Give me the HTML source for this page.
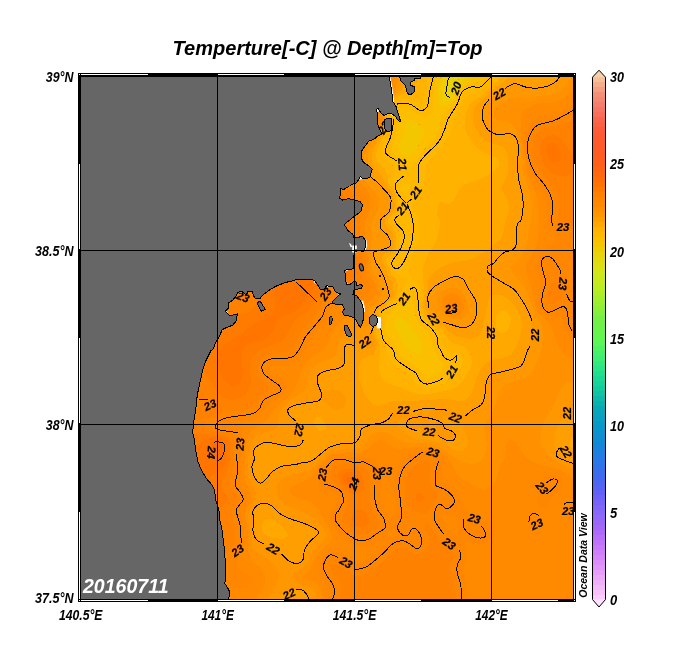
<!DOCTYPE html>
<html><head><meta charset="utf-8"><title>Temperture[-C] @ Depth[m]=Top</title>
<style>html,body{margin:0;padding:0;background:#fff}svg{display:block}</style></head>
<body>
<svg width="684" height="660" viewBox="0 0 684 660">
<rect width="684" height="660" fill="#fff"/>
<defs><clipPath id="mc"><rect x="81" y="77" width="492" height="522"/></clipPath></defs>
<g clip-path="url(#mc)">
<rect x="81" y="77" width="492" height="522" fill="#ff8c00"/>
<g shape-rendering="crispEdges" fill-rule="evenodd">
<path fill="#e9d30b" d="M450 76L452 76L454 76L456 76L458 76L460 76L459.5 78L458 80L457.5 82L457 84L456 86L455 88L454 89.5L452.5 92L450.5 94L448 95.5L447 94L446 92L446 90.5L446 88L446.5 86L447.5 84L448 82L448.5 80L449 78L449 76Z"/>
<path fill="#eecd05" d="M444 76L446 76L448 76L449 78L448.5 80L448 81.5L447.5 84L446.5 86L446 88L446 89.5L446 92L447 94L448 95.5L450 95L452 92.5L453.5 90L455 88L456 86.5L457 84L457.5 82L458 80.5L459.5 78L460 76.5L462 76L464 76L466 76L468 76L466.5 78L464 79.5L462 82L461 84L460.5 86L460 87.5L458 90L456 92L454.5 94L454 95.5L452.5 98L450 100L448 101L446 101.5L444 101L442.5 100L441.5 98L441.5 96L441.5 94L441.5 92L441 90L441 88L441 86L441.5 84L442.5 82L443 80L443.5 78L443.5 76Z"/>
<path fill="#f4c600" d="M442 76L443.5 76L443.5 78L443 80L442.5 82L441.5 84L441 86L441 88L441 90L441.5 92L441.5 94L441.5 96L441.5 98L442.5 100L444 101L446 101.5L448 101L450 100L452 98.5L453.5 96L454.5 94L456 92L458 90L459.5 88L460.5 86L461 84L462 82L463.5 80L466 78.5L468 76.5L470 76L472 76L474 76L473.5 78L472 79L470 80L468 80.5L466 81.5L464 84L463 86L462.5 88L461 90L460 91L458 93.5L457 96L456.5 98L455.5 100L454 101L453 102L450 103.5L448 104.5L446 105.5L444 106L442 106L440 105L438 102L437.5 100L437.5 98L437.5 96L438 94L438 92L438 90L438 88L438 86L438.5 84L439 82L440 80L440.5 78L440.5 76L442 76ZM408 120.5L410 120L412 120.5L414 121L416 122L418 123.5L420 125L421 126L422 127.5L423.5 130L423.5 132L423.5 134L423 136L422.5 138L421.5 140L420.5 142L419.5 144L418 146L417 148L416 149.5L414 152L412 154L410 155.5L408 156L406 156L404 155.5L402 154L400 152L399 150L399 148L399 146L399.5 144L400 142L401 140L401.5 138L402 136.5L403 134L403.5 132L403.5 130L404 128L404.5 126L405 124L406 122.5L408 120.5ZM400 318L402 318.5L404 319.5L406 321L408 323.5L410 325.5L412 328L413.5 330L415 332L417 334L418 335.5L419.5 338L420.5 340L421 342L421.5 344L421.5 346L422 348L421.5 350L421.5 352L420 353.5L418 353.5L416 353.5L414 352.5L412 351.5L410 350.5L408 349L406 346.5L404 344L403 342L402 340.5L400.5 338L400 336.5L398.5 334L397.5 332L396 330L395 328L394 326L394 324L394 322L395 320L398 318L400 318Z"/>
<path fill="#fbbf00" d="M438 76L440 76L440.5 78L440 79.5L439 82L438.5 84L438 85.5L438 88L438 90L438 92L438 94L437.5 96L437.5 98L437.5 100L438 101.5L439 104L442 106L444 106L446 105.5L448 104.5L450 103.5L452 102.5L454 101L455.5 100L456.5 98L457 96L458 94L459 92L461 90L462 88.5L463 86L464 84L465.5 82L468 80.5L469.5 80L472 79L473.5 78L475 76L478 76L480 76L482 76L484 76L483.5 78L482 79.5L480 81L478.5 82L476 83L474 83.5L472 84L470 84L468 84.5L466.5 86L465.5 88L464 90L462.5 92L461 94L460 96L459.5 98L459 100L458 102L456 104L454 105.5L453 106L450 108L448 109.5L446 112L444.5 114L443 116L442 117.5L441 120L440 122L440 124L439.5 126L439 128L438 130L437.5 132L436.5 134L435.5 136L434.5 138L433 140L432 141L430 143.5L428 145.5L426 147.5L424 150L422.5 152L421 154L420 155L418 157.5L416 160L414.5 162L413 164L412 165.5L410 167.5L408 167L406 165.5L404.5 164L402.5 162L400.5 160L398 158L396.5 156L394.5 154L392.5 152L392 150.5L391.5 148L392 146L393 144L393.5 142L394.5 140L395 138L395.5 136L396 134L396.5 132L397 130L397 128L397.5 126L397.5 124L398 122L398 120L398 118.5L398 116L397.5 114L398 112.5L400 110L402 109.5L404 109L406 109.5L408 109.5L410 110L412 111L413.5 112L416 113.5L418 114.5L420 115.5L421.5 116L424 116.5L426 116.5L428 116L430 115L431 114L432 112.5L432.5 110L432.5 108L432.5 106L432.5 104L432.5 102L432.5 100L432.5 98L433 96L433.5 94L434 92L434 90L434 88L434 86.5L434.5 84L435 82L436 80L436.5 78L437 76ZM406.5 122L405 124L404.5 126L404 128L403.5 130L403.5 132L403 134L402 136L401.5 138L401 140L400 142L399.5 144L399 146L399 148L399 150L400 151.5L402 154L404 155.5L406 156L408 156L410 155.5L412 154L414 152L415.5 150L417 148L418 146.5L419.5 144L420 142.5L421.5 140L422.5 138L423 136L423.5 134L423.5 132L423.5 130L422.5 128L421 126L420 125L419 124L416 122L414 121L412 120.5L410 120L408 120.5L406.5 122ZM406 183.5L408 182.5L410 183L410 184.5L409.5 186L409 188L408.5 190L407 192L404 193L402 192L400.5 190L400 188L401.5 186L404 184.5L406 183.5ZM404 219.5L404.5 222L403.5 220ZM408 301L410 300L412 300.5L413 302L413.5 304L413.5 306L413.5 308L413.5 310L414 312L415 314L415.5 316L416.5 318L417.5 320L418.5 322L420 324L421.5 326L423 328L425.5 330L427.5 332L429 334L430 336L430.5 338L431.5 340L432 342L432 344L432.5 346L433.5 348L434 349.5L435 352L436 353.5L437 356L438 357.5L439.5 360L441.5 362L443.5 364L444 366L443 368L442 369.5L440 372L438 373.5L436 375L434.5 376L432 377L430 377.5L428 377.5L426 377L424.5 376L423 374L421.5 372L420 370L418 368L416 367L414 365.5L412 364.5L410 363L408.5 362L406 360.5L404 359L403 358L401 356L400 354.5L398.5 352L398 350.5L396.5 348L395.5 346L394 344L392.5 342L391 340L390 339L388.5 336L387 334L386 332L385 330L385 328L385.5 326L386 324L386 322.5L386 320L386 318L386 316L388 314.5L390 313L391 312L392 310.5L393.5 308L396 306.5L398 306L400 305.5L402 305L403.5 304L406 302.5L408 301ZM399.5 318L396 319.5L394 322L394 324L394 326L395 328L396 329.5L397.5 332L398.5 334L399.5 336L400.5 338L402 340L403 342L404 344L405.5 346L407 348L409.5 350L412 351.5L414 352.5L416 353.5L418 353.5L420 353.5L421.5 352L421.5 350L422 348L421.5 346L421.5 344L421 342L420.5 340L419.5 338L418.5 336L417 334L415 332L414 330.5L412 328L410 326L408.5 324L407 322L404.5 320L402 318.5L400.5 318Z"/>
<path fill="#ffb800" d="M428 78L428 76L430 76L432 76L434 76L436 76L436.5 78L436 80L435 82L434.5 84L434 86L434 88L434 90L434 92L433.5 94L433 96L432.5 98L432.5 100L432.5 102L432.5 104L432.5 106L432.5 108L432.5 110L432.5 112L431 114L430 115L428 116L426 116.5L424 116.5L422 116L420 115.5L418 114.5L416 113.5L414 112.5L412 111L410 110L408 109.5L406 109.5L404 109L402 109.5L400 110L398 112L397.5 114L398 116L398 118L398 120L398 122L397.5 124L397.5 126L397 128L397 130L396.5 132L396 134L395.5 136L395 138L394.5 140L393.5 142L393 144L392 146L391.5 148L391.5 150L392.5 152L394 153.5L396 155.5L398 158L400 160L402 162L404 163.5L406 165.5L408 167L410 167.5L411 166L413 164L414 162.5L416 160L417.5 158L419.5 156L421 154L422 152.5L424 150L426 148L427.5 146L429.5 144L431.5 142L433 140L434 138.5L435.5 136L436.5 134L437.5 132L438 130L439 128L439.5 126L440 124L440 122L441 120L441.5 118L443 116L444 114.5L446 112L447.5 110L450 108L452 106.5L454 105.5L456 104L458 102L459 100L459.5 98L460 96L461 94L462 92.5L464 90L465.5 88L466 86.5L468 84.5L470 84L472 84L474 83.5L476 83L478 82.5L480 81L481.5 80L483.5 78L484.5 76L486 76L488 76L490 76L492 76L494 76L495.5 76L494.5 78L493 80L490 82L488 83.5L486 85L484 87.5L482 89.5L480 91.5L478 92.5L476 93L474 93.5L472 93.5L470 94L468 94L466 95L465 96L464 98L463.5 100L463 102L462 104L460.5 106L459.5 108L459 110L458.5 112L457.5 114L456.5 116L455.5 118L454 120L453 122L452.5 124L452 126L451 128L450.5 130L450 132L449.5 134L448.5 136L447.5 138L446.5 140L445.5 142L444 144L443 146L442 147L440 149.5L438 151.5L436 153.5L434 155L432 157L431 158L430 159L428 161.5L426.5 164L425.5 166L425 168L424.5 170L424.5 172L424.5 174L424.5 176L424.5 178L424.5 180L424 182L424 184L423.5 186L422.5 188L422 189.5L421 192L420 194L419 196L418 197.5L416 200L414 201.5L412 204L412 206L413 208L414 209.5L416 212L416.5 214L417.5 216L418 218L418 220L418.5 222L419 224L419 226L419 228L419 230L419 232L419 234L418.5 236L418.5 238L418 239.5L417.5 242L416.5 244L416 246L415.5 248L415 250L414.5 252L413.5 254L412.5 256L412 257.5L411 260L410 262L409.5 264L409 266L408.5 268L408.5 270L408.5 272L408.5 274L409 276L411 278L414 279.5L416 281.5L418 284L418.5 286L419.5 288L420 289.5L420.5 292L421 294L421 296L420.5 298L420 299.5L419.5 302L419 304L419 306L419.5 308L420.5 310L421 312L421 314L422 316L423.5 318L426 320L428 321.5L429.5 324L431.5 326L433.5 328L436 330L438 331.5L439.5 334L440.5 336L441 338L441.5 340L442 342L443 344L444 346L444.5 348L446 350L448 352L450 352.5L452 352.5L454 352.5L456 352.5L458 353L459.5 354L461 356L461.5 358L462.5 360L462.5 362L462.5 364L462 366L460.5 368L458 369.5L456 371L454.5 372L453 374L451.5 376L450 377.5L448 380L446 381.5L444 383L442.5 384L440 385L438 386L436 386.5L434 387L432 387L430 387.5L428 387.5L426 387.5L424 387.5L422 387L420 386L418 385L416.5 384L414.5 382L413 380L412 378L410 376L408 374.5L406 373.5L404 372L402 371L400.5 370L398 368L396 366.5L394 365L392 362.5L390.5 360L389.5 358L388.5 356L387.5 354L387 352L386 350.5L385 348L384.5 346L383.5 344L382.5 342L381.5 340L380.5 338L379.5 336L379 334L379 332L379.5 330L380.5 328L381.5 326L382.5 324L383 322L383 320L383 318L382.5 316L381.5 314L381.5 312L384 311L386 311L388 310L389 308L389.5 306L390 304.5L392 303L394 302.5L395.5 302L398 300.5L399 298L399.5 296L399.5 294L400.5 292L402 290L403.5 288L405 286L406 284L406.5 282L407 280L406 278.5L404 277L402 276.5L400 275.5L398 275L396.5 274L394.5 272L393.5 270L392.5 268L391.5 266L390.5 264L390 262.5L390 260L391.5 258L394 256.5L396 254.5L397.5 252L398.5 250L399 248L399 246L399 244L399 242L399.5 240L399.5 238L399.5 236L399.5 234L399 232L398.5 230L397.5 228L396 226L394 224L392.5 222L392 220L393.5 218L395.5 216L397.5 214L399 212L400 210L400 208L399.5 206L399 204L398.5 202L398 200L398 198L398 196L397.5 194L397 192L396 190L395 188L394 186L392.5 184L392 182.5L392 180L393 178L394 176.5L395.5 174L395.5 172L395 170L394 168L393 166L391 164L388.5 162L386 160L384 158.5L382 156L381.5 154L381.5 152L381.5 150L382.5 148L383 146L383.5 144L384.5 142L385 140L386 138L387 136L387.5 134L388 132.5L389 130L389.5 128L390 126L390.5 124L390.5 122L390 120L389.5 118L389.5 116L390 114L390.5 112L391.5 110L392 108L393 106L394 104L395.5 102L398 100L400 99.5L402 99L404 99L406 99L408 98.5L410 99L412 99L414 99.5L415.5 100L418 101L420 101.5L421 100L422 98L422.5 96L423 94L423.5 92L424.5 90L425 88L426 86L426.5 84L427 82L427.5 80L428 78ZM405 184L402 185.5L400 188L400.5 190L402 192L404 193L406 192.5L408 190.5L409 188L409.5 186L410 184.5L410 183L408 182.5L406 183.5ZM403.5 220L404 222L404.5 220ZM407 302L404 304L402 305L400 305.5L398 306L396 306.5L394 307L392.5 310L391 312L390 313L388.5 314L386 316L386 318L386 320L386 322L386 324L385.5 326L385 328L385 330L386 332L387 334L388 335.5L389.5 338L391 340L392 341.5L394 344L395.5 346L396.5 348L397.5 350L398.5 352L399.5 354L401 356L402 357L404 359L405.5 360L408 361.5L410 363L411.5 364L414 365.5L416 367L418 368L420 370L421.5 372L423 374L424 375.5L426 377L428 377.5L430 377.5L432 377L434 376L436 375L437.5 374L440 372L441.5 370L443 368L444 366L443.5 364L442 362.5L440 360.5L438 358L437 356L436 354L435 352L434 350L433.5 348L432.5 346L432 344L432 342L431.5 340L430.5 338L430 336.5L429 334L427.5 332L426 330.5L424 329L422 327L420 324L418.5 322L417.5 320L416.5 318L416 316.5L415 314L414 312L413.5 310L413.5 308L413.5 306L413.5 304L413 302L412 300.5L410 300L408 301L407 302Z"/>
<path fill="#ffb200" d="M420 76L422 76L424 76L426 76L428 76L428 78L427.5 80L427 82L426.5 84L426 85.5L425 88L424.5 90L423.5 92L423 94L422.5 96L422 98L421 100L420 101.5L418 101L416 100L414 99.5L412 99L410 99L408 98.5L406 99L404 99L402 99L400 99.5L398.5 100L396 101.5L394 104L393 106L392 108L391.5 110L390.5 112L390 114L389.5 116L389.5 118L390 120L390.5 122L390.5 124L390 125.5L389.5 128L389 130L388 132L387.5 134L387 136L386 138L385 140L384.5 142L383.5 144L383 146L382.5 148L381.5 150L381.5 152L381.5 154L382 155.5L383.5 158L386 160L388 161.5L390 163L392 165L394 168L395 170L395.5 172L395.5 174L394.5 176L393 178L392 179.5L392 182L392.5 184L394 186L395 188L396 190L397 192L397.5 194L398 196L398 198L398 200L398.5 202L399 204L399.5 206L400 208L400 210L399 212L398 213.5L396 215.5L394 217.5L392 220L392.5 222L394 224L396 226L397.5 228L398 229.5L399 232L399.5 234L399.5 236L399.5 238L399.5 240L399 242L399 244L399 246L399 248L398.5 250L397.5 252L396.5 254L394.5 256L392 258L390 260L390 262L390.5 264L391.5 266L392.5 268L393.5 270L394 271.5L396 273.5L398 275L400 275.5L402 276.5L404 277L405.5 278L407 280L406.5 282L406 284L405 286L404 287L402 289.5L400.5 292L399.5 294L399.5 296L399 298L398.5 300L396 302L394 302.5L392 303L390 304L389.5 306L389 308L388 310L386 311L384 311L382 311.5L381.5 314L382.5 316L383 318L383 320L383 322L382.5 324L381.5 326L380.5 328L379.5 330L379 332L379 334L379.5 336L380.5 338L381.5 340L382.5 342L383.5 344L384 345.5L385 348L386 350L387 352L387.5 354L388.5 356L389.5 358L390 359.5L391.5 362L393 364L395 366L397.5 368L400 369.5L402 371L403.5 372L406 373.5L408 374.5L410 376L412 378L413 380L414 381L416 383.5L418 385L419.5 386L422 387L424 387.5L426 387.5L428 387.5L430 387.5L432 387L434 387L436 386.5L438 386L440 385L442 384.5L444 383L445.5 382L448 380L450 378L451.5 376L453 374L454 372.5L456 371L457.5 370L460 368.5L462 366L462.5 364L462.5 362L462.5 360L461.5 358L461 356L460 354.5L458 353L456 352.5L454 352.5L452 352.5L450 352.5L448 352L446 350L444.5 348L444 346.5L443 344L442 342L441.5 340L441 338L440.5 336L439.5 334L438.5 332L436.5 330L434 328.5L432 326.5L430 324.5L428.5 322L426 320L424 318.5L422 316L421 314L421 312L420.5 310L419.5 308L419 306L419 304L419.5 302L420 300L420.5 298L421 296L421 294L420.5 292L420 290L419.5 288L418.5 286L418 284.5L416.5 282L414 280L412 278.5L410 277L408.5 274L408.5 272L408.5 270L408.5 268L409 266L409.5 264L410 262L411 260L411.5 258L412.5 256L413.5 254L414 252.5L415 250L415.5 248L416 246.5L416.5 244L417.5 242L418 240L418.5 238L418.5 236L419 234L419 232L419 230L419 228L419 226L419 224L418.5 222L418 220L418 218L417.5 216L416.5 214L416 212.5L414.5 210L413 208L412 206L412 204L413.5 202L416 200L417.5 198L419 196L420 194L421 192L422 190L422.5 188L423.5 186L424 184L424 182L424.5 180L424.5 178L424.5 176L424.5 174L424.5 172L424.5 170L425 168L425.5 166L426.5 164L427.5 162L429 160L431 158L432 157L433 156L435.5 154L437.5 152L439.5 150L441.5 148L443 146L444 144.5L445.5 142L446.5 140L447.5 138L448.5 136L449.5 134L450 132L450.5 130L451 128L452 126L452.5 124L453 122L454 120.5L455.5 118L456.5 116L457.5 114L458.5 112L459 110L459.5 108L460.5 106L462 104L463 102L463.5 100L464 98L465 96L466 95L468 94L470 94L472 93.5L474 93.5L476 93L478 92.5L480 91.5L481.5 90L483.5 88L485 86L487.5 84L490 82L492 80.5L494 79L495.5 76L498 76L500 76L501.5 76L500.5 78L499 80L498 81L496 83L494.5 84L492 85.5L490 87L489 88L487 90L486 91L484 93.5L482 95.5L480 97L478 98L476 99L474.5 100L472 102L470.5 104L469 106L468 107.5L467 110L466.5 112L466 113.5L465.5 116L465 118L465 120L464.5 122L464.5 124L464.5 126L465 128L465.5 130L466.5 132L467 134L468 135.5L470 138L471 140L472 141.5L474 144L475 146L477 148L478 149L479.5 150L482 151.5L484 152.5L486 153.5L487.5 154L490 155L492 155.5L494 156.5L496 157.5L498 160L499 162L499 164L498.5 166L497.5 168L496 169.5L494 171L492 172.5L490 174L488 175L486 176L484 177L482 178L480 179L478 180L476 181L474 181.5L472 182L470 182.5L468 183L466 184L464 185L462 186L460 188L459 190L458 192L457 194L456.5 196L455 198L454 199.5L452 202L450 203.5L448 204L446 203.5L444 202.5L442.5 202L440 202.5L439 204L438 206L437.5 208L437.5 210L437 212L437 214L437.5 216L439 218L439.5 220L440 222L440 224L439.5 226L439 228L439 230L438.5 232L438 234L437.5 236L437 238L436.5 240L435.5 242L434.5 244L433.5 246L432.5 248L431 250L430 251.5L428.5 254L427.5 256L426.5 258L426 259.5L425 262L424 264L423.5 266L423 268L422.5 270L422.5 272L422.5 274L422.5 276L423 278L423 280L423 282L423.5 284L424 286L424 288L424 290L424.5 292L424.5 294L424 296L423.5 298L423 300L422.5 302L422 303.5L422 306L422.5 308L423 310L423.5 312L424.5 314L426 316L428 317.5L430 319L432 322L434 324L436 325.5L438 327L440 328L442 329.5L444 332L445 334L446 335.5L448 338L449.5 340L451.5 342L454 343.5L455.5 344L458 345L460 345.5L461.5 346L464 347L465.5 348L467.5 350L469.5 352L470 353.5L471 356L471.5 358L471.5 360L471.5 362L471.5 364L471 366L470.5 368L469.5 370L468.5 372L467.5 374L466 376L464.5 378L463 380L462 381.5L460 383.5L458 385.5L456 387L454 388L452 389L450 389.5L448.5 390L446 390.5L444 391L442 391.5L440 392L438 392L436 392.5L434 393L432 393.5L430 393.5L428 393.5L426 394L424 394L422 394L420 393.5L418 393.5L416 393L414 392.5L412 392L410 391.5L408 390.5L406 390L404 389L402 388L400 387L398 386.5L396 386L394 385.5L392 385L390 384L388 383L386 382L384 380.5L382 378L381 376L380 374L379.5 372L379 370L378.5 368L378.5 366L379 364L379 362L379 360L379.5 358L379.5 356L380 354L380 352L380 350L380 348L380 346L379.5 344L379 342L378.5 340L377.5 338L376.5 336L376 334L376 332L376.5 330L377.5 328L378.5 326L380 324L380.5 322L381 320L381 318L380 316L379 314L378 312.5L378.5 310L380 309.5L382 309L384 308.5L386 308L387 306L387.5 304L388.5 302L390 301L392 300.5L394 299.5L395.5 298L396 296L396.5 294L396.5 292L397 290L397 288L397.5 286L397.5 284L397 282L396 280L394.5 278L392.5 276L391 274L390.5 272L389.5 270L389 268L388 266L387 264L386 262L385.5 260L386 258L388 256L390 255L392 254L394 252.5L395 250L395.5 248L396 246L396 244L396 242L396 240L396 238L396 236L395.5 234L395.5 232L394.5 230L393 228L392 227L390 225L388 222L388 220L389 218L390 217L392 215L393 214L395.5 212L396.5 210L397 208L397 206L396.5 204L396 202L395.5 200L395.5 198L395.5 196L395 194L394.5 192L393.5 190L392 188L390 186L388.5 184L387.5 182L387.5 180L387.5 178L387.5 176L387 174L386 172L385 170L384 169L382 167L380 164.5L378 162L377 160L376.5 158L376 156L376 154L376.5 152L377 150L377.5 148L378.5 146L379.5 144L380 142.5L381 140L382 138.5L383.5 136L384.5 134L385.5 132L386 130.5L387 128L387.5 126L388 124L387.5 122L387.5 120L387 118L387 116L387 114L387.5 112L388 110L388.5 108L389.5 106L390 104.5L391.5 102L393 100L395.5 98L398 96.5L400 95.5L402 94L404 93L405.5 92L408 90L410 88.5L412 87L414 85L416 82.5L417.5 80L418 78.5L418.5 76ZM500 311.5L502 310.5L504 310.5L506 311.5L508 313L510 316L510.5 318L510.5 320L510.5 322L510 324L509.5 326L508.5 328L507.5 330L506 331.5L504 332.5L502 333L500 332.5L498 330.5L496.5 328L496 326L496 324L496 322L496 320L496 318L496.5 316L497.5 314L499 312Z"/>
<path fill="#ffa800" d="M412 76L414 76L416 76L418 76L418 78L417.5 80L416 82L415 84L413 86L411 88L408 90L406 91.5L404 93L402.5 94L400 95.5L399 96L396 97.5L394 99L392 101L390.5 104L389.5 106L388.5 108L388 110L387.5 112L387 114L387 116L387 118L387.5 120L387.5 122L388 124L387.5 126L387 128L386 130L385.5 132L384.5 134L383.5 136L382.5 138L381 140L380 142L379.5 144L378.5 146L377.5 148L377 150L376.5 152L376 154L376 156L376.5 158L377 160L378 162L379.5 164L381 166L383 168L385 170L386 171.5L387 174L387.5 176L387.5 178L387.5 180L387.5 182L388.5 184L390 186L392 188L393.5 190L394.5 192L395 194L395.5 196L395.5 198L395.5 200L396 202L396.5 204L397 206L397 208L396.5 210L395.5 212L394 213.5L392 215L391 216L389 218L388 220L388 222L389.5 224L391 226L393 228L394 229L395.5 232L395.5 234L396 236L396 238L396 240L396 242L396 244L396 246L395.5 248L395 250L394 252L392 254L390 255L388 256L386 258L385.5 260L386 262L387 264L388 266L389 268L389.5 270L390.5 272L391 274L392 275.5L394 277.5L396 280L397 282L397.5 284L397.5 286L397 288L397 290L396.5 292L396.5 294L396 296L395.5 298L394 299.5L392 300.5L390 301L388.5 302L387.5 304L387 306L386 308L384 308.5L382 309L380 309.5L378.5 310L378 311.5L379 314L380 316L381 318L381 320L380.5 322L380 323.5L378.5 326L378 327.5L376.5 330L376 332L376 334L376.5 336L377.5 338L378.5 340L379 342L379.5 344L380 346L380 348L380 350L380 352L380 354L379.5 356L379.5 358L379 360L379 362L379 364L378.5 366L378.5 368L379 370L379.5 372L380 374L381 376L382 378L383.5 380L386 382L388 383L389.5 384L392 385L394 385.5L396 386L398 386.5L400 387L402 388L404 389L406 390L408 390.5L410 391.5L411.5 392L414 392.5L416 393L418 393.5L420 393.5L422 394L424 394L426 394L428 393.5L430 393.5L432 393.5L434 393L436 392.5L438 392L440 392L442 391.5L444 391L446 390.5L448 390L450 389.5L452 389L454 388L456 387L457.5 386L459.5 384L461.5 382L463 380L464.5 378L466 376L467.5 374L468.5 372L469.5 370L470.5 368L471 366L471.5 364L471.5 362L471.5 360L471.5 358L471 356L470.5 354L469.5 352L468 350.5L466 348.5L464 347L462 346L460 345.5L458 345L456 344L454 343.5L452 342.5L450 340.5L448 338.5L446.5 336L445 334L444 332L442.5 330L440 328L438 327L436.5 326L434 324L432 322L431 320L429 318L426 316L424.5 314L423.5 312L423 310L422.5 308L422 306L422 304L422.5 302L423 300L423.5 298L424 296L424.5 294L424.5 292L424 290L424 288L424 286L423.5 284L423 282L423 280L423 278L422.5 276L422.5 274L422.5 272L422.5 270L423 268L423.5 266L424 264L425 262L425.5 260L426.5 258L427.5 256L428.5 254L430 252L431 250L432 248.5L433.5 246L434.5 244L435.5 242L436.5 240L437 238L437.5 236L438 234L438.5 232L439 230L439 228L439.5 226L440 224L440 222L439.5 220L439 218L438 217L437 214L437 212L437.5 210L437.5 208L438 206.5L439 204L440 202.5L441.5 202L444 202.5L446 203.5L447.5 204L450 203.5L452 202L453.5 200L455 198L456 196.5L457 194L458 192L459 190L460 188L462 186L464 185L465.5 184L468 183L470 182.5L472 182L474 181.5L476 181L478 180L480 179L482 178L484 177L485.5 176L488 175L489.5 174L492 172.5L494 171L495.5 170L497.5 168L498.5 166L499 164L499 162L498 160L496.5 158L494 156.5L492 155.5L490 155L488 154L486 153.5L484 152.5L482.5 152L480 150.5L478 149L477 148L476 147L474 144.5L472.5 142L471 140L470 138.5L468.5 136L467 134L466.5 132L465.5 130L465 128L464.5 126L464.5 124L464.5 122L465 120L465 118L465.5 116L466 114L466.5 112L467 110L468 108L469 106L470 104.5L472 102L474 100L476 99L477.5 98L480 97L481 96L483.5 94L485.5 92L487 90L488 89L490 87L491.5 86L494 84.5L496 83L497 82L499 80L500 79L501.5 76L504 76L506 76L508 76L508 77.5L506 79.5L504 81L502 83L500.5 84L498.5 86L496 87.5L494 89L492 90L490 92L488 94L486.5 96L484.5 98L482.5 100L480 101.5L478 103L476 105.5L474.5 108L474 109.5L473.5 112L473 114L473 116L473 118L473 120L473.5 122L474 124L474.5 126L475.5 128L476.5 130L478 132L479.5 134L481 136L482 137L484 139L485 140L488 142L490 143L492 143.5L493.5 144L496 145L498 145.5L500 146L502 147L503.5 148L505.5 150L506.5 152L507 154L507.5 156L508 158L508 160L508 162L508 164L508 166L508 168L508 170L507.5 172L507.5 174L506.5 176L506 178L505 180L504 182L503 184L502 186L502 188L502 190L503 192L504 194L505.5 196L506.5 198L507.5 200L508 201.5L508.5 204L509 206L509 208L509 210L508.5 212L508 214L507.5 216L506.5 218L506 219.5L505.5 222L505 224L504.5 226L504 228L504 230L503.5 232L503 234L502 236L501 238L500 239L498 241L496.5 242L494 244L492 246L490 247.5L488 249.5L486 251L484.5 252L482 253.5L480 254.5L478 256L476 257L474.5 258L472 259L470 260L468 260L466 260.5L464 260.5L462 261L460 261L458 261.5L456 261.5L454 262L452 263L450 263.5L448 264.5L446 265L444.5 266L442 267L440.5 268L438 269.5L436 270.5L434 272L432 274L430.5 276L429.5 278L428.5 280L428 282L428 284L428 286L427.5 288L427.5 290L427 292L427 294L426.5 296L426 298L425.5 300L425 302L424.5 304L424.5 306L425 308L425.5 310L426.5 312L428 314L430 315.5L432 317L434 320L436 322L438 323.5L439.5 324L442 325.5L444 326.5L445.5 328L447.5 330L449.5 332L452 334L454 335L456 336L458 336.5L460 337L462 337.5L464 338L465.5 338L468 338.5L470 338.5L472 338.5L473.5 338L476 337.5L478 336L480 334L481 332L482 330L482.5 328L483 326L483.5 324L484 322L484.5 320L485 318L485.5 316L486 314L486 312L486.5 310L487 308L487.5 306L487.5 304L488 302L488.5 300L489.5 298L490 296.5L492 295L494 294.5L496 294.5L498 294.5L500 295L502 295.5L504 296.5L506 297.5L508 299L510 301L511 302L512 303L514 305.5L515.5 308L517 310L518 312L519 314L520 316L520.5 318L521 320L521.5 322L521.5 324L521.5 326L521.5 328L521 330L520.5 332L520.5 334L520 336L519.5 338L519 340L518.5 342L517.5 344L516.5 346L515.5 348L514.5 350L513 352L512 353L510 355L508 356L506 357L504 357.5L502.5 358L500 358.5L498 359L496 359L494 359.5L492 360L490 360.5L488 361.5L486 363L485 364L483 366L482 367.5L480.5 370L479.5 372L478.5 374L477.5 376L476.5 378L476 380L475.5 382L475 384L474 386L473.5 388L473 390L472 392L471 394L470 395.5L468 397.5L466 399L464.5 400L462 401L460 401L458 400.5L456 400.5L454 400L452 399.5L450 399.5L448 399L446 399L444 398.5L442 398.5L440 399L438 399L436 399.5L434 399.5L432 399.5L430 400L428 400L426 400L424 400L422 400L420 400.5L418 400.5L416 401L414 401L412 401L410 401L408 401L406 401L404 401L402 401L400 401L398 401L396 401L394 401L392 401.5L390 402L388 402.5L386 403L384 404L382 405L380 405.5L378 405.5L376 405.5L374 405L372 404L370 402L368.5 400L367 398L366 396.5L364 394L363.5 392L363 390L362.5 388L362 386.5L361 384L360.5 382L359.5 380L359 378L358.5 376L358.5 374L358.5 372L359 370L359 368L359.5 366L360 364L360.5 362L361.5 360L363 358L366 357L368 356.5L370 356L372 355L374 353L375.5 350L376.5 348L377 346L377 344L376.5 342L376 340L375.5 338L374.5 336L374 334.5L373.5 332L374 330.5L375 328L376 326.5L377.5 324L378.5 322L379 320L379 318L378 316L376.5 314L375 312L375.5 310L378 308L380 307L382 306.5L383.5 306L385 304L386 302L387.5 300L390 298.5L392 297.5L393.5 296L393.5 294L393.5 292L393.5 290L393 288L393 286L393 284L392.5 282L391.5 280L390 278.5L388.5 276L387.5 274L387 272L386.5 270L386 268.5L384.5 266L384 264.5L382.5 262L382 260L382 258L382 256L384 254L386 253L388 252.5L389.5 252L392 250L393 248L393 246L393 244L393 242L393 240L393 238L393 236L392.5 234L392 232L390.5 230L388.5 228L387 226L386 225L385 222L385 220L386 218L387.5 216L389.5 214L391.5 212L393.5 210L394.5 208L394.5 206L394.5 204L393.5 202L393 200L393 198L393 196L392.5 194L392 192L390.5 190L388 188L386 186L385 184L384.5 182L384 180L383 178L382 176L380.5 174L378.5 172L376 170L374.5 168L373.5 166L372.5 164L372 162L372 160L371.5 158L371.5 156L372 154L372.5 152L373 150L374 148L375 146L376 144L377 142L378 140.5L379.5 138L381 136L382 134.5L383.5 132L384 130.5L385 128L386 126L386 124L386 122L385.5 120L385.5 118L385 116L385 114L385 112L385.5 110L386 108L386.5 106L387.5 104L388.5 102L389.5 100L391.5 98L394 96L396 94.5L398 93L399.5 92L401.5 90L403 88L404 86.5L406 84.5L408 82L409 80L410 78.5L411 76ZM499 312L498 313.5L496.5 316L496 318L496 320L496 322L496 324L496 326L496.5 328L497.5 330L499.5 332L502 333L504 332.5L505 332L507.5 330L508.5 328L509.5 326L510 324L510.5 322L510.5 320L510.5 318L510 316.5L508.5 314L507 312L504 310.5L502 310.5L500 311.5ZM316 417.5L318 416.5L320 417L321 418L323 420L324 421L325.5 424L326 426L326 428L324.5 430L322 431L320 431L318 430L316.5 428L315.5 426L314.5 424L314 422L314.5 420L315.5 418ZM574 435.5L574 438L574 440L574 442L574 444L574 446L574 448L574 449.5L572 448.5L570 446.5L569.5 444L569.5 442L570 440L571 438L572 436.5L574 435.5ZM266 519L268 518.5L270 518.5L272 519L274 520L276 521.5L278 523L279 524L281.5 526L283 528L285 530L286 531.5L287.5 534L287.5 536L286 538L284 538.5L282 538.5L280 538.5L278 538.5L276 538L274 538L272 537.5L270 536.5L268 536L266 535L264.5 534L262.5 532L261.5 530L261.5 528L262 526L262.5 524L263.5 522L265 520Z"/>
<path fill="#ff9e00" d="M406 76L408 76L410 76L410.5 78L409 80L408 81.5L406.5 84L404.5 86L403 88L402 89L400 91L398 93L397 94L394 96L392 97.5L390 99.5L388.5 102L387.5 104L386.5 106L386 108L385.5 110L385 112L385 114L385 116L385.5 118L385.5 120L386 121.5L386 124L386 126L385 128L384.5 130L383.5 132L382 134L381 136L380 137.5L378.5 140L377 142L376 144L375 146L374 148L373 150L372.5 152L372 154L371.5 156L371.5 158L372 160L372 162L372.5 164L373.5 166L374.5 168L376 170L378 171.5L380 173.5L382 176L383 178L384 180L384.5 182L385 184L386 186L388 188L390 189.5L392 192L392.5 194L393 196L393 198L393 200L393.5 202L394.5 204L394.5 206L394.5 208L393.5 210L392 211.5L390 213.5L388 215L386 217.5L385 220L385 222L385.5 224L387 226L388 227.5L390 229.5L392 232L392.5 234L393 236L393 238L393 240L393 242L393 244L393 246L393 248L392 250L390 252L388 252.5L386 253L384 254L382 256L382 258L382 259.5L382.5 262L383.5 264L384.5 266L386 268L386.5 270L387 272L387.5 274L388.5 276L390 278L391.5 280L392 281.5L393 284L393 286L393 288L393.5 290L393.5 292L393.5 294L393.5 296L392 297.5L390 298.5L388 299.5L386 302L385 304L384 306L382 306.5L380 307L378 308L376 309.5L375 312L376 313.5L378 316L379 318L379 320L378.5 322L377.5 324L376 326L375 328L374 330L373.5 332L374 334L374.5 336L375.5 338L376 340L376.5 342L377 344L377 346L376.5 348L376 349.5L374.5 352L373 354L370 356L368 356.5L366 357L364 357.5L362 359L360.5 362L360 364L359.5 366L359 368L359 370L358.5 372L358.5 374L358.5 376L359 378L359.5 380L360.5 382L361 384L362 386L362.5 388L363 390L363.5 392L364 393.5L365.5 396L367 398L368 399L370 402L372 404L374 405L376 405.5L378 405.5L380 405.5L382 405L384 404L386 403L388 402.5L390 402L392 401.5L394 401L396 401L398 401L400 401L402 401L404 401L406 401L408 401L410 401L412 401L414 401L416 401L418 400.5L420 400.5L422 400L424 400L426 400L428 400L430 400L432 399.5L434 399.5L436 399.5L438 399L440 399L442 398.5L444 398.5L446 399L448 399L450 399.5L452 399.5L453.5 400L456 400.5L458 400.5L460 401L462 401L464 400L466 399L467.5 398L469.5 396L471 394L472 392.5L473 390L473.5 388L474 386L475 384L475.5 382L476 380L476.5 378L477.5 376L478.5 374L479.5 372L480.5 370L481.5 368L483 366L485 364L486 363L487.5 362L490 360.5L492 360L494 359.5L496 359L498 359L500 358.5L502 358L504 357.5L506 357L508 356L510 355L511 354L513 352L514 350.5L515.5 348L516.5 346L517.5 344L518 342.5L519 340L519.5 338L520 336L520.5 334L520.5 332L521 330L521.5 328L521.5 326L521.5 324L521.5 322L521 320L520.5 318L520 316.5L519 314L518 312L517 310L516 308.5L514.5 306L512.5 304L511 302L510 301L509 300L506.5 298L504 296.5L502 295.5L500 295L498 294.5L496 294.5L494 294.5L492 295L490.5 296L489.5 298L488.5 300L488 302L487.5 304L487.5 306L487 308L486.5 310L486 312L486 314L485.5 316L485 318L484.5 320L484 322L483.5 324L483 326L482.5 328L482 330L481 332L480 334L478 336L476 337.5L474 338L472 338.5L470 338.5L468 338.5L466 338L464 338L462 337.5L460 337L458 336.5L456 336L454 335L452 334L450 332.5L448 330.5L446 328.5L444 326.5L442 325.5L440 324.5L438 323.5L436 322L434 320L433 318L431 316L428 314L426.5 312L425.5 310L425 308L424.5 306L424.5 304L425 302L425.5 300L426 298.5L426.5 296L427 294L427 292L427.5 290L427.5 288L428 286L428 284L428 282L428.5 280L429.5 278L430.5 276L432 274L434 272L436 270.5L438 269.5L440 268.5L442 267L444 266L446 265L448 264.5L450 263.5L452 263L454 262L456 261.5L458 261.5L460 261L462 261L464 260.5L466 260.5L468 260L470 260L472 259L474 258L476 257L477.5 256L480 254.5L482 253.5L484 252.5L486 251L487 250L489.5 248L491.5 246L494 244L496 242.5L498 241L500 239L501 238L502 236.5L503 234L503.5 232L504 230L504 228L504.5 226L505 224L505.5 222L506 220L506.5 218L507.5 216L508 214.5L508.5 212L509 210L509 208L509 206L508.5 204L508 202L507.5 200L506.5 198L505.5 196L504 194L503 192L502 190L502 188L502 186L503 184L504 182L505 180L506 178L506.5 176L507.5 174L507.5 172L508 170L508 168L508 166L508 164L508 162L508 160L508 158L507.5 156L507 154L506.5 152L505.5 150L504 148L502 147L500 146L498 145.5L496 145L494 144L492 143.5L490 143L488 142L486 140.5L484 139L483 138L481 136L480 135L478 132L476.5 130L476 129L474.5 126L474 124.5L473.5 122L473 120L473 118L473 116L473 114L473.5 112L474 110L474.5 108L475.5 106L477 104L479.5 102L482 100L484 98.5L486 96.5L488 94.5L490 92L492 90L494 89L495.5 88L498 86L500 84.5L502 83L504 81L505.5 80L507.5 78L509 76L512 76L514 76L516 76L518 76L520 76L522 76L524 76L526 76L528 76L530 76L532 76L534 76L536 76L538 76L540 76L542 76L544 76L546 76L548 76L550 76L552 76L554 76L556 76L558 76L558.5 78L557 80L556 81L554 83L552.5 84L550 85L548 86L546 86.5L544 87L542 87L540 87.5L538 88L536 88L534 88L532 88L530 87.5L528 87.5L526 87L524 86.5L522.5 86L520 85L518 84.5L516 84L514 84L512 84.5L510 85.5L508 87L506.5 88L504 90L502 91.5L500 92.5L498 94L496 95L494.5 96L492 97.5L490 99.5L488 101.5L486 104L484.5 106L483.5 108L483 110L482.5 112L482.5 114L482.5 116L482.5 118L483 120L483.5 122L484 123.5L485.5 126L487 128L488 129.5L490 131.5L492 132.5L494 133.5L495.5 134L498 134.5L500 134.5L502 134.5L504 134L506 134L508 133.5L510 134L512 135L513.5 136L514.5 138L515.5 140L516 141.5L517 144L518 146L518 148L517 150L517 152L517 154L518 156L518.5 158L519 160L518.5 162L518 164L518 166L518 168L518 170L518 172L518 174L518.5 176L518.5 178L519 180L519.5 182L520 184L520 186L520.5 188L521.5 190L522 192L522 194L522.5 196L522.5 198L522.5 200L523 202L523 204L523 206L523 208L523 210L522.5 212L522 214L522 216L521.5 218L520.5 220L519.5 222L518 224L517.5 226L517 228L517 230L516.5 232L516.5 234L516.5 236L516.5 238L516.5 240L516.5 242L516 244L515.5 246L514 248L512 249.5L510 250.5L508 251L506 252L504 253L502 254L500 256L498 258L496.5 260L494.5 262L492 264L490 265L489 266L488 267.5L487.5 270L488 271.5L489.5 274L492 276L494 277.5L496 278.5L498 279.5L500 281L502 282L504 283.5L506 284.5L508 285.5L510 287L512 288L514 289.5L516 292L517.5 294L519 296L520 297.5L521.5 300L523 302L524 303.5L525.5 306L527 308L527.5 310L528.5 312L529 314L530 316L530.5 318L531.5 320L532 321.5L532.5 324L532 326L532 328L531.5 330L531.5 332L531 334L531 336L531 338L530.5 340L530.5 342L530 344L529.5 346L529 348L528 350L527 352L526.5 354L525.5 356L525 358L524 360L523 362L522 363.5L520 365.5L518 367L516 367.5L514 368.5L512 369L510 369.5L508.5 370L506 371L504 371.5L502 372L500 372L498 372.5L496 373L494 373.5L492 374.5L490 375.5L488 378L487 380L486.5 382L486 384L485.5 386L485.5 388L485.5 390L485 392L485 394L484.5 396L484 398L483.5 400L482.5 402L481 404L480 405L478 406.5L476 408L474 409.5L472 411L470.5 412L468 414L466 415L464 416L462 415.5L460 415L458.5 414L456 413L454 412L452 411.5L450 411.5L448 411L446 411L444 410L442 409.5L440 409.5L438 409L436 409L434 408.5L432 409L430.5 410L429.5 412L428.5 414L428 416L426 417L424.5 416L423.5 414L423 412L422 410.5L420 411L418 413.5L416.5 416L414 416.5L412 414.5L410 412L408 412L406 412L404 412L402 412.5L400 412L398 412L396 412L394 413L392 414L390.5 416L389 418L387 420L384 422L382 422.5L380 423L378 423.5L376 424L374 424L372 424.5L370 425L368 425.5L366 426.5L364 427.5L362 429.5L360.5 432L360 434L359.5 436L359 438L358 440L356 441.5L354 442.5L352 442.5L350 443L348 443L346 443L344 443.5L342 444L340 444.5L338 444.5L336 445L334 446L332 446.5L330 447.5L328 448.5L326 449.5L324 451L323 452L320.5 454L318 455.5L316 457L314.5 458L312 460L310 461.5L308.5 462L306 462.5L304 462.5L302 463L300 463.5L298 464L296 464L294 464.5L292 465L290 465.5L288 465.5L286 466L284 466L282 467L280 467.5L278 468.5L276 469.5L274 471L272.5 472L270.5 474L269 476L267.5 478L266 479.5L264 481.5L262 482.5L260 482.5L258 481L257 480L256 479L254.5 476L253.5 474L253 472L253 470L253 468L253 466L253 464L253.5 462L254 460L254 458L254 456L254 454L254.5 452L255 450L256 448L257.5 446L259.5 444L262 443L264 442.5L266 442.5L268 442.5L270 443L272 443L274 443.5L276 444L278 444L280 444.5L282 445L284 445.5L286 446L288 446L290 446L292 446L294 446L296 445.5L298 445.5L300 444.5L302 442.5L303 440L302.5 438L302 436L301 434L300 432L299.5 430L298.5 428L298 426.5L297 424L296 422.5L294.5 420L292 418L290 416L289 414L288.5 412L289 410L290 408.5L292 406.5L293.5 406L296 405L298 404.5L300 404L302 404L304 403.5L306 403L308 402.5L310 402.5L311.5 402L314 401.5L316 401L318 400.5L319.5 400L322 400L324 401L326 403L328 405L330 407L332 408L334 409L336 409.5L338 409.5L340 409L342 408L344 406.5L345.5 404L346 402L346.5 400L346 398.5L345 396L344 394.5L342 392.5L340 391L338 390L336 389.5L334 389.5L332 390L330 390.5L328 391L326 392L324 392.5L322 392L320 390L319 388L318.5 386L318 384.5L317.5 382L317.5 380L318 378L318.5 376L320 374L322 372.5L324 371.5L326 371L328 370.5L330 370L332 369.5L334 369.5L336 369L338 368L340 367L341.5 366L343.5 364L344 362L344 360L344 358L344 356L344 354L344.5 352L344.5 350L345 348L346 346.5L348 345L350 344.5L352 344.5L354 344.5L356 343.5L358 342.5L360 342L362 343L364 345.5L366 347.5L368 348.5L370 349L371.5 348L373.5 346L374 344.5L374.5 342L374 340L373 338L372 336L370.5 334L370 332L370.5 330L372 328L373.5 326L374.5 324L376 322L376.5 320L376.5 318L375.5 316L374 314.5L372 312L372 310L374 308L376 306.5L377.5 306L380 304.5L381.5 304L383 302L384 300.5L386 298L388 296L389 294L389 292L388 290L387.5 288L387 286L386.5 284L385.5 282L384.5 280L383.5 278L383 276L382.5 274L381.5 272L380.5 270L379 268L377 266L376 264L376 262L375.5 260L375.5 258L375 256L375 254L375.5 252L377.5 250L380 249L382 248.5L384 248.5L386 248L388 247L389 244L389 242L389 240L388.5 238L388 236.5L386.5 234L384.5 232L382.5 230L381 228L380 226L380 224L380 222L380.5 220L381.5 218L383 216L384 215L386 212.5L388 210.5L390 208L390.5 206L390.5 204L390 202.5L389.5 200L389.5 198L389 196L388 194L386 192L384 190L382 188L380 186L378.5 184L377 182L374.5 180L372 178L370.5 176L369.5 174L369 172L368.5 170L368 168L367.5 166L367.5 164L367.5 162L367.5 160L367.5 158L368 156L368.5 154L369 152L370 150L370.5 148L372 146L373 144L374 142.5L375.5 140L377 138L378 136.5L380 134L381.5 132L382.5 130L383.5 128L384.5 126L385 124L384.5 122L384 120L384 118L383.5 116L383.5 114L383.5 112L383.5 110L384 108L384 106L385 104L385.5 102L387 100L388 98.5L390 96L392 94.5L394 93L396 91L398 88.5L399.5 86L401 84L402 82L403.5 80L404.5 78L405 76ZM451 278L448 279.5L446.5 280L444 281L442.5 282L440 283L438.5 284L436 285.5L434 287.5L432.5 290L431.5 292L430.5 294L430 295.5L429.5 298L429.5 300L429 302L428.5 304L428.5 306L429 308L430 309.5L432 311L433 312L435.5 314L437.5 316L439 318L440 319L441 320L444 321.5L446 322.5L448 323.5L450 324L452 324.5L454 325.5L456 326L458 326.5L460 327L462 327.5L464 327.5L466 327L468 326.5L470 325.5L471.5 324L472.5 322L473.5 320L474.5 318L475.5 316L476 314L476.5 312L476.5 310L476.5 308L476 306L476 304.5L475.5 302L475 300L474 298.5L472.5 296L471.5 294L470.5 292L469.5 290L468 288L467 286L466 284.5L464.5 282L463 280L462 279L461 278L458 277L456 277L454 277L452 277.5ZM315.5 418L314.5 420L314 422L314.5 424L315.5 426L316.5 428L318 430L320 431L322 431L324 430.5L326 428L326 426L325.5 424L324.5 422L323 420L322 418.5L320 417L318 416.5L316 417.5ZM572 409.5L574 408.5L574 410L574 412L574 414L574 416L574 418L574 420L574 422L574 424L574 426L574 428L574 430L574 432L574 434L573 436L571 438L570 440L569.5 442L569.5 444L569.5 446L571 448L574 449.5L574 452L574 454L574 456L574 458L574 460L574 461.5L572 461.5L570 460.5L568 460L566 459L564 458L562 456.5L560 455L559 454L558 453L556 450L555 448L554.5 446L554 444L553.5 442L553.5 440L553.5 438L554 436L554.5 434L555 432L556 430L556.5 428L557.5 426L559 424L560 422L561.5 420L563 418L565 416L566 414.5L568 412.5L570 411L571 410ZM446 416L448 417L450 419.5L452 421.5L454 422L456 422L458 422L460 423L462 425.5L463.5 428L464.5 430L465 432L466 434L466.5 436L467 438L467.5 440L468 441.5L468 444L467.5 446L466 448L464 449.5L462 450.5L460 451L458 451L456 450.5L454 450L452 449L450 448L448 446L447 444L447.5 442L450 441L452 440L454 438.5L455 436L454.5 434L453 432L450 430L448 429L446 428L444 426L442.5 424L441 422L441 420L442 418.5L444 416.5L445.5 416ZM400 420L402 419L404 419L406 421.5L406.5 424L407 426L407.5 428L410 430L412 430.5L414 430.5L416 430.5L418 431L420 431.5L421.5 432L424 432.5L426 433L428 433L430 432.5L432 432.5L434 433L435.5 434L438 435L439.5 436L441.5 438L443 440L440 442L438 442L436 441.5L434 441L432 440.5L430 440L428 439.5L426 439.5L424 439L422 439L420 438.5L418 438.5L416 438.5L414 438L412 437.5L410 436L408 434.5L406 433L404.5 432L402 430.5L400 429L399 428L398 426.5L398 424L398.5 422L400 420ZM432 419.5L434 420L436 421.5L436.5 424L435.5 426L434.5 428L432 430L430 428L429 426L429 424L429 422L430 420L432 419.5ZM260 503L262 502L264 502L266 503L268 504L270 505L271.5 506L274 508L276 510L278 511.5L280 513L282 514.5L284 515.5L286 516.5L288 517.5L290 518.5L292 519.5L293.5 520L296 521L298 521.5L300 522L302 523L304 523.5L306 524.5L308 525.5L309.5 526L312 527L313.5 528L316 530L317 532L317 534L316 536L314 538L312 540L310 542L308.5 544L307 546L306 548L305 550L304.5 552L304 554L303.5 556L303 558L302 559.5L300 561.5L298 563L296 563.5L294 563.5L292 563L290 562L288 560.5L286 558L284 556L282 554.5L280 553L278.5 552L276 550.5L274 549.5L272 548.5L270 547.5L268 546L266 545L264 544.5L262 544L260 543L258 542L257 540L256.5 538L255.5 536L255 534L254.5 532L254 530L253.5 528L253.5 526L254 524L253.5 522L253.5 520L253 518L253 516L253 514L253.5 512L255 510L256 508L257.5 506L259.5 504ZM265 520L264 521.5L262.5 524L262 525.5L261.5 528L261.5 530L262.5 532L264 533.5L266 535L268 536L270 536.5L272 537.5L274 538L276 538L278 538.5L280 538.5L282 538.5L284 538.5L286 538L287.5 536L287.5 534L286.5 532L285 530L283 528L282 527L280 525L278 523L277 522L274 520L272 519L270 518.5L268 518.5L266 519ZM296 590L298 590L300 590.5L302 591L304 592L306 593.5L307.5 596L308 597.5L308.5 600L306 600L304 600L302 600L300 600L298 600L296 600L294 600L292 600L290 600L288 600L286 600L284 600L282 600L282.5 598L284 597L285 596L288 594L290 592L292 591L294 590L296 590Z"/>
<path fill="#ff9800" d="M400 76.5L402 76L404 76L404.5 78L403.5 80L402 82L401 84L400 85.5L398.5 88L397 90L395 92L392.5 94L390.5 96L388.5 98L387 100L386 101.5L385 104L384 106L384 108L383.5 110L383.5 112L383.5 114L383.5 116L384 118L384 120L384.5 122L385 124L384.5 126L383.5 128L382.5 130L381.5 132L380 134L378.5 136L377 138L376 139.5L374 142L373 144L372 145.5L370.5 148L370 149.5L369 152L368.5 154L368 155.5L367.5 158L367.5 160L367.5 162L367.5 164L367.5 166L368 167.5L368.5 170L369 172L369.5 174L370.5 176L372 178L374 179.5L376 181L378 183L380 185.5L382 188L384 190L386 192L388 194L389 196L389.5 198L389.5 200L390 202L390.5 204L390.5 206L390 207.5L388.5 210L386.5 212L385 214L383 216L382 217.5L380.5 220L380 222L380 223.5L380 226L381 228L382 229.5L384 231.5L386 233.5L388 236L388.5 238L389 240L389 242L389 244L388.5 246L386 248L384 248.5L382 248.5L380 249L378 249.5L376 251L375 254L375 256L375.5 258L375.5 260L376 262L376 264L377 266L379 268L380 269.5L381.5 272L382.5 274L383 276L383.5 278L384.5 280L385.5 282L386.5 284L387 286L387.5 288L388 290L389 292L389 294L388 295.5L386 298L384.5 300L383 302L382 303.5L380 304.5L378 306L376 306.5L374 308L372 310L372 312L373.5 314L375.5 316L376.5 318L376.5 320L376 321.5L374.5 324L373.5 326L372 328L370.5 330L370 332L370.5 334L372 336L373 338L374 340L374.5 342L374 344L373.5 346L372 348L370 349L368 348.5L366 347.5L364.5 346L362.5 344L360 342L358 342.5L356 343.5L354 344.5L352 344.5L350 344.5L348 345L346.5 346L345 348L344.5 350L344.5 352L344 354L344 356L344 358L344 360L344 361.5L343.5 364L342 365.5L340 367L338.5 368L336 369L334 369.5L332 369.5L330.5 370L328 370.5L326 371L324 371.5L322 372.5L320 374L318.5 376L318 377.5L317.5 380L317.5 382L318 384L318.5 386L319 388L320 389.5L322 392L324 392.5L326 392L328 391L330 390.5L331.5 390L334 389.5L336 389.5L337.5 390L340 391L341.5 392L343.5 394L345 396L346 398L346.5 400L346 402L345.5 404L344.5 406L342 408L340 409L338 409.5L336 409.5L334 409L332 408L330 407L329 406L327 404L325 402L322 400L320 400L318 400.5L316 401L314 401.5L312 402L310 402.5L308 402.5L306 403L304 403.5L302 404L300 404L298 404.5L296 405L294 405.5L292 406.5L290 408L289 410L288.5 412L289 414L290 416L292 418L294 419.5L296 422L297 424L298 426L298.5 428L299.5 430L300 431.5L301 434L302 436L302.5 438L303 440L302.5 442L301 444L298 445.5L296 445.5L294 446L292 446L290 446L288 446L286 446L284 445.5L282 445L280 444.5L278 444L276 444L274 443.5L272 443L270 443L268 442.5L266 442.5L264 442.5L262 443L260 444L258 445.5L256 448L255 450L254.5 452L254 454L254 456L254 458L254 460L253.5 462L253 464L253 466L253 468L253 470L253 472L253.5 474L254.5 476L255.5 478L257 480L258 481L259.5 482L262 482.5L263.5 482L265.5 480L267.5 478L269 476L270 474.5L272 472.5L274 471L275.5 470L278 468.5L280 467.5L282 467L284 466L286 466L288 465.5L290 465.5L292 465L294 464.5L296 464L298 464L300 463.5L302 463L304 462.5L306 462.5L308 462L310 461.5L312 460L314 458.5L316 457L317.5 456L320 454.5L322 453L324 451L325.5 450L328 448.5L330 447.5L332 446.5L334 446L336 445L338 444.5L340 444.5L342 444L344 443.5L346 443L348 443L350 443L352 442.5L354 442.5L356 441.5L358 440L359 438L359.5 436L360 434L360.5 432L361.5 430L363 428L366 426.5L368 425.5L370 425L372 424.5L374 424L376 424L378 423.5L380 423L382 422.5L383.5 422L386 421L388 419L390 416.5L392 414L394 413L396 412L398 412L400 412L402 412.5L404 412L406 412L408 412L409.5 412L412 414L413 416L416 416L418 414L419 412L422 410.5L423 412L423.5 414L424 415.5L426 417L428 416L428.5 414L429.5 412L430.5 410L432 409L434 408.5L436 409L438 409L440 409.5L442 409.5L443.5 410L446 411L448 411L450 411.5L452 411.5L454 412L456 413L458 414L460 415L462 415.5L464 416L466 415L468 414L470 412.5L472 411L474 409.5L476 408L478 406.5L480 405L481 404L482.5 402L483.5 400L484 398L484.5 396L485 394L485 392L485.5 390L485.5 388L485.5 386L486 384L486.5 382L487 380L488 378L489.5 376L492 374.5L494 373.5L496 373L498 372.5L500 372L502 372L504 371.5L506 371L508 370L510 369.5L512 369L514 368.5L516 367.5L518 367L519.5 366L521.5 364L523 362L524 360L525 358L525.5 356L526.5 354L527 352L528 350L529 348L529.5 346L530 344.5L530.5 342L530.5 340L531 338L531 336L531 334L531.5 332L531.5 330L532 328L532 326L532.5 324L532 322L531.5 320L530.5 318L530 316.5L529 314L528.5 312L527.5 310L527 308L526 306.5L524 304L523 302L522 300.5L520.5 298L519 296L518 294.5L516 292L514.5 290L512 288L510 287L508.5 286L506 284.5L504 283.5L502 282L500 281L498.5 280L496 278.5L494 277.5L492 276L490 274.5L488 272L487.5 270L487.5 268L489 266L490 265L491.5 264L494 262.5L496 260.5L498 258.5L500 256L502 254L504 253L505.5 252L508 251L510 250.5L511.5 250L514 248L515.5 246L516 244.5L516.5 242L516.5 240L516.5 238L516.5 236L516.5 234L516.5 232L517 230L517 228L517.5 226L518 224.5L519.5 222L520.5 220L521.5 218L522 216L522 214L522.5 212L523 210L523 208L523 206L523 204L523 202L522.5 200L522.5 198L522.5 196L522 194L522 192L521.5 190L520.5 188L520 186L520 184L519.5 182L519 180L518.5 178L518.5 176L518 174L518 172L518 170L518 168L518 166L518 164L518.5 162L519 160L518.5 158L518 156.5L517 154L517 152L517 150L518 148L518 146.5L517 144L516 142L515.5 140L514.5 138L513.5 136L512 135L510 134L508 133.5L506 134L504.5 134L502 134.5L500 134.5L498 134.5L496 134L494 133.5L492 132.5L490 131.5L488.5 130L487 128L485.5 126L484 124L483.5 122L483 120L482.5 118L482.5 116L482.5 114L482.5 112L483 110L483.5 108L484.5 106L486 104L487.5 102L489.5 100L491.5 98L494 96L496 95L497.5 94L500 92.5L502 91.5L504 90L506 88.5L508 87L509 86L512 84.5L514 84L516 84L518 84.5L520 85L522 86L524 86.5L526 87L528 87.5L530 87.5L532 88L533.5 88L536 88L538 88L540 87.5L542 87L544 87L546 86.5L547.5 86L550 85L552 84L554 83L556 81L557 80L558 78.5L559.5 76L562 76L564 76L566 76L568 76L570 76L572 76L571.5 78L570 79.5L568 82L566.5 84L564.5 86L562.5 88L560.5 90L558 91.5L556 93L554 93.5L552 94.5L550 94.5L548 95L546 95L544 95L542 95.5L540 95.5L538.5 96L536 96.5L534 97L532 97L530 97L528 97.5L526 97.5L524 97.5L522 97.5L520 97L518 97.5L516 97.5L514 98L512 99L510 99.5L508 100.5L506 101.5L504 102.5L502 103.5L500 104.5L498 106L496 107.5L494.5 110L494 111.5L494 114L494 116L495 118L497 120L500 121.5L502 122L504 122L506 122L508 122.5L510 123L511 124L513.5 126L515 128L516 130L516.5 132L517.5 134L518 136L518.5 138L519 140L520 142L521.5 144L522 146L521.5 148L520.5 150L520.5 152L521 154L522 155.5L523 158L523.5 160L523.5 162L523.5 164L523 166L523 168L523 170L523 172L523.5 174L524.5 176L525 178L526 180L526.5 182L527 184L527.5 186L528.5 188L529 190L530 192L530.5 194L531 196L531 198L531.5 200L532 202L532 204L532 206L532 208L532 210L532 212L531.5 214L531.5 216L531 218L531 220L530.5 222L530 224L529.5 226L529 228L528.5 230L528 232L528 234L527.5 236L527.5 238L527.5 240L527 242L526.5 244L526 246L525.5 248L524.5 250L523 252L522 253.5L520 256L518 258L516 260L514 262L512.5 264L511.5 266L511 268L511 270L512 272L513 274L515 276L516 277L518 279.5L520 281.5L522 284L523.5 286L524 287L525.5 290L526.5 292L527.5 294L528 295.5L529 298L530 300L530.5 302L531.5 304L532.5 306L533 308L533.5 310L534 312L535 314L536 316L537.5 318L539.5 320L540 321L541.5 324L542 326L542 328L542.5 330L542.5 332L542.5 334L542.5 336L542.5 338L542.5 340L542 342L542 344L542 346L541.5 348L541 350L540.5 352L540 353.5L539 356L538.5 358L537.5 360L537 362L536 364L535 366L534 368L533 370L532 372L530 374L528 376L526 377.5L524.5 378L522 379L520 380L518 380.5L516 381L514 382L512 382.5L510 383L508 383.5L506 384.5L504 385.5L502 387L500 390L499 392L498.5 394L498 396L497.5 398L497 400L496.5 402L496 404L495 406L494 408L493 410L492 411.5L490.5 414L490 416L489 418L487 420L486 421.5L484.5 424L484 426L484 428L484 430L484.5 432L484.5 434L485 436L485.5 438L486 440L486.5 442L486.5 444L486.5 446L486 448L486 449.5L485.5 452L485 454L484 456L483 458L482 459.5L480 461L478.5 462L476 463L474 463.5L472 464L470 464L468 463.5L466 463L464 462.5L462 461.5L460 460.5L458 459.5L456 458L454 457L452 455.5L450 454L448 452.5L446 451L444.5 450L442 448.5L440 447.5L438 447L436 446L434 445.5L432 444.5L430 444L428 444L426 443.5L424 443.5L422 443L420 443L418 443L416 443L414 443L412 443L410 443L408 442.5L406 442.5L404 442L402 441.5L400 440.5L398 439.5L396 438L394 437L393 436L390 434L388 433L386 432.5L384 432L382 432L380 432L378 432L376 432.5L374 433.5L372 434.5L370 436L368.5 438L367 440L366 441.5L364.5 444L362.5 446L360 448L358 448.5L356 449L354 449L352 448.5L350 448.5L348 448.5L346 448.5L344 449L342 450L340 450L338 450.5L336 450.5L334 451L332 451.5L330 452.5L328 453.5L326 456L324 458L322 459L320.5 460L318 461.5L316 464L314.5 466L313 468L310 470L308 471L306 471.5L304.5 472L302 472.5L300 473L298 473.5L296 474L294 474.5L292 475L290 475.5L288.5 476L286 477L284 478L282 479L281 480L279 482L278 483.5L277 486L276.5 488L276.5 490L277 492L277.5 494L278 495.5L279.5 498L281 500L282 501L284 503L286 504.5L288 506L290 507L292 508L294 508.5L296 509.5L297.5 510L300 511L302 511.5L304 512.5L306 513L308 514L310 515L311.5 516L314 518L316 519.5L318 522L319.5 524L321.5 526L323 528L324 529.5L325 532L325.5 534L325.5 536L325 538L324 539.5L322 542L320 543.5L318 545.5L316 547.5L314 550L312.5 552L312 553L310.5 556L310 557.5L309 560L308 562L306.5 564L305 566L303 568L300 570L298 571.5L296 572.5L294.5 574L293 576L292.5 578L293.5 580L295 582L298 584L300 585L302 585.5L304 585.5L305.5 586L308 586.5L310 587.5L312 588.5L313.5 590L314.5 592L315.5 594L316 595.5L316.5 598L316.5 600L314 600L312 600L310 600L308.5 600L308 598L307.5 596L306.5 594L304 592L302 591L300 590.5L298 590L296 590L294 590L292 591L290.5 592L288 594L286 595.5L284 597L282.5 598L281.5 600L278 600L276 600L274 600L272 600L270 600L268 600L268.5 598L270 596L271.5 594L273 592L274 590L275.5 588L276 586.5L277 584L278 582L278.5 580L279 578L279 576L278.5 574L278 572L277.5 570L276.5 568L275 566L274 564.5L272 562.5L270 560.5L268 559.5L266 558L264 557L262.5 556L260 554.5L259 554L256 552L254 550L252.5 548L251.5 546L251.5 544L251.5 542L251.5 540L251.5 538L251.5 536L251 534L250.5 532L250.5 530L250 528L250 526L249.5 524L249 522L248.5 520L248.5 518L248 516L248.5 514L249 512L249.5 510L251 508L252 506L253 504L253.5 502L254.5 500L255 498L255.5 496L255.5 494L255.5 492L255 490L254.5 488L253 486L252 484.5L250.5 482L249.5 480L248.5 478L248 476.5L247.5 474L247.5 472L248 470L248 468L248 466L248 464L248 462L248 460L248.5 458L248.5 456L248.5 454L249 452L249.5 450L250 448L250.5 446L251 444L251.5 442L252.5 440L254 438L256 436L258 435L260 434L262 433L264 432.5L266 432L268 431.5L270 431L272 430.5L274 429.5L276 428L277.5 426L278 424L278.5 422L278.5 420L279 418L279 416L279.5 414L280 412L281 410L282 408.5L284 406L286 404L288 402.5L290 400.5L292 399L293.5 398L296 396.5L298 395.5L300 394.5L302 393L303.5 392L305.5 390L306.5 388L307 386L307.5 384L308 382L308 380L308.5 378L309 376L309.5 374L310.5 372L311.5 370L313 368L315 366L318 364L320 363L322 362L324 361L326 360.5L328 360L330 359.5L332 358L334 356.5L336 354L336.5 352L337.5 350L337.5 348L338 346L338.5 344L338.5 342L339.5 340L340 338.5L342 336L344 334.5L346 333.5L348 332.5L350 332L352 331.5L354 330.5L356 329.5L358 328.5L360 328L362 327.5L364 327L366 326.5L368 325.5L370 324L372 322L372.5 320L372.5 318L370.5 316L368.5 314L367.5 312L367.5 310L368.5 308L370 307L371 306L374 304.5L375.5 304L377.5 302L378.5 300L379.5 298L380.5 296L381.5 294L382.5 292L382.5 290L381.5 288L380.5 286L379.5 284L378.5 282L377.5 280L376.5 278L375.5 276L374 274L372.5 272L372 270.5L371 268L371 266L371 264L371.5 262L371.5 260L371.5 258L371 256L370.5 254L370.5 252L370.5 250L370.5 248L370.5 246L371 244L371 242L371.5 240L371.5 238L371.5 236L371.5 234L371 232L371 230L371 228L371.5 226L372 224L372.5 222L373.5 220L374 218.5L375 216L376 214L376.5 212L377.5 210L378 208L378.5 206L378.5 204L379 202L378.5 200L378.5 198L377.5 196L376.5 194L375 192L374 191L372 188.5L370 186.5L368 184.5L366 182.5L364.5 180L364 178L363.5 176L363.5 174L363.5 172L363 170L363 168L363 166L363 164L363.5 162L363.5 160L364 158L364.5 156L365 154L365.5 152L366.5 150L367.5 148L368.5 146L370 144L371.5 142L373 140L374 138.5L376 136L378 134L379.5 132L381 130L382 128.5L383 126L383.5 124L383 122L383 120L382.5 118L382 116L381.5 114L381.5 112L381.5 110L381.5 108L382 106L382.5 104L383.5 102L384 100.5L385.5 98L387 96L388 94.5L390 93L392 91L394 88.5L395.5 86L396.5 84L397.5 82L398.5 80L399.5 78L400 76.5ZM367 340L367 342L368 343.5L370 343.5L371 342L371 340L368 339L367 340ZM445.5 416L444 416.5L442.5 418L441 420L441 422L442 423L444 426L446 428L448 429L450 430L452 431.5L454 433.5L455 436L454.5 438L452 440L450 441L448 442L447 444L448 445.5L450 448L452 449L454 450L456 450.5L458 451L460 451L462 450.5L464 449.5L466 448L467.5 446L468 444.5L468 442L467.5 440L467 438L466.5 436L466 434.5L465 432L464.5 430L463.5 428L462.5 426L461 424L458 422L456 422L454 422L452 421.5L450.5 420L448.5 418L446 416ZM400 420L398.5 422L398 423.5L398 426L399 428L400 429L402 430.5L404 432L406 433L407 434L409.5 436L412 437.5L413.5 438L416 438.5L418 438.5L420 438.5L422 439L424 439L426 439.5L428 439.5L430 440L432 440.5L434 441L436 441.5L438 442L440 442L442 441L442 438.5L440 436.5L438 435L436 434.5L434 433L432 432.5L430 432.5L428 433L426 433L424 432.5L422 432L420 431.5L418 431L416 430.5L414 430.5L412 430.5L410 430L408 428.5L407 426L406.5 424L406 422L405 420L402 419L400 420ZM430.5 420L429 422L429 424L429 426L430 428L432 430L434 429L435.5 426L436.5 424L436.5 422L434 420L432 419.5L430.5 420ZM259.5 504L258 505.5L256 508L255 510L254 511.5L253 514L253 516L253 518L253.5 520L253.5 522L254 524L253.5 526L253.5 528L254 530L254.5 532L255 534L255.5 536L256 537.5L257 540L258 542L260 543L262 544L264 544.5L266 545L267.5 546L270 547.5L271.5 548L274 549.5L276 550.5L278 552L280 553L281.5 554L284 556L286 558L287.5 560L290 562L292 563L294 563.5L296 563.5L298 563L299.5 562L301.5 560L303 558L303.5 556L304 554.5L304.5 552L305 550L306 548L307 546L308 544.5L310 542L312 540L314 538L316 536L317 534L317 532L316 530L314 528.5L312 527L310 526L308 525.5L306 524.5L304 523.5L302 523L300 522L298 521.5L296 521L294 520L292 519.5L290 518.5L288.5 518L286 516.5L284.5 516L282 514.5L280 513L278.5 512L276.5 510L274 508L272 506L270 505L268.5 504L266 503L264 502L262 502L260 503ZM452 277.5L454 277L456 277L458 277L460 277.5L462 279L463 280L464.5 282L466 284L467 286L468 288L469.5 290L470 291.5L471.5 294L472.5 296L474 298L475 300L475.5 302L476 304L476 306L476.5 308L476.5 310L476.5 312L476 313.5L475.5 316L474.5 318L474 319.5L472.5 322L471.5 324L470 325.5L468 326.5L466 327L464 327.5L462 327.5L460 327L458 326.5L456 326L454 325.5L452 324.5L450 324L448 323.5L446 322.5L444 321.5L442 320.5L440 319L439 318L438 317L436 314.5L434 312.5L432 311L430.5 310L429 308L428.5 306L428.5 304L429 302L429.5 300L429.5 298L430 296L430.5 294L431.5 292L432.5 290L433.5 288L435.5 286L438 284L440 283L442 282L444 281L446 280L448 279.5L450 278.5L452 277.5ZM449.5 288L446 289L444.5 290L442 291.5L440 293.5L438 296L437.5 298L437 300L436.5 302L437 304L438 306L439 308L440 309.5L442 311.5L444 314L446 316L448 317.5L450 318L452 318.5L454 319L456 319L458 319L460 319L462 318.5L463.5 318L465.5 316L467 314L468 312L468.5 310L468.5 308L468.5 306L468 304L467.5 302L466.5 300L466 298.5L464.5 296L463.5 294L462 292L460 290L458 288.5L456.5 288L454 287.5L452 287.5L450 288ZM568 382L570 381.5L572 381.5L574 381.5L574 384L574 386L574 388L574 390L574 392L574 394L574 396L574 398L574 400L574 402L574 404L574 406L574 408L572 409.5L570 411L569 412L566.5 414L565 416L563 418L562 419.5L560 422L559 424L558 425.5L556.5 428L556 429.5L555 432L554.5 434L554 435.5L553.5 438L553.5 440L553.5 442L554 444L554.5 446L555 448L556 449.5L557.5 452L559 454L560 455L561 456L564 458L566 459L568 460L570 460.5L572 461.5L574 461.5L574 464L574 466L574 468L574 469.5L572 469L570 468L568 467L566 466L564 465L562 464.5L560 463.5L558 462.5L556 461L554 460L552 458.5L550 457L549 456L547 454L546 453L544 450L542.5 448L542 446.5L541 444L541 442L540.5 440L540.5 438L540.5 436L540.5 434L541 432L541 430L542 428L542.5 426L543 424L544 422L545 420L546 418L547 416L548 414.5L549.5 412L550.5 410L552 408L553 406L554 404L555 402L556 400L556.5 398L557.5 396L558.5 394L559.5 392L560 390.5L561.5 388L563 386L564 384.5L566 382.5L568 382Z"/>
<path fill="#ff9000" d="M396 76L398 76L400 76L399.5 78L398.5 80L397.5 82L396.5 84L395.5 86L394 88L392.5 90L391 92L388.5 94L387 96L385.5 98L384 100L383.5 102L382.5 104L382 106L381.5 108L381.5 110L381.5 112L381.5 114L382 116L382.5 118L383 120L383 122L383.5 124L383 126L382 128L381 130L380 131.5L378 133.5L376 136L374.5 138L373 140L372 141L370 144L368.5 146L368 147.5L366.5 150L365.5 152L365 154L364.5 156L364 158L363.5 160L363.5 162L363 164L363 166L363 168L363 170L363.5 172L363.5 174L363.5 176L364 178L364.5 180L365.5 182L367.5 184L369.5 186L371.5 188L373.5 190L375 192L376 193.5L377.5 196L378 197.5L378.5 200L379 202L378.5 204L378.5 206L378 207.5L377.5 210L376.5 212L376 214L375 216L374 218L373.5 220L372.5 222L372 223.5L371.5 226L371 228L371 230L371 232L371.5 234L371.5 236L371.5 238L371.5 240L371 242L371 244L370.5 246L370.5 248L370.5 250L370.5 252L370.5 254L371 256L371.5 258L371.5 260L371.5 262L371 264L371 266L371 268L371.5 270L372.5 272L374 274L375.5 276L376 277L377.5 280L378.5 282L379.5 284L380.5 286L381.5 288L382.5 290L382.5 292L381.5 294L380.5 296L379.5 298L378.5 300L377.5 302L376 303.5L374 304.5L372 305.5L370 307L368.5 308L367.5 310L367.5 312L368 313.5L370 315.5L372 317.5L372.5 320L372 322L370 324L368 325.5L366 326.5L364 327L362 327.5L360.5 328L358 328.5L356 329.5L354 330.5L352 331.5L350 332L348 332.5L346 333.5L344.5 334L342 336L340.5 338L339.5 340L338.5 342L338.5 344L338 346L337.5 348L337.5 350L336.5 352L336 353.5L334.5 356L332 358L330 359.5L328 360L326 360.5L324 361L322 362L320 363L318 364L316 365.5L314 367L312 369.5L310.5 372L309.5 374L309 376L308.5 378L308 380L308 382L307.5 384L307 386L306.5 388L306 389.5L304 391.5L302 393L300.5 394L298 395.5L296 396.5L294 398L292 399L290 400.5L288.5 402L286 404L284 406L282.5 408L281 410L280 412L279.5 414L279 416L279 418L278.5 420L278.5 422L278 424L277.5 426L276.5 428L274 429.5L272 430.5L270 431L268 431.5L266 432L264 432.5L262 433L260 434L258 435L256 436L254 438L252.5 440L251.5 442L251 444L250.5 446L250 448L249.5 450L249 452L248.5 454L248.5 456L248.5 458L248 460L248 462L248 464L248 466L248 468L248 470L247.5 472L247.5 474L248 476L248.5 478L249.5 480L250.5 482L252 484L253 486L254 487.5L255 490L255.5 492L255.5 494L255.5 496L255 498L254.5 500L253.5 502L253 504L252 505.5L251 508L250 509.5L249 512L248.5 514L248 516L248.5 518L248.5 520L249 522L249.5 524L250 526L250 528L250.5 530L250.5 532L251 534L251.5 536L251.5 538L251.5 540L251.5 542L251.5 544L251.5 546L252.5 548L254 550L256 552L258 553.5L260 554.5L262 556L264 557L266 558L268 559.5L270 560.5L271.5 562L273.5 564L275 566L276 567.5L277.5 570L278 572L278.5 574L279 576L279 578L278.5 580L278 581.5L277 584L276.5 586L275.5 588L274 590L273 592L272 593L270 596L268.5 598L268 600L266 600L264 600L262 600L260 600L258 600L256 600L254 600L255.5 598L257 596L259 594L260 592.5L261.5 590L263 588L263.5 586L264.5 584L265 582L265 580L265 578L264.5 576L264 574L263 572L262 570.5L260 568L258 566L256 564.5L254 562.5L252 560.5L250.5 558L249.5 556L249 554L248.5 552L248 550L247.5 548L247.5 546L247.5 544L248 542L248 540L248.5 538L248.5 536L248 534L247.5 532L247.5 530L247 528L247 526L246.5 524L246 522L245.5 520L245 518L245 516L245 514L245.5 512L246 510L247 508L248 506L249 504L250 502.5L251 500L251 498L251 496L251 494L250.5 492L249.5 490L248.5 488L247 486L246 484L245.5 482L245 480L244.5 478L244.5 476L244.5 474L244.5 472L245 470L245 468L245 466L245 464L245 462L245 460L245 458L245 456L245 454L245.5 452L245.5 450L246 448L246 446L246.5 444L246.5 442L247 440L248 438L248.5 436L249.5 434L251 432L252 430.5L254 429L256 427.5L258 426L260 425L261.5 424L264 422.5L266 420.5L268 418.5L270 416L271 414L272 413L274 410L275.5 408L277 406L278 405L280 403L281 402L283.5 400L286 398.5L288 396.5L290 395L292 392.5L294 390L295.5 388L296.5 386L297.5 384L298 382.5L298.5 380L299 378L299.5 376L300 374.5L301 372L302 370L303 368L304 366.5L306 364L307.5 362L309 360L311 358L313.5 356L316 354L318 352.5L320 351L322 350L324 348.5L326 347L327.5 344L328.5 342L329 340L329.5 338L330 336L331 334L332 332L333 330L334 328.5L336 326L338 324L340 322L342 321L343.5 320L346 318.5L347.5 318L350 316.5L351.5 316L354 314L356 312L357.5 310L359.5 308L362 306L364 304.5L366 303.5L368 302.5L370 301.5L372 300L373.5 298L375 296L376 294L377 292L377 290L377 288L376 286.5L375 284L374 282.5L372.5 280L371.5 278L370 276L369.5 274L368.5 272L368 270L368 268L368 266L368.5 264L369 262L369 260L369 258L368.5 256L367.5 254L367 252L366.5 250L366.5 248L366 246L365.5 244L365.5 242L365.5 240L365 238L365 236L364.5 234L364.5 232L364.5 230L364.5 228L365 226L365 224L365.5 222L366 220.5L366.5 218L367.5 216L368 214.5L369 212L369.5 210L370 208L370.5 206L370.5 204L370.5 202L370.5 200L370.5 198L370 196.5L369 194L368.5 192L367 190L366 189L364 187L362 185L361 184L360 182.5L359.5 180L359 178L359 176L359 174L359 172L359 170L359 168L359 166L359.5 164L359.5 162L360 160L360 158L360.5 156L361.5 154L362.5 152L363.5 150L364.5 148L365.5 146L367 144L368 142.5L370 140L371.5 138L373.5 136L375.5 134L377 132L379 130L380 128.5L381.5 126L382 124L382 122L381 120L380.5 118L380 116L380 114L379.5 112L379.5 110L379.5 108L380 106L380.5 104L381 102L381.5 100L382.5 98L383.5 96L385 94L386 93L388 90.5L390 88L391 86L392 84.5L393 82L394 80L395 78L395.5 76ZM572 76.5L574 76L574 78L574 80L574 82L574 84L574 86L574 88L574 90L572 91.5L570 93L568 95L566.5 96L564 98L562 99L560.5 100L558 101L556 102L554 102.5L552 102.5L550 103L548 103L546 103L544 102.5L542 102.5L540 103L538 103.5L536.5 104L534 105L532 106L530 107L528 108L526 109L524.5 110L522.5 112L521.5 114L521 116L520.5 118L520.5 120L520.5 122L521 124L521 126L521 128L521 130L521 132L520.5 134L520.5 136L521 138L521.5 140L522.5 142L524 144L524.5 146L524 147.5L523.5 150L523 152L523.5 154L525 156L525.5 158L526 160L526 162L526 164L526 166L525.5 168L526 170L526.5 172L527.5 174L528 175.5L529.5 178L530 180L531 182L531.5 184L532.5 186L533.5 188L534.5 190L535.5 192L536.5 194L537 196L537.5 198L538 199.5L538.5 202L539 204L539 206L539 208L539 210L539 212L539 214L539 216L539 218L538.5 220L538.5 222L538.5 224L538.5 226L538.5 228L538.5 230L538 232L538 234L538 236L538 238L537.5 240L537 242L536.5 244L536 245.5L535 248L534 250L533 252L532 253.5L530.5 256L529 258L528 260L527 262L526.5 264L525.5 266L525.5 268L525.5 270L526 272L526.5 274L527.5 276L528 277.5L529 280L530 282L530.5 284L531 286L531.5 288L532 290L532 292L532.5 294L533 296L533.5 298L534.5 300L535 302L535 304L535.5 306L536 308L536.5 310L537.5 312L539.5 314L541.5 316L543.5 318L545.5 320L547.5 322L549.5 324L550.5 326L552 328L552.5 330L553.5 332L554 333.5L555 336L555.5 338L556 339.5L557 342L557.5 344L558.5 346L559.5 348L561 350L562 351.5L564 353.5L566 355L568 356.5L570 358L572 359L574 360L574 362L574 364L574 366L574 368L574 370L574 372L574 374L574 376L574 378L574 380L574 381.5L572 381.5L570 381.5L568 382L566 382.5L564.5 384L563 386L561.5 388L560 390L559.5 392L558.5 394L557.5 396L556.5 398L556 399.5L555 402L554 404L553 406L552 407.5L550.5 410L549.5 412L548.5 414L547 416L546 418L545 420L544 422L543 424L542.5 426L542 428L541 430L541 432L540.5 434L540.5 436L540.5 438L540.5 440L541 442L541 444L542 446L542.5 448L544 450L545.5 452L547 454L548 455L550 457L552 458.5L554 460L556 461L557.5 462L560 463.5L561.5 464L564 465L565.5 466L568 467L570 468L572 469L574 469.5L574 472L574 474L574 476L574 478L574 480L572 478.5L570 476.5L568 474.5L566 473L564 472L562 471L560 470L558 469L556 468.5L554 468L552 467.5L550 467L548 466.5L546.5 466L544 465.5L542 465L540 464.5L538.5 464L536 463.5L534 462.5L532 461.5L530 460.5L528 459L526 457L524 454.5L522 452L521 450L520 448.5L518.5 446L517 444L515 442L512 440.5L510 440L508 441L506.5 444L506 446L506 448L505.5 450L505.5 452L505.5 454L505 456L505 458L504 460L502.5 462L501 464L500 465.5L499.5 468L499 470L498 472L497.5 474L496.5 476L496.5 478L496 480L495.5 482L494 483.5L492 485L490.5 486L488 487.5L486 489L484 490L482 489.5L480 488.5L478 487.5L476 486.5L474 485.5L472 484.5L470 483.5L468 482L466 481L464 480L462 478.5L460 477L458 475L456 472L455 470L454 468.5L453 466L452 464L451 462L450 460.5L448 458L446 456L444 454.5L442 453L440 452L438 451L436.5 450L434 449L432 448L430 447.5L428 447L426 446.5L424 446.5L422 446.5L420 446.5L418 446.5L416 447L414 447L412 447.5L410 448L408 448L406 448.5L404 449L402 449L400 449L398 449L396 448.5L394 447.5L392 446.5L390 445L388 443.5L386 442L384 441L382 440L380 440L378 440.5L376 442L374 443.5L372 445.5L370 447.5L368 449L366.5 450L364 451.5L362.5 452L360 453L358 453.5L356 453.5L354 453L352 452.5L350 452.5L348 452L346 452.5L344 452.5L342 453L340 453.5L338 453.5L336 453.5L334 454L332 454.5L330 455.5L328 458L326 460L324 461.5L322.5 462L320 464L318.5 466L317.5 468L316.5 470L315 472L314 473.5L312 475.5L310 477.5L308 479L306.5 480L304 481.5L302 482.5L300 483L298 484L296 484.5L294 485.5L292 486.5L290.5 488L289.5 490L290 492L291 494L294 496L296 497L298 498L300 498.5L302 499L304 500L306 500.5L308 501.5L310 502.5L312 503.5L314 504.5L316 506L317.5 508L319 510L320 511.5L321 514L322 516L323 518L324 520L325 522L326 523.5L327.5 526L329 528L330 530L331 532L331.5 534L331.5 536L331.5 538L331.5 540L330.5 542L328.5 544L326 546L324 547.5L322 549.5L320 551L318 553.5L316 556L315 558L314.5 560L313.5 562L313 564L312 566L311 568L310 569.5L308.5 572L306.5 574L304 576L302.5 578L304 579L306 579.5L308 580L310 580.5L312 581L313.5 582L316 583.5L318 585.5L320 588L321 590L321.5 592L322 593.5L322.5 596L322.5 598L323 600L320 600L318 600L316.5 600L316.5 598L316 596L315.5 594L314.5 592L313.5 590L312 588.5L310 587.5L308 586.5L306 586L304 585.5L302 585.5L300 585L298 584L296 582.5L294 580.5L292.5 578L293 576L294 574.5L296 572.5L298 571.5L300 570L302 568.5L304 567L306 565L308 562L309 560L310 558L310.5 556L311.5 554L312.5 552L314 550L315.5 548L317.5 546L319.5 544L322 542L323.5 540L325 538L325.5 536L325.5 534L325 532L324 530L323 528L322 527L320 524.5L318 522L316 520L314 518L312 516.5L310 515L308 514L306 513L304 512.5L302 511.5L300 511L298 510L296 509.5L294 508.5L292.5 508L290 507L288 506L286 504.5L284 503L283 502L281 500L280 499L278 496L277.5 494L277 492L276.5 490L276.5 488L277 486L278 484L279 482L280 481L282 479L283.5 478L286 477L288 476L290 475.5L292 475L294 474.5L296 474L298 473.5L300 473L302 472.5L304 472L306 471.5L308 471L310 470L312 469L314 467L316 464L317.5 462L320 460L322 459L324 458L326 456L327.5 454L330 452.5L331.5 452L334 451L336 450.5L338 450.5L340 450L342 450L344 449L346 448.5L348 448.5L350 448.5L352 448.5L354 449L356 449L358 448.5L360 448L362 446.5L364 444.5L366 442L367 440L368 438.5L370 436L372 434.5L374 433.5L376 432.5L378 432L379.5 432L382 432L384 432L386 432.5L388 433L390 434L392 435.5L394 437L395.5 438L398 439.5L400 440.5L402 441.5L404 442L406 442.5L408 442.5L410 443L412 443L414 443L416 443L418 443L420 443L422 443L424 443.5L426 443.5L428 444L430 444L432 444.5L434 445.5L436 446L438 447L440 447.5L442 448.5L444 449.5L446 451L447.5 452L450 454L452 455.5L454 457L456 458L458 459.5L459.5 460L462 461.5L463.5 462L466 463L468 463.5L470 464L472 464L474 463.5L476 463L478 462L480 461L481.5 460L483 458L484 456L485 454L485.5 452L486 450L486 448L486.5 446L486.5 444L486.5 442L486 440L485.5 438L485 436L484.5 434L484.5 432L484 430L484 428L484 426L484.5 424L485.5 422L487 420L489 418L490 416L490.5 414L491.5 412L493 410L494 408L495 406L496 404L496.5 402L497 400L497.5 398L498 396L498.5 394L499 392L500 390L501 388L503 386L506 384.5L508 383.5L510 383L512 382.5L514 382L516 381L518 380.5L519.5 380L522 379L524 378.5L526 377.5L528 376L530 374L532 372L533 370L534 368.5L535 366L536 364L537 362L537.5 360L538.5 358L539 356L540 354L540.5 352L541 350L541.5 348L542 346L542 344L542 342L542.5 340L542.5 338L542.5 336L542.5 334L542.5 332L542.5 330L542 328L542 326L541.5 324L540.5 322L539.5 320L538 318.5L536 316L535 314L534 312L533.5 310L533 308L532.5 306L531.5 304L530.5 302L530 300.5L529 298L528 296L527.5 294L526.5 292L525.5 290L524.5 288L523.5 286L522 284L520.5 282L518.5 280L516.5 278L515 276L514 275L512 272L511 270L511 268L511.5 266L512 264.5L514 262L516 260L518 258L520 256L521.5 254L523 252L524 250.5L525.5 248L526 246L526.5 244L527 242L527.5 240L527.5 238L527.5 236L528 234L528 232L528.5 230L529 228L529.5 226L530 224L530.5 222L531 220L531 218L531.5 216L531.5 214L532 212L532 210.5L532 208L532 206L532 204L532 202L531.5 200L531 198L531 196L530.5 194L530 192.5L529 190L528.5 188L527.5 186L527 184L526.5 182L526 180L525 178L524.5 176L523.5 174L523 172L523 170L523 168L523 166L523.5 164L523.5 162L523.5 160L523 158L522.5 156L521 154L520.5 152L520.5 150L521.5 148L522 146L521.5 144L520 142L519 140L518.5 138L518 136.5L517.5 134L516.5 132L516 130L515 128L514 126.5L512 124.5L510 123L508 122.5L506 122L504 122L502 122L500 121.5L498 120.5L496 119L494 116L494 114L494 112L494.5 110L495.5 108L497.5 106L500 104.5L502 103.5L504 102.5L505.5 102L508 100.5L509.5 100L512 99L514 98L516 97.5L518 97.5L520 97L522 97.5L524 97.5L526 97.5L528 97.5L530 97L532 97L534 97L536 96.5L538 96L540 95.5L542 95.5L544 95L546 95L548 95L550 94.5L552 94.5L554 93.5L556 93L557.5 92L560 90L562 88.5L564 86.5L566 84.5L568 82L569.5 80L571.5 78L572 76.5ZM450 288L452 287.5L454 287.5L456 288L458 288.5L459.5 290L462 292L463.5 294L464.5 296L465.5 298L466.5 300L467.5 302L468 304L468.5 306L468.5 308L468.5 310L468 312L467 314L466 315.5L464 317.5L462 318.5L460 319L458 319L456 319L454 319L452 318.5L450 318L448 317.5L446 316L444 314L442 312L440.5 310L439 308L438 306.5L437 304L436.5 302L437 300L437.5 298L438 296.5L439.5 294L441.5 292L444 290.5L446 289L448 288.5L450 288ZM448.5 294L446 295.5L444 297.5L442.5 300L442.5 302L442.5 304L443 306L443.5 308L445 310L446 311.5L448 313.5L450 314.5L452 315L454 315.5L456 315.5L458 315L460 314.5L462 312.5L463.5 310L464 308L464 306L463.5 304L463 302L462 300L461 298L459 296L456 294L454 293.5L452 293L450 293.5ZM368 339L370 339L371 342L370 343.5L368 343.5L367 342L367 340L368 339Z"/>
<path fill="#ff8a00" d="M392 76L394 76L395.5 76L395 78L394 80L393 82L392.5 84L391 86L390 88L388.5 90L386.5 92L385 94L384 95.5L382.5 98L381.5 100L381 102L380.5 104L380 105.5L379.5 108L379.5 110L379.5 112L380 114L380 116L380.5 118L381 120L382 122L382 124L381.5 126L380.5 128L379 130L378 131L376 133.5L374 135.5L372 137.5L370 140L368.5 142L367 144L366 145.5L364.5 148L363.5 150L362.5 152L361.5 154L360.5 156L360 158L360 160L359.5 162L359.5 164L359 166L359 168L359 170L359 172L359 174L359 176L359 178L359.5 180L359.5 182L361 184L362 185L363 186L365 188L367 190L368 191.5L369 194L370 196L370.5 198L370.5 200L370.5 202L370.5 204L370.5 206L370 208L369.5 210L369 212L368 214L367.5 216L366.5 218L366 220L365.5 222L365 224L365 226L364.5 228L364.5 230L364.5 232L364.5 234L365 236L365 238L365.5 240L365.5 242L365.5 244L366 246L366.5 248L366.5 250L367 252L367.5 254L368.5 256L369 258L369 260L369 262L368.5 264L368 266L368 268L368 270L368.5 272L369.5 274L370 275.5L371.5 278L372.5 280L374 282L375 284L376 286L377 288L377 290L377 292L376 294L375 296L374 297.5L372 300L370 301.5L368.5 302L366 303.5L364.5 304L362 306L360 307.5L358 309.5L356 312L354 314L352 315.5L350 316.5L348 317.5L346 318.5L344 319.5L342 321L340.5 322L338 324L336 326L334.5 328L333 330L332 332L331 334L330 336L329.5 338L329 340L328.5 342L327.5 344L326.5 346L325 348L322 350L320 351L318.5 352L316 354L314 355.5L312 357L310 359L308 361.5L306 364L304.5 366L303 368L302 370L301 372L300 374L299.5 376L299 378L298.5 380L298 382L297.5 384L296.5 386L295.5 388L294 390L292.5 392L291 394L289 396L286.5 398L284 400L282 401.5L280 403L279 404L277 406L276 407L274 410L272.5 412L271 414L270 416L268.5 418L266.5 420L264.5 422L262 423.5L260 425L258 426L256 427.5L254 429L252.5 430L251 432L250 433.5L248.5 436L248 437.5L247 440L246.5 442L246.5 444L246 446L246 448L245.5 450L245.5 452L245 454L245 456L245 458L245 460L245 462L245 464L245 466L245 468L245 470L244.5 472L244.5 474L244.5 476L244.5 478L245 480L245.5 482L246 483.5L247 486L248 487.5L249.5 490L250.5 492L251 494L251 496L251 498L251 500L250 502L249 504L248 506L247 508L246 510L245.5 512L245 514L245 516L245 518L245.5 520L246 522L246.5 524L247 526L247 528L247.5 530L247.5 532L248 534L248.5 536L248.5 538L248 540L248 542L247.5 544L247.5 546L247.5 548L248 550L248.5 552L249 554L249.5 556L250 557.5L251.5 560L253.5 562L255.5 564L258 566L260 568L261.5 570L263 572L264 574L264.5 576L265 578L265 580L265 582L264.5 584L263.5 586L263 588L262 589.5L260.5 592L259 594L258 595L256 597.5L254 600L252 600L250 600L248 600L246 600L244 600L242 600L240 600L238 600L236 600L234 600L232 600L230 600L228 600L226 600L224 600L222 600L220 600L218 600L216 600L214 600L212 600L210 600L208 600L206 600L204 600L202 600L200 600L198 600L196 600L194 600L192 600L190 600L188 600L186 600L184 600L182 600L180 600L180 598L180 596L180 594L180 592.5L182 591.5L184 591L185.5 590L188 588.5L190 587L191.5 586L194 584L196 583L198 582L200 581L202 580L204 579L205.5 578L208 577L210 576L212 575.5L214 575L216 574.5L218 575L220 577L222 579.5L224 581L225.5 582L228 584L230 585.5L232 586.5L234 587L236 587.5L238 588L240 588L242 588L243.5 588L246 587.5L248 586.5L250 585L251.5 582L252 580L251.5 578L250 576L248 574.5L246 573L244 572L242 570.5L240 569L238.5 566L237.5 564L237.5 562L237.5 560L237.5 558L239 556L240 554.5L241.5 552L242 550L242.5 548L243 546L243.5 544L244 542L244.5 540L244.5 538L244.5 536L244 534L244 532L243.5 530L243.5 528L243.5 526L243 524L243 522L242 520L241.5 518L241 516L240.5 514L241 512L241 510L242 508L243 506L244 504.5L245.5 502L246.5 500L247 498L246.5 496L245.5 494L244.5 492L243 490L242 488.5L241 486L240 484L240 482L240 480L240 478L240.5 476L240.5 474L241 472L241 470L241 468L241 466L240.5 464L240.5 462L241 460L240.5 458L240.5 456L240.5 454L240.5 452L241 450L241 448L241 446L241 444L241 442L241.5 440L242 438L242.5 436L242.5 434L243 432L242.5 430L242.5 428L242 426L242 424L244 422L246 421.5L248 420.5L250 420L252 419.5L254 418.5L256 417.5L258 416L260 414.5L262 412.5L264 410L265.5 408L267 406L268 405L270 403L271 402L274 400L276 398.5L278 397.5L280 396L282 395L283 394L285 392L286 390.5L286.5 388L286.5 386L286 384L285 382L284 380.5L282 378.5L280 377.5L278 376.5L276 375.5L274 374L272 372.5L270 370.5L269.5 368L271.5 366L274 365L276 365L278 365L280 364.5L282 364.5L284 364.5L286 364.5L288 364.5L290 364L292 363.5L294 362L296 361L298 359L300 357L302 354L303.5 352L305 350L306 348L307 346L308 344.5L309.5 342L310 341L312 338L314 336L315.5 334L317.5 332L319 330L320 328.5L321.5 326L323.5 324L324.5 322L326 320L327.5 318L328 316.5L329.5 314L330.5 312L332 310.5L334 308.5L336 307.5L338 306.5L340 305.5L342 304.5L343.5 304L346 303L348 302.5L350 301.5L352 301L354 300.5L356 300L358 299L360 298.5L362 297.5L364 296.5L365.5 296L368 294L370 292L370.5 290L371 288L370.5 286L369.5 284L368.5 282L367.5 280L366.5 278L366 276.5L365.5 274L365 272L365 270L365.5 268L365.5 266L366 264.5L366.5 262L366.5 260L366 258L365.5 256L364.5 254L364 252.5L363 250L362.5 248L362 246.5L361.5 244L361 242L360.5 240L360.5 238L360 236.5L359.5 234L359.5 232L359 230L359 228L359.5 226L359.5 224L359.5 222L360 220L360.5 218L361 216L361.5 214L362 212L362.5 210L363 208L363.5 206L363.5 204L363.5 202L364 200L363.5 198L363.5 196L362.5 194L361.5 192L360 190.5L358 188.5L356 186.5L354 184L354 182L355 180L355 178L355 176L355 174L354.5 172L354.5 170L355 168L355 166L355.5 164L356 162L356 160L356.5 158L357 156L358 154L359 152L360 150L361 148L362 146.5L364 144L365.5 142L367 140L368 139L370 136.5L372 134.5L374 132.5L376 130.5L378 128.5L379.5 126L380 124L380 122L379.5 120L379 118L378.5 116L378 114L377.5 112L377.5 110L377.5 108L377.5 106L378 104.5L378.5 102L379 100L380 98L380.5 96L381.5 94L383 92L384 90.5L386 88L387 86L388 84.5L389 82L389.5 80L390.5 78L391 76ZM572 91.5L574 90.5L574 92L574 94L574 96L574 98L574 100L574 102L574 103.5L572 104.5L570 106L568 107L566.5 108L564 109.5L562 110.5L560 111.5L558.5 112L556 113L554 114L552 115L550 115.5L548.5 116L546 116.5L544 117L542 117.5L540 117.5L538 118.5L536 119L534.5 120L532 122L530 124L529 126L528 127.5L527 130L526 131.5L525 134L524 135.5L523.5 138L524.5 140L525.5 142L527 144L527 146L527 148L526 150L526 152L527 154L528 156L528.5 158L528.5 160L529 162L529 164L529 166L529 168L529.5 170L531 172L532 174L533.5 176L534 177.5L535.5 180L536 181.5L538 184L539.5 186L540.5 188L542 190L543 192L544 194L545 196L545.5 198L546 200L546.5 202L547 204L547 206L547 208L547 210L547 212L547 214L547 216L547 218L547 220L547 222L547 224L547.5 226L548 228L549 230L550 231.5L552 234L554 235.5L555.5 238L554.5 240L553.5 242L552 244L550.5 246L548.5 248L546 250L544 251.5L542 253.5L540 256L538.5 258L538 259.5L537 262L537 264L536.5 266L537 268L537 270L537.5 272L538 273.5L538.5 276L539.5 278L540 280L540 282L540 284L539.5 286L539 288L538.5 290L538 292L538 294L538.5 296L539 298L539 300L539 302L539 304L539.5 306L540 308L541 310L543 312L546 314L548 315L550 315.5L552 316L554 316L556 316L558 315.5L560 316L561.5 318L562 320L562.5 322L563 324L563.5 326L564.5 328L565 330L566 332L567.5 334L568.5 336L570 337.5L572 339.5L574 340.5L574 344L574 346L574 348L574 350L574 352L574 354L574 356L574 358L574 360L572 359L570 358L568 356.5L566 355L564.5 354L562.5 352L561 350L560 348.5L558.5 346L558 344.5L557 342L556 340L555.5 338L555 336L554 334L553.5 332L552.5 330L552 328.5L550.5 326L549.5 324L548 322.5L546 320.5L544 318.5L542 316.5L540 314.5L538 312.5L536.5 310L536 308L535.5 306L535 304L535 302L534.5 300L533.5 298L533 296L532.5 294L532 292L532 290L531.5 288L531 286L530.5 284L530 282L529 280L528.5 278L527.5 276L526.5 274L526 272.5L525.5 270L525.5 268L525.5 266L526.5 264L527 262L528 260L529 258L530 256.5L531.5 254L533 252L534 250L535 248L536 246L536.5 244L537 242L537.5 240L538 238L538 236.5L538 234L538 232L538.5 230L538.5 228L538.5 226L538.5 224L538.5 222L538.5 220L539 218L539 216L539 214L539 212L539 210L539 208L539 206L539 204L538.5 202L538 200L537.5 198L537 196L536.5 194L535.5 192L534.5 190L534 188.5L532.5 186L532 184.5L531 182L530 180L529.5 178L528.5 176L527.5 174L526.5 172L526 170.5L525.5 168L526 166L526 164L526 162L526 160L525.5 158L525 156L524 154.5L523 152L523.5 150L524 148L524.5 146L524 144.5L522.5 142L521.5 140L521 138L520.5 136L520.5 134L521 132L521 130L521 128L521 126L521 124L520.5 122L520.5 120L520.5 118L521 116L521.5 114L522.5 112L524 110.5L526 109L527.5 108L530 107L531.5 106L534 105L536 104L538 103.5L540 103L542 102.5L544 102.5L546 103L548 103L550 103L552 102.5L554 102.5L555.5 102L558 101L560 100.5L562 99L564 98L566 96.5L568 95L569 94L571.5 92ZM570 270L572 270L574 270L574 272L574 274L574 276L574 278L574 280L574 282L574 284L574 286L574 288L574 290L574 292L574 293.5L572.5 292L571 290L570.5 288L570 286L569.5 284L569.5 282L569.5 280L569 278L569 276L568.5 274L568.5 272L570 270ZM450 293.5L452 293L454 293.5L456 294L458 295L460 297L462 300L463 302L463.5 304L464 306L464 308L463.5 310L462.5 312L460.5 314L458 315L456 315.5L454 315.5L452 315L450 314.5L448 313.5L446.5 312L445 310L444 308.5L443 306L442.5 304L442.5 302L442.5 300L443.5 298L445.5 296L448 294.5L450 293.5ZM448 300L447 302L446.5 304L446.5 306L447.5 308L449 310L450 311L452 312L454 312.5L456 312L458 311L459 310L460 308L460.5 306L460 304.5L459 302L458 300.5L456 299L454 298.5L452 298L450 298.5L448 300ZM376 442L378 440.5L380 440L382 440L384 441L386 442L388 443.5L390 445L391.5 446L394 447.5L396 448.5L398 449L400 449L402 449L404 449L406 448.5L408 448L410 448L412 447.5L414 447L416 447L418 446.5L420 446.5L422 446.5L424 446.5L426 446.5L428 447L430 447.5L432 448L434 449L436 450L438 451L440 452L442 453L443.5 454L446 456L448 458L449.5 460L451 462L452 464L453 466L454 468L455 470L456 472L457.5 474L459 476L461.5 478L464 480L466 481L468 482L470 483.5L471.5 484L474 485.5L476 486.5L478 487.5L480 488.5L482 489.5L484 490L486 489L487.5 488L490 486L492 485L493.5 484L495.5 482L496 480.5L496.5 478L496.5 476L497.5 474L498 472.5L499 470L499.5 468L500 466L501 464L502 462.5L504 460L505 458L505 456L505.5 454L505.5 452L505.5 450L506 448L506 446L506.5 444L507.5 442L510 440L512 440.5L514 441.5L516 443L518 445.5L520 448L521 450L522 452L523.5 454L525 456L527 458L529.5 460L532 461.5L534 462.5L536 463.5L538 464L540 464.5L542 465L544 465.5L546 466L548 466.5L550 467L552 467.5L554 468L556 468.5L558 469L560 470L562 471L564 472L566 473L567 474L569.5 476L571.5 478L573.5 480L574 482L574 484L574 486L574 488L574 490L574 492L574 494L574 496L574 498L574 500L574 502L574 504L574 506L574 508L574 510L574 512L574 514L574 516L574 518L574 520L574 522L574 524L574 526L574 528L574 530L574 532L574 534L574 536L574 538L574 540L574 542L574 544L574 546L574 548L574 550L574 552L574 554L574 556L574 558L574 560L574 562L574 564L574 566L574 568L574 570L574 572L574 574L574 576L574 578L574 580L574 582L574 584L574 586L574 588L574 590L574 592L574 594L574 596L574 598L574 600L572 600L570 600L568 600L566 600L564 600L562 600L560 600L558 600L556 600L554 600L552 600L550 600L548 600L546 600L544 600L542 600L540 600L538 600L536 600L534 600L532 600L530 600L528 600L526 600L524 600L522 600L520 600L518 600L516 600L514 600L512 600L510 600L508 600L506 600L504 600L502 600L500 600L498 600L496 600L494 600L492 600L490 600L488 600L486 600L484 600L482 600L480 600L478 600L476 600L474 600L472 600L470 600L468 600L467.5 598L467.5 596L467.5 594L467 592L467 590L467 588L466.5 586L466.5 584L466 582L465.5 580L464.5 578L464 576L463.5 574L463.5 572L463.5 570L463.5 568L464 566L464.5 564L465.5 562L466 560L466.5 558L467 556L467.5 554L467.5 552L467.5 550L467 548L466 546L465 544L464 542.5L462 540.5L464 540L466 541L468 542L470 543L472 543.5L473.5 544L476 544.5L478 544.5L480 544.5L482 544.5L484 544L486 543.5L488 542L490 540L491.5 538L492 536.5L493 534L493 532L492.5 530L491.5 528L490.5 526L488.5 524L486 522.5L484 521.5L482 520.5L480 520L478 519.5L476 519L474 518L472 516L470.5 514L468.5 512L466.5 510L465 508L464 507L462.5 504L461.5 502L461 500L460 498L459 496L458 494.5L456 492L454 490L452 488L450 486.5L448 485L446 484L444 482.5L442 480.5L441.5 478L441.5 476L441.5 474L441.5 472L442.5 470L443 468L443.5 466L444 464L443.5 462L443 460L441 458L438 456L436 455L434.5 454L432 452.5L430 451.5L428 451L426 450.5L424 450.5L422 450.5L420 450.5L418 451L416 451.5L414 452.5L412 453.5L410 455L408.5 456L406 458L404 459.5L402 461.5L400 463.5L398.5 466L398 467.5L397 470L396.5 472L396 474L395 476L394.5 478L394 480L393.5 482L393 484L393 486L393 488L393 490L393.5 492L394.5 494L395 496L395.5 498L396 500L396 502L395.5 504L395.5 506L395 508L395 510L394.5 512L394.5 514L392.5 516L390 515.5L388.5 514L386.5 512L384.5 510L383 508L382 507L380.5 504L379.5 502L379.5 500L379.5 498L379.5 496L380 494L380.5 492L381 490L381.5 488L381.5 486L381.5 484L381 482L380.5 480L380 478L379.5 476L379.5 474L379 472L379 470L378.5 468L378 466L377.5 464L377 462L376 460.5L374 458.5L372.5 458L370 457.5L368 457L366 457.5L364 457.5L362 458L360 458.5L358 459L356 459L354 458.5L352.5 458L350 457L348 456.5L346 456.5L344 456.5L342 457L340 457L338 457L336 457L334 457L332 458L330.5 460L328.5 462L326 464L324 465.5L322 468L321.5 470L321 472L320.5 474L320 475.5L319.5 478L318.5 480L318.5 482L318.5 484L319 486L320 488L322 490L324 491L326 491.5L328 491.5L329.5 492L332 492.5L334 493.5L335.5 494L337.5 496L338 498L337.5 500L337 502L336 503.5L334.5 506L333.5 508L332 510L331 512L330 514L330 515.5L330 518L331 520L332 522L333 524L334 525.5L335.5 528L337 530L338 532L339.5 534L341 536L342 537.5L344 539L346 541L348 542L350 543.5L351.5 544L354 545L356 546L358 546.5L360 546.5L362 547L364 547L366 547L368 547L370 546L372 545.5L374 544L376 543L378 542L380 542L381 544L380 546L378.5 548L376.5 550L374.5 552L372.5 554L370.5 556L368 558L366 559.5L364 561L362 562L360 562.5L358 563L356 562.5L354.5 562L352 560L350 558.5L348 556.5L346 555L344.5 554L342 552.5L340 551.5L338 550.5L336 550.5L334 550.5L332 550.5L330 551.5L328.5 552L326 553.5L324 555L322 557.5L320.5 560L320 561.5L319.5 564L319 566L319 568L319 570L319 572L319.5 574L320.5 576L322 578L323.5 580L325 582L326 583.5L327.5 586L328.5 588L329 590L329 592L329.5 594L329.5 596L329.5 598L329.5 600L326 600L324 600L322.5 598L322.5 596L322 594L321.5 592L321 590L320 588.5L318.5 586L316.5 584L314 582L312 581L310 580.5L308.5 580L306 579.5L304 579L302.5 578L303.5 576L306 574.5L308 572.5L310 570L311 568L312 566L313 564L313.5 562L314.5 560L315 558L316 556.5L317.5 554L319 552L321 550L323.5 548L326 546L328 544.5L330 542.5L331.5 540L331.5 538L331.5 536L331.5 534L331 532L330 530L329 528L328 526.5L326.5 524L325 522L324 520L323 518L322 516L321 514L320 512L319 510L318 508.5L316 506L314 504.5L312 503.5L310 502.5L308 501.5L306 500.5L304 500L302 499L300 498.5L298.5 498L296 497L294 496L292 495L290 492.5L289.5 490L290.5 488L292 486.5L294 485.5L296 484.5L297.5 484L300 483L302 482.5L304 481.5L306 480L308 479L309 478L311.5 476L313.5 474L315 472L316.5 470L317.5 468L318.5 466L320 464L322 462.5L324 461.5L326 460L328 458L329.5 456L332 454.5L333.5 454L336 453.5L338 453.5L340 453.5L342 453L344 452.5L346 452.5L348 452L350 452.5L352 452.5L354 453L356 453.5L358 453.5L360 453L362 452L364 451.5L366 450.5L368 449L369.5 448L371.5 446L373.5 444L376 442ZM547 476L544 477.5L542 480L541 482L540 484L540 486L539.5 488L539 490L538.5 492L538 494L537 496L536.5 498L536.5 500L536.5 502L537 504L538 506L540 507.5L542 508L544 507.5L546 506.5L548 504.5L550 502L551 500L552 499L554 496.5L556 494.5L558 492.5L560 490L561.5 488L562.5 486L563 484L563 482L562 480L560.5 478L558 476.5L556 476L554 475.5L552 475L550 475.5L548 475.5ZM442 515L444 514.5L446 515L448 515.5L450 515.5L452 516L454 516.5L455.5 518L456.5 520L457 522L457 524L457.5 526L457.5 528L457.5 530L458 532L458 534L458 536L456 535L454 534L452 533L450 531L449 530L447 528L446 526.5L444 524L443 522L442 520L441.5 518L441.5 516ZM390 529.5L392 528.5L394 529.5L395.5 532L396 534L395 536L394 537L392 538L390 538L388 536L388 534L388.5 532L389.5 530Z"/>
<path fill="#ff8600" d="M388 76L390 76L390.5 78L389.5 80L389 82L388 84L387 86L386 88L384.5 90L383 92L382 93.5L380.5 96L380 97.5L379 100L378.5 102L378 104L377.5 106L377.5 108L377.5 110L377.5 112L378 114L378.5 116L379 118L379.5 120L380 122L380 124L379.5 126L378.5 128L376.5 130L374.5 132L372.5 134L370.5 136L368.5 138L367 140L366 141L364 144L362.5 146L361 148L360 150L359 152L358 154L357 156L356.5 158L356 160L356 161.5L355.5 164L355 166L355 168L354.5 170L354.5 172L355 174L355 176L355 178L355 180L354 182L354 184L355.5 186L357.5 188L359.5 190L361.5 192L362.5 194L363.5 196L363.5 198L364 200L363.5 202L363.5 204L363.5 206L363 208L362.5 210L362 211.5L361.5 214L361 216L360.5 218L360 220L359.5 222L359.5 224L359.5 226L359 228L359 230L359.5 232L359.5 234L360 236L360.5 238L360.5 240L361 242L361.5 244L362 246L362.5 248L363 250L364 252L364.5 254L365.5 256L366 257.5L366.5 260L366.5 262L366 264L365.5 266L365.5 268L365 270L365 272L365.5 274L366 276L366.5 278L367.5 280L368.5 282L369.5 284L370.5 286L371 288L370.5 290L370 291.5L368 294L366 295.5L364 296.5L362 297.5L360 298.5L358 299L356 300L354 300.5L352 301L350 301.5L348 302.5L346 303L344 304L342 304.5L340 305.5L338.5 306L336 307.5L334 308.5L332.5 310L330.5 312L329.5 314L328.5 316L327.5 318L326 320L324.5 322L323.5 324L322 325.5L320 328L319 330L317.5 332L316 333.5L314 336L312 338L310.5 340L309.5 342L308 344L307 346L306 348L305 350L304 351.5L302 354L300.5 356L299 358L297 360L294.5 362L292 363.5L290 364L288 364.5L286 364.5L284 364.5L282 364.5L280 364.5L278 365L276 365L274 365L272 365.5L270 367.5L270 370L271 372L273.5 374L276 375.5L277.5 376L280 377.5L282 378.5L283.5 380L285 382L286 383.5L286.5 386L286.5 388L286 390L285 392L284 393.5L282 395L280 396L278 397.5L276 398.5L274 400L272 401.5L270 403L269 404L267 406L266 407L264 410L262.5 412L260.5 414L258 416L256 417.5L254 418.5L252 419.5L250 420L248 420.5L246 421.5L244 422L242 424L242 426L242.5 428L242.5 430L243 432L242.5 434L242.5 436L242 438L241.5 440L241 442L241 444L241 446L241 448L241 450L240.5 452L240.5 454L240.5 456L240.5 458L241 460L240.5 462L240.5 464L241 466L241 468L241 470L241 472L240.5 474L240.5 476L240 478L240 480L240 482L240 484L241 486L242 488L243 490L244 491.5L245.5 494L246.5 496L247 498L246.5 500L246 501.5L244.5 504L243 506L242 508L241 510L241 512L240.5 514L241 516L241.5 518L242 519.5L243 522L243 524L243.5 526L243.5 528L243.5 530L244 532L244 534L244.5 536L244.5 538L244.5 540L244 542L243.5 544L243 546L242.5 548L242 550L241.5 552L240.5 554L239 556L238 557.5L237.5 560L237.5 562L237.5 564L238.5 566L239.5 568L241.5 570L244 572L246 573L247.5 574L250 576L251.5 578L252 580L251.5 582L250.5 584L248.5 586L246 587.5L244 588L242 588L240 588L238 588L236 587.5L234 587L232 586.5L230 585.5L228 584L226 582L224 581L223 580L220.5 578L219 576L216 574.5L214 575L212 575.5L210 576L208 577L206 578L204 579L202 580L200 581L198 582L196 583L194.5 584L192 585.5L190 587L188.5 588L186 589.5L184 591L182 591.5L180 592.5L180 590L180 588L180 586L180 584L180 582L180 580L180 578L180 576L180 574L180 572L180 570L180 568L180 566L182 564.5L184 563.5L186 562.5L188 561.5L190 560.5L192 559.5L194 558.5L195.5 558L198 557.5L200 557.5L202 557L204 557L206 556.5L208 555.5L210 555L212 554.5L213.5 554L216 553.5L218 553.5L220 553.5L222 553.5L224 553.5L226 553.5L227.5 552L229 550L230 549L232 546.5L233.5 544L234.5 542L235 540L235 538L235 536L235 534L234.5 532L234.5 530L234.5 528L234 526L234 524L233.5 522L232.5 520L232 518L231.5 516L231 514L231 512L231.5 510L233 508L234 506.5L236 504L237 502L238 500L238 498L237.5 496L236.5 494L235 492L234 490.5L232 488.5L230.5 486L230 484L230.5 482L230.5 480L231 478L231.5 476L232 474L232.5 472L233 470L233 468L233.5 466L233 464L233 462L233 460L233 458L233 456L233 454L233 452L233 450L233.5 448L234 446L234.5 444L234.5 442L234.5 440L233 438L232 437L231 436L228 434L226 433L224 432.5L222 432L220 431.5L218 431.5L216 431L214 431L212 430.5L210 430L208 428.5L206 426.5L205 424L205 422L206 420L208 419L210 418L212 417.5L214 417L216 416L218 415L220 414.5L222 413.5L224 413L226 412.5L228 412L230 412L232 411.5L234 411L236 411L238 410.5L240 410L241.5 410L244 409.5L246 409.5L248 409L250 408L252 407L253 406L255 404L256 402.5L257.5 400L259 398L260 396.5L262 394L264 392.5L266 391L268 390L269.5 388L268.5 386L266 384L264 382L262 380L260.5 378L259 376L258.5 374L258 372.5L257.5 370L257.5 368L258 366L258.5 364L259.5 362L260.5 360L262 358.5L264 356.5L266 355.5L268 355L270 354.5L272 354L274 354L276 353.5L278 353.5L280 353L282 353L284 352.5L286 352.5L288 352L290 351L291.5 350L293.5 348L294.5 346L295.5 344L296.5 342L297.5 340L298.5 338L299.5 336L300.5 334L301.5 332L302.5 330L303.5 328L305 326L306 325L307 324L309.5 322L312 320L314 318L315.5 316L317 314L318 312.5L319 310L320 308.5L321.5 306L323 304L324 302.5L326 301L328 299.5L330 298.5L332 297.5L334 296.5L336 296L338 295.5L340 295L342 294.5L343.5 294L346 293.5L348 292.5L350 292L352 291.5L354 291L356 290L358 289L359 288L360 287L361 284L361 282L361 280L361 278L361 276L361 274L361 272L361.5 270L362 268L362.5 266L363 264L363 262L363 260L362.5 258L362 256.5L361 254L360 252.5L359 250L358 248L357 246L356.5 244L356.5 242L356 240L356 238L355.5 236L355 234L355 232L354.5 230L354.5 228L354.5 226L354.5 224L354.5 222L354.5 220L354.5 218L355 216L355 214L355.5 212L355.5 210L356 208L356 206L356 204L355.5 202L355 200L354.5 198L354 196.5L352.5 194L351.5 192L350 190.5L348.5 188L348 186L348.5 184L350 182L350.5 180L351 178L351 176L351 174L350.5 172L350.5 170L351 168L351 166L351.5 164L352.5 162L353 160L353 158L353.5 156L354.5 154L355.5 152L357 150L358 148L359 146L360 144.5L362 142L363.5 140L365.5 138L367.5 136L369.5 134L371.5 132L373.5 130L375.5 128L377 126L378 124L378 122L377.5 120L377 118L376.5 116L376 114L375.5 112L375.5 110L375.5 108L375.5 106L375.5 104L376 102.5L376.5 100L377 98L378 96L378.5 94L379.5 92L380 91L382 88L383 86L384 84.5L385 82L385.5 80L386 78.5L386.5 76L388 76ZM574 103.5L574 106L574 108L574 110L574 112L574 114L574 116L574 118L572 120L570 121.5L568.5 122L566 123L564 123L562 123.5L560.5 124L558 124.5L556 125.5L554 126L552 126.5L550 127L548 127.5L546.5 128L544 128.5L542 129.5L540 130.5L538 132L536.5 134L535.5 136L534.5 138L534 139.5L533 142L533 144L532.5 146L532.5 148L532.5 150L533 152L533 154L533 156L533.5 158L534 160L535 162L536 164L537 166L538 168L539 170L540 171.5L542 174L544 176L545.5 178L547 180L548 181L550 184L551.5 186L553 188L554 189L555.5 192L556.5 194L557 196L557.5 198L558 200L558 202L558.5 204L559 206L559 208L558.5 210L558.5 212L558 214L557.5 216L557.5 218L558 220L560 222L562 222.5L564 223L566 223L568 223L570 223L572 223L574 223L574 226L574 228L574 230L574 232L574 234L574 236L574 238L574 240L574 242L574 244L574 246L572 247.5L570.5 248L569 250L569.5 252L572 253.5L574 254L574 256L574 258L574 260L574 262L574 264L574 266L574 268L574 270L572 270L570 270L568.5 272L568.5 274L569 276L569 278L569.5 280L569.5 282L569.5 284L570 286L570.5 288L571 290L572 291.5L574 293.5L574 296L574 298L574 300L574 302L574 304L574 306L574 308L574 310L574 312L574 314L574 316L574 318L574 320L574 322L574 324L574 326L574 328L574 330L574 332L574 334L574 336L574 338L574 340L572 339.5L570.5 338L568.5 336L567.5 334L566 332L565 330L564.5 328L563.5 326L563 324L562.5 322L562 320L561.5 318L560.5 316L558 315.5L556 316L554 316L552 316L550 315.5L548 315L546 314L544 312.5L542 311L540 308.5L539.5 306L539 304L539 302L539 300L539 298L538.5 296L538 294L538 292L538.5 290L539 288L539.5 286L540 284L540 282L540 280L539.5 278L538.5 276L538 274L537.5 272L537 270L537 268L536.5 266L537 264L537 262L537.5 260L538.5 258L540 256L541.5 254L543.5 252L546 250L548 248.5L550 246.5L552 244L553.5 242L554.5 240L555.5 238L554.5 236L552 234L550.5 232L549 230L548 228L547.5 226L547 224L547 222L547 220L547 218L547 216L547 214L547 212L547 210L547 208L547 206L547 204L546.5 202L546 200L545.5 198L545 196L544 194.5L543 192L542 190.5L540.5 188L539.5 186L538 184L536.5 182L535.5 180L534.5 178L533.5 176L532 174L531 172L530 171L529 168L529 166L529 164L529 162L528.5 160L528.5 158L528 156L527 154L526 152L526 150L527 148L527 146L527 144L526 142.5L524.5 140L523.5 138L524 136L525 134L526 132L527 130L528 128L529 126L530 124L532 122L534 120L536 119L538 118.5L540 117.5L542 117.5L544 117L546 116.5L548 116L550 115.5L552 115L554 114L556 113L558 112.5L560 111.5L562 110.5L564 109.5L566 108L568 107L569.5 106L572 104.5L573.5 104ZM551 284L550 285.5L549 288L548.5 290L548 292L547.5 294L547.5 296L548 298L548 300L548.5 302L550 304L552 304.5L553.5 304L556 302.5L558 301L559 300L560 299L562 296.5L563 294L563.5 292L563.5 290L563 288L562 286.5L560 285L558 284L556 283L554 282.5L552 283ZM182 195.5L183.5 196L186 196.5L188 197L190 198L192 198.5L194 199L196 200L198 201L200 202L202 203L204 203.5L206 205L207 206L209 208L208 210L206 211.5L204 214L204.5 216L205 218L204 219.5L202 219.5L200 219.5L198 219.5L196 219L194 218.5L192 217.5L190 216.5L188.5 216L186 215L184 214L182 212.5L180.5 212L180 210L180 208L180 206L180 204L180 202L180 200L180 198L180 196L182 195.5ZM450 298.5L452 298L454 298.5L456 299L457.5 300L459 302L460 304L460.5 306L460 308L459 310L458 311L456.5 312L454 312.5L452 312L450 311L449 310L447.5 308L446.5 306L446.5 304L447 302L448 300L450 298.5ZM454 304L452 304.5L451.5 306L453.5 308L455.5 306L454 304ZM180 306L182 307L184 310L185 312L186 313.5L187.5 316L188.5 318L190 320L191 322L191 324L190 325.5L188 326L186 327L185 328L184 330L183 332L182 333L180.5 334L180 332L180 330L180 328L180 326L180 324L180 322L180 320L180 318L180 316L180 314L180 312L180 310L180 308L180 306ZM416 451.5L418 451L420 450.5L422 450.5L424 450.5L426 450.5L428 451L430 451.5L432 452.5L434 454L436 455L437.5 456L440 457.5L442 459L443.5 462L444 464L443.5 466L443 468L442.5 470L441.5 472L441.5 474L441.5 476L441.5 478L442 480L443 482L446 484L448 485L449.5 486L452 488L454 490L456 492L457.5 494L459 496L460 498L461 500L461.5 502L462.5 504L463.5 506L465 508L466 509L468 511L470 513.5L472 516L474 518L476 519L478 519.5L480 520L482 520.5L484 521.5L485.5 522L488 523.5L490 525.5L491.5 528L492.5 530L493 532L493 534L492.5 536L491.5 538L490 540L488 542L486 543.5L484 544L482 544.5L480 544.5L478 544.5L476 544.5L474 544L472 543.5L470 543L468.5 542L466 541L464 540L462 539.5L463 542L465 544L466 545.5L467 548L467.5 550L467.5 552L467.5 554L467 556L466.5 558L466 560L465.5 562L464.5 564L464 566L463.5 568L463.5 570L463.5 572L463.5 574L464 576L464.5 578L465.5 580L466 582L466.5 584L466.5 586L467 588L467 590L467 592L467.5 594L467.5 596L467.5 598L468 600L466 600L464 600L462 600L460 600L458 600L456 600L456 598L456 596L455.5 594L455.5 592L455.5 590L455 588L455 586L454.5 584L454 582L453 580L452.5 578L452 576.5L451.5 574L450.5 572L450.5 570L450 568L450 566L450.5 564L451 562L452 560.5L453 558L453.5 556L453.5 554L452.5 552L451 550L449 548L447 546L445 544L443 542L440.5 540L438.5 538L436.5 536L435.5 534L434 532L432.5 530L432 528.5L430.5 526L429 524L428 523L426 523L424.5 526L424.5 528L425 530L426 531.5L427.5 534L428 536L428.5 538L429 540L429 542L428.5 544L428 546L427 548L425.5 550L424 551.5L422 552.5L420 553.5L418 554L416 554L414 553.5L412 552.5L410.5 552L408 550.5L406 549L404 548L402 547.5L400 547.5L398 548L396 549L394.5 550L392.5 552L390.5 554L388.5 556L386.5 558L384.5 560L382 562L380 564L378 565.5L376 567.5L374 569L372.5 570L370 571.5L368 572.5L366 573.5L364.5 574L362 575L360 575.5L358 575.5L356 575.5L354 575.5L352 575L350 574L348 573L346 571L344.5 570L342.5 568L340 566.5L338 565L336.5 564L334 563.5L332 564L331 566L331 568L331 570L332 572L333.5 574L335 576L337 578L338 579.5L339.5 582L340 584L340.5 586L340.5 588L340.5 590L340.5 592L340 594L340 596L339.5 598L339.5 600L338 600L336 600L334 600L332 600L330 600L329.5 598L329.5 596L329.5 594L329 592L329 590L328.5 588L327.5 586L326.5 584L325 582L324 580.5L322 578L320.5 576L320 574.5L319 572L319 570L319 568L319 566L319.5 564L320 562L320.5 560L321.5 558L323 556L325.5 554L328 552.5L330 551.5L332 550.5L334 550.5L336 550.5L338 550.5L340 551.5L341 552L344 553.5L346 555L347 556L349.5 558L352 560L354 561.5L356 562.5L358 563L360 562.5L362 562L364 561L365.5 560L368 558L370 556.5L372 554.5L374 552.5L376 550.5L378 548.5L380 546L381 544L380 542L378 542L376 543L374 544L372 545.5L370.5 546L368 547L366 547L364 547L362 547L360 546.5L358 546.5L356 546L354 545L352 544.5L350 543.5L348 542L346 541L344 539L343 538L341 536L340 535L338 532L337 530L336 528.5L334.5 526L333 524L332 522.5L331 520L330 518L330 516.5L330 514L331 512L332 510L333.5 508L334.5 506L336 504L337 502L337.5 500L338 498L337.5 496L336 494.5L334 493.5L332 492.5L330 492L328 491.5L326 491.5L324 491L322.5 490L320 488L319 486L318.5 484L318.5 482L318.5 480L319.5 478L320 476L320.5 474L321 472L321.5 470L322 468L323.5 466L326 464L328 462.5L330 460.5L332 458L334 457L336 457L338 457L340 457L342 457L344 456.5L346 456.5L348 456.5L350 457L352 458L354 458.5L356 459L358 459L360 458.5L362 458L364 457.5L366 457.5L368 457L370 457.5L372 458L374 458.5L375.5 460L377 462L377.5 464L378 466L378.5 468L379 470L379 472L379.5 474L379.5 476L380 478L380.5 480L381 482L381.5 484L381.5 486L381.5 488L381 490L380.5 492L380 493.5L379.5 496L379.5 498L379.5 500L379.5 502L380.5 504L381.5 506L383 508L384 509.5L386 511.5L388 514L390 515.5L391.5 516L394 515L394.5 512L395 510L395 508L395.5 506L395.5 504L396 502L396 500L395.5 498L395 496L394.5 494L393.5 492L393 490L393 488L393 486L393 484L393.5 482L394 480L394.5 478L395 476L396 474L396.5 472L397 470L398 468L398.5 466L399.5 464L401.5 462L403.5 460L406 458L408 456.5L410 455L411.5 454L414 452.5L416 451.5ZM419.5 462L418 463L416.5 464L414 466L412 468L410 470L409 472L408 473.5L407 476L406 478L405.5 480L405.5 482L405 484L405 486L404.5 488L404.5 490L405 492L405 494L405 496L405 498L405 500L405.5 502L406 504L406.5 506L407.5 508L410 509.5L412 510L414 510.5L416 511L418 512L420 512.5L422 513.5L424 514L426 514.5L428 512.5L429.5 510L430 508.5L431.5 506L432.5 504L433.5 502L435.5 500L437 498L438 496L437 494L435 492L434 490.5L432.5 488L431.5 486L430.5 484L430 482L430 480L429.5 478L429.5 476L429.5 474L430 472L430 470L430.5 468L431 466L431 464L429 462L426 461L424 460.5L422 460.5L420 461.5ZM334.5 466L332.5 468L331 470L330.5 472L330.5 474L330.5 476L331 478L332 479.5L334 481.5L336 483.5L337.5 486L339 488L341 490L343.5 492L345 494L346 495.5L347.5 498L348 500L348 502L347.5 504L346.5 506L346 507.5L344.5 510L344 511.5L343 514L342 516L341.5 518L341.5 520L342.5 522L344 523.5L346 526L348 528L350 529.5L352 531L353 532L356 533.5L358 534.5L360 535L362 535L364 535L366 534.5L368 533.5L370 532L372 531L373.5 530L376 528.5L378 526.5L379 524L379 522L378.5 520L377.5 518L376 516L375 514L374 512.5L372.5 510L372 508.5L371 506L370.5 504L370 502L370 500L369.5 498L369.5 496L369.5 494L370 492L370 490L370 488L370 486L370 484L370 482L369.5 480L369.5 478L369.5 476L369 474L368.5 472L367.5 470L366 468.5L364 467.5L362 466.5L360 466L358 465.5L356 465L354 465L352 464.5L350 464L348 464L346 464L344 464L342 464L340 464.5L338 464.5L336 465L334.5 466ZM441.5 516L441.5 518L442 520L443 522L444 523.5L445.5 526L447 528L449 530L450 531L451 532L454 534L456 535L458 536L458 534L458 532.5L457.5 530L457.5 528L457.5 526L457 524L457 522L456.5 520L456 518.5L454 516.5L452 516L450 515.5L448 515.5L446 515L444 514.5L442 515ZM389.5 530L388.5 532L388 534L388 536L390 538L392 538L394 537L395 536L396 534L395.5 532L394.5 530L392 528.5L390 529.5ZM548 475.5L550 475.5L552 475L554 475.5L556 476L558 476.5L560 477.5L562 480L563 482L563 484L562.5 486L561.5 488L560 490L558.5 492L556.5 494L554.5 496L552.5 498L551 500L550 502L548.5 504L546.5 506L544 507.5L542 508L540 507.5L538 506L537 504L536.5 502L536.5 500L536.5 498L537 496L538 494L538.5 492L539 490L539.5 488L540 486L540 484L541 482L542 480L543.5 478L546 476.5L548 475.5Z"/>
<path fill="#ff8100" d="M384 76L386 76L386 78L385.5 80L385 82L384.5 84L383 86L382 88L380.5 90L379.5 92L378.5 94L378 96L377 98L376.5 100L376 102L375.5 104L375.5 106L375.5 108L375.5 110L375.5 112L376 114L376.5 116L377 118L377.5 120L378 122L378 124L377 126L376 127.5L374 129.5L372 131.5L370 133.5L368 135.5L366 137.5L364 139.5L362 142L360.5 144L359 146L358 147.5L357 150L356 151.5L354.5 154L353.5 156L353 158L353 160L352.5 162L351.5 164L351 166L351 168L350.5 170L350.5 172L351 174L351 176L351 178L350.5 180L350 181.5L348.5 184L348 185.5L348 187L349.5 190L351.5 192L352.5 194L353.5 196L354.5 198L355 200L355.5 202L356 204L356 206L356 208L355.5 210L355.5 212L355 214L355 216L354.5 218L354.5 220L354.5 222L354.5 224L354.5 226L354.5 228L354.5 230L355 232L355 234L355.5 236L356 238L356 240L356.5 242L356.5 244L357 246L358 248L359 250L360 252L361 254L362 256L362.5 258L363 260L363 262L363 264L362.5 266L362 268L361.5 270L361 272L361 274L361 276L361 278L361 280L361 282L361 284L360.5 286L359 288L358 289L356 290L354 291L352 291.5L350.5 292L348 292.5L346 293.5L344 294L342 294.5L340 295L338 295.5L336.5 296L334 296.5L332 297.5L330.5 298L328 299.5L326 301L324.5 302L323 304L321.5 306L320 308L319 310L318 312L317 314L316 315.5L314 318L312 320L310 321.5L308 323.5L306 325L305 326L304 327.5L302.5 330L301.5 332L300.5 334L300 335.5L298.5 338L298 339.5L296.5 342L296 343.5L294.5 346L293.5 348L292 349.5L290 351L288.5 352L286 352.5L284 352.5L282 353L280 353L278 353.5L276 353.5L274 354L272.5 354L270 354.5L268 355L266 355.5L264 356.5L262.5 358L260.5 360L259.5 362L258.5 364L258 366L257.5 368L257.5 370L258 372L258.5 374L259 376L260 377.5L262 380L264 382L266 384L268 386L269.5 388L268 390L266 391L265 392L262.5 394L260.5 396L259 398L258 399L256.5 402L255 404L254 405.5L252 407L250.5 408L248 409L246 409.5L244 409.5L242 410L240 410L238 410.5L236 411L234 411L232 411.5L230 412L228 412L226 412.5L224 413L222 413.5L220 414.5L218 415L216.5 416L214 417L212 417.5L210 418L208 419L206 420L205 422L205 424L205.5 426L207 428L210 430L212 430.5L214 431L216 431L218 431.5L220 431.5L222 432L224 432.5L226 433L227.5 434L230 435.5L232 437L233 438L234 439.5L234.5 442L234.5 444L234 446L233.5 448L233 450L233 452L233 454L233 456L233 458L233 460L233 462L233 464L233.5 466L233 468L233 470L232.5 472L232 474L231.5 476L231 478L230.5 480L230.5 482L230 484L230.5 486L231.5 488L233.5 490L235 492L236 493L237.5 496L238 498L238 500L237 502L236 504L234.5 506L233 508L232 509.5L231 512L231 514L231.5 516L232 518L232.5 520L233.5 522L234 524L234 526L234.5 528L234.5 530L234.5 532L235 534L235 536L235 538L235 540L234.5 542L233.5 544L232 546L230.5 548L229 550L228 551.5L226 553.5L224 553.5L222 553.5L220 553.5L218 553.5L216 553.5L214 554L212 554.5L210 555L208 555.5L206 556.5L204 557L202 557L200 557.5L198 557.5L196 558L194 558.5L192 559.5L190 560.5L188 561.5L186.5 562L184 563.5L182.5 564L180 565L180 562L180 560L180 558L180 556L180 554L180 552L180 550L180 548L180 546L180 544L180 542L180 540L180 538L180 536L182 534.5L184 534L186 533.5L188 533L190 533L192 532.5L194 532.5L195.5 532L198 531.5L200 531L202 530.5L204 530L206 528.5L208 527L210 525L211 524L212 523L214 520L215 518L216 516L217 514L218 512L219 510L220.5 508L222 506.5L224 504.5L226 502.5L228 500.5L228 498L227 496L225 494L224 492.5L222.5 490L222 488.5L221.5 486L221.5 484L222 482L222.5 480L223 478L224 476.5L225 474L226 472.5L227 470L228 468L228.5 466L229 464L229.5 462L229.5 460L229.5 458L229.5 456L229.5 454L229.5 452L229.5 450L230 448L230.5 446L231 444L231 442L230.5 440L228.5 438L226 436.5L224.5 436L222 435.5L220 435L218 434.5L216 434.5L214 434.5L212 434.5L210 434.5L208 434L206 434L204 434L202 434L200 434L198 434L196 434L194 434L192 434L190 434.5L188 434.5L186 434L184 433.5L182 433.5L180 433L180 430L180 428L180 426L180 424L180 422L180 420L180 418L180 416L180 414L180 412L180 410L180 408L180 406L180 404L180 402L180 400L180 398L180 396L180 394L180 392L180 390L180 388L180 386L180 384L180 382L180 380L180 378L180 376L180 374L180 372L180 370L180 368L180 366L180 364L180 362L180 360L180 358L180 356L180 354L180 352L180 350L180 348L180 346L180 344L180 342L180 340L180 338L180 336L180 334L182 333L183 332L184 330L185 328L186 327L188 326L190 325.5L191 324L191 322L190 320L188.5 318L187.5 316L186 314L185 312L184 310L183 308L180 306L180 304L180 302L180 300L180 298L180 296L180 294L180 292L180 290L180 288L180 286L180 284L180 282L180 280L180 278L180 276L180 274L180 272L180 270L180 268L180 266L180 264L180 262L180 260L180 258L180 256L180 254L180 252L180 250L180 248L180 246L180 244L180 242L180 240L180 238.5L182 240L184 242L186 244L188 245.5L190 247.5L192 249L193 250L196 252L198 253.5L200 255L201.5 256L204 257.5L206 258.5L208 259L210 260L212 260.5L214 262L216 263.5L218 265L220 266L222 267L224 268L226 269.5L228 271L230 272L232 272.5L234 273L236 273.5L238 274.5L240 275.5L242 277L244 278L246 279L248 280L250 281.5L252 283L254 285.5L256 287.5L257 290L257.5 292L257.5 294L257.5 296L257.5 298L257 300L256.5 302L256 304L255 306L254 307.5L252 309.5L250 311L248.5 312L246 313L244 313.5L242 313.5L240.5 314L238 314.5L236 314.5L234 314.5L232 314.5L230 314.5L228 314.5L226 314.5L224 314L222 314.5L220 315L218.5 316L216 318L214 319L212 321L210 323L209 324L206 326L205 328L205 330L204.5 332L205 334L205 336L205 338L204.5 340L204 342L203.5 344L203 346L202.5 348L201.5 350L200.5 352L199.5 354L199.5 356L200 357.5L200.5 360L200.5 362L201 364L201.5 366L202.5 368L203.5 370L204.5 372L206 374L207 376L208 378L209 380L211 382L212 383L214 386L215 388L215.5 390L217 392L218 393.5L220 395.5L222 397L224 398L226 398.5L228 399L230 399.5L232 399.5L234 399.5L236 399L238 398.5L240 398L242 397.5L244 396L246 394.5L248 392L249 390L249.5 388L250 386L250.5 384L250.5 382L250.5 380L250.5 378L250.5 376L250.5 374L250 372L250 370L250 368L250.5 366L250.5 364L251 362L251.5 360L252 358.5L253.5 356L255 354L256 353L258 351.5L260 350L262 349L264 348L266 347.5L268 346.5L270 346L272 345.5L274 344.5L276 344L278 343L280 342L282 340.5L284 338.5L286 336L287.5 334L288.5 332L289.5 330L290.5 328L291.5 326L292.5 324L294 322L295.5 320L298 318L300 316.5L302 315.5L304 314L306 312.5L308 310.5L310 308L311.5 306L313 304L314 302.5L316 300L317.5 298L319 296L321.5 294L324 292L326 291L328 290L330 289L332 288L334 287.5L336 286.5L338 286L340 285.5L342 285L344 284L346 283.5L348 282.5L350 281.5L351.5 280L353 278L354 276.5L355 274L356 272L356.5 270L357 268L357.5 266L358 264.5L358 262L358 260L357.5 258L356.5 256L355.5 254L354.5 252L353.5 250L352.5 248L351.5 246L350.5 244L350 242L350 240L350.5 238L351 236L350.5 234L350.5 232L350.5 230L350 228L350 226L349.5 224L349.5 222L349 220L349 218L349 216L349 214L349.5 212L349.5 210L349 208L349 206L348.5 204L347.5 202L346.5 200L345 198L344 196.5L342 194L341 192L340 190.5L340.5 188L342 186L344 184L345.5 182L346.5 180L347 178L347 176L347 174L346.5 172L346.5 170L347 168L347 166L348 164L348.5 162L349 160L349.5 158L350.5 156L351 154L352 152.5L353.5 150L354.5 148L355.5 146L357 144L358 142.5L360 140.5L362 138L364 136L366 134L368 132L370 130L372 128L374 126L375 124L375 122L375 120L374.5 118L374 116L374 114L373.5 112L373.5 110L373 108L373 106L373.5 104L373.5 102L374 100L374.5 98L375 96L375.5 94L376 92L377 90L378 88L379.5 86L380.5 84L381.5 82L382 80L382.5 78L382.5 76L384 76ZM572 120L574 119L574 122L574 124L574 126L574 128L574 130L574 132L574 134L574 136L574 138L574 140L574 142L574 144L574 146L574 148L574 150L574 152L574 154L574 155.5L572.5 154L571 152L570 150.5L568 148L566.5 146L565 144L564 142.5L562 140L560.5 138L558 136.5L556 135.5L554 135L552 135L550 135.5L548 136L546 137L544 138L542.5 140L541 142L540.5 144L540 146L540 148L540 150L540 152L540 154L540.5 156L541 158L541.5 160L542.5 162L543.5 164L544.5 166L546 168L548 170L550 171.5L552 173L554 174L556 175L558 175.5L560 176L562 176.5L564 176L566 176L568 175L570 174L572 172.5L574 171.5L574 174L574 176L574 178L574 180L574 182L574 184L574 186L574 188L574 190L574 192L574 194L574 196L574 198L574 200L574 202L574 204L574 206L574 208L574 210L574 212L574 214L574 216L574 218L574 220L574 222L572 223L570 223L568 223L566 223L564 223L562 222.5L560 222L558 220L557.5 218L557.5 216L558 214L558.5 212L558.5 210L559 208L559 206L558.5 204L558 202L558 200L557.5 198L557 196L556.5 194L555.5 192L554.5 190L553 188L552 186.5L550 184L548.5 182L547 180L546 178.5L544 176L542 174L540.5 172L539 170L538 168L537 166L536 164L535 162L534 160L533.5 158L533 156L533 154L533 152L532.5 150L532.5 148L532.5 146L533 144L533 142L533.5 140L534.5 138L535.5 136L536.5 134L538 132L540 130.5L542 129.5L544 128.5L546 128L548 127.5L550 127L552 126.5L554 126L556 125.5L558 124.5L560 124L562 123.5L564 123L566 123L568 122L570 121.5L572 120ZM182 193L184 193.5L186 194L188 194.5L190 195L192 195.5L194 196.5L196 197.5L197.5 198L200 199.5L202 200L204 200.5L206 201L208 202L210 203.5L212 205L213.5 206L215 208L216 209.5L217.5 212L219 214L220 215L221 216L222 217L224 219L226 221L228 223.5L229.5 226L231 228L232 229.5L232.5 232L233 234L233 236L232 237.5L230 238.5L228 239L226 239L224 239L222 238.5L220 238L218 237.5L216 237L214 236.5L212 235.5L210 235L208 234L206 233.5L204 232.5L202 232L200 231L198 230L196 229L194 228L192 227L191 226L188 224.5L186 223L185 222L182 220L180 219L180 216L180 214L180 212L182 212.5L184 214L186 215L188 216L190 216.5L192 217.5L193.5 218L196 219L198 219.5L200 219.5L202 219.5L204 219.5L205 218L204.5 216L204 214L205 212L208 210L209 208L207 206L206 205L204.5 204L202 203L200 202L198 201L196 200L194 199L192 198.5L190.5 198L188 197L186 196.5L184 196L182 195.5L180 195.5L180 193L182 193ZM572 247.5L574 247.5L574 250L574 252L574 254L572 253.5L570 252.5L569 250L570 248.5L572 247.5ZM552 283L554 282.5L556 283L558 284L560 285L561 286L563 288L563.5 290L563.5 292L563 294L562 296L560.5 298L559 300L558 301L557 302L554 304L552 304.5L550 304L548.5 302L548 300L548 298L547.5 296L547.5 294L548 292L548.5 290L549 288L550 286L551 284ZM454 304L455.5 306L454 308L452 307L452 304.5L454 304ZM420 461.5L422 460.5L424 460.5L426 461L428 461.5L430 463L431 466L430.5 468L430 470L430 472L429.5 474L429.5 476L429.5 478L430 480L430 482L430.5 484L431.5 486L432 487.5L433.5 490L435 492L437 494L438 496L437 498L435.5 500L434 501.5L432.5 504L431.5 506L430.5 508L429.5 510L428 512L426.5 514L424 514L422 513.5L420 512.5L418.5 512L416 511L414 510.5L412 510L410 509.5L408 508.5L406.5 506L406 504.5L405.5 502L405 500L405 498L405 496L405 494L405 492L404.5 490L404.5 488L405 486L405 484L405.5 482L405.5 480L406 478.5L407 476L407.5 474L409 472L410 470.5L412 468L414 466L416 464.5L418 463L419.5 462ZM416.5 494L415.5 496L415.5 498L416 499.5L418 501.5L419.5 502L422 501L423 500L423.5 498L423.5 496L422 494L420 492.5L418 492.5L416.5 494ZM336 465L338 464.5L340 464.5L342 464L344 464L346 464L348 464L350 464L352 464.5L354 465L356 465L358 465.5L360 466L362 466.5L364 467.5L366 468.5L367.5 470L368.5 472L369 474L369.5 476L369.5 478L369.5 480L370 482L370 484L370 486L370 488L370 490L370 492L369.5 494L369.5 496L369.5 498L370 500L370 502L370.5 504L371 506L371.5 508L372.5 510L373.5 512L375 514L376 515.5L377.5 518L378 519.5L379 522L379 524L378.5 526L376.5 528L374 529.5L372 531L370 532L368 533.5L366.5 534L364 535L362 535L360 535L358 534.5L356 533.5L354 532.5L352 531L350.5 530L348 528L346 526L344 524L342.5 522L342 520.5L341.5 518L342 516L343 514L344 512L344.5 510L345.5 508L346.5 506L347.5 504L348 502.5L348 500L347.5 498L346.5 496L345 494L344 493L342 491L340 489L338 486.5L336 484L334.5 482L332 480L331 478L330.5 476L330.5 474L330.5 472L331 470L332 468.5L334 466.5L336 465ZM342 470L340 471.5L338.5 474L338 476L338.5 478L339 480L339.5 482L340.5 484L342 486L344 488L346 489.5L348 491L349.5 492L352 493.5L354 494L356 494.5L358 494L360 492.5L362 490L363 488L363.5 486L363.5 484L363.5 482L363.5 480L363 478L362.5 476L361.5 474L360 472.5L358 471L356 470L354 469L352 469L350 468.5L348 468.5L346 469L344 469.5L342 470ZM355.5 510L354 511.5L352 514L351.5 516L351.5 518L351.5 520L352.5 522L354 524L356 525.5L358 526.5L360 527L362 527L364 526.5L366 525.5L367.5 524L368.5 522L368.5 520L368.5 518L367.5 516L366.5 514L365 512L364 511L362 509.5L360 508.5L358 508.5L356 509.5ZM426 523L428 523L429 524L430 525.5L431.5 528L432.5 530L434 532L435.5 534L436.5 536L438 537.5L440 539.5L442 541L444 543L446 545L448 547L450 549L452 551.5L453.5 554L453.5 556L453 558L452 560L451 562L450.5 564L450 566L450 568L450.5 570L450.5 572L451.5 574L452 576L452.5 578L453 580L454 582L454.5 584L455 586L455 588L455.5 590L455.5 592L455.5 594L456 596L456 598L456 600L454 600L452 600L450 600L448 600L446 600L444 600L442 600L440 600L438 600L436 600L434 600L432 600L430 600L428 600L426 600L424 600L422 600L420 600L418 600L416 600L414 600L412 600L410 600L408 600L406 600L404 600L402 600L400 600L398 600L396 600L394 600L392 600L390 600L388 600L386 600L384 600L382 600L380 600L378 600L376 600L374 600L372 600L370 600L368 600L366 600L364 600L362 600L360 600L358 600L356 600L354 600L352 600L350 600L348 600L346 600L344 600L342 600L340 600L339.5 598L340 596L340 594L340.5 592L340.5 590L340.5 588L340.5 586L340 584L339.5 582L338.5 580L337 578L335 576L334 574.5L332 572L331 570L331 568L331 566L332 564L334 563.5L336 564L338 565L339.5 566L342 568L344 569.5L346 571L348 573L350 574L352 575L354 575.5L356 575.5L358 575.5L360 575.5L362 575L364 574L366 573.5L368 572.5L370 571.5L372 570.5L374 569L375 568L377.5 566L380 564L382 562L384 560.5L386 558.5L388 556.5L390 554.5L392 552.5L394 550.5L396 549L398 548L400 547.5L402 547.5L404 548L406 549L407.5 550L410 551.5L412 552.5L414 553.5L416 554L418 554L420 553.5L422 552.5L424 551.5L425.5 550L427 548L428 546L428.5 544L429 542L429 540L428.5 538L428 536L427.5 534L426 532L425 530L424.5 528L424.5 526L425.5 524Z"/>
<path fill="#ff7b00" d="M380 76L382 76L382.5 78L382 79.5L381.5 82L380.5 84L379.5 86L378 88L377 90L376 92L375.5 94L375 96L374.5 98L374 100L373.5 102L373.5 104L373 106L373 108L373.5 110L373.5 112L374 114L374 116L374.5 118L375 120L375 122L375 124L374 125.5L372 128L370 130L368 132L366 134L364 136L362 138L360.5 140L358.5 142L357 144L356 145.5L354.5 148L353.5 150L352 152L351 154L350.5 156L349.5 158L349 160L348.5 162L348 163.5L347 166L347 168L346.5 170L346.5 172L347 174L347 176L347 178L346.5 180L345.5 182L344 184L342 186L340.5 188L340 189.5L341 192L342 194L343.5 196L345 198L346 199.5L347.5 202L348.5 204L349 206L349 208L349.5 210L349.5 212L349 214L349 216L349 218L349 220L349.5 222L349.5 224L350 226L350 227.5L350.5 230L350.5 232L350.5 234L351 236L350.5 238L350 240L350 242L350.5 244L351.5 246L352 247.5L353.5 250L354.5 252L355.5 254L356.5 256L357.5 258L358 260L358 262L358 264L357.5 266L357 268L356.5 270L356 271.5L355 274L354 276L353 278L352 279.5L350 281.5L348 282.5L346 283.5L344.5 284L342 285L340 285.5L338 286L336 286.5L334 287.5L332.5 288L330 289L328 290L326 291L324.5 292L322 293.5L320 295L318 297L316 299.5L314.5 302L313 304L312 305.5L310 308L308.5 310L306.5 312L304 314L302 315.5L300 316.5L298 318L296 319.5L294 322L292.5 324L291.5 326L290.5 328L289.5 330L288.5 332L287.5 334L286 336L284.5 338L282.5 340L280 342L278 343L276 344L274 344.5L272 345.5L270 346L268 346.5L266 347.5L264.5 348L262 349L260 350L258 351.5L256 353L255 354L254 355L252 358L251.5 360L251 362L250.5 364L250.5 366L250 368L250 370L250 372L250.5 374L250.5 376L250.5 378L250.5 380L250.5 382L250.5 384L250 386L249.5 388L249 390L248 391.5L246.5 394L244 396L242 397.5L240.5 398L238 398.5L236 399L234 399.5L232 399.5L230 399.5L228 399L226 398.5L224 398L222 397L220.5 396L218.5 394L217 392L216 390.5L215 388L214 386.5L212.5 384L211 382L209 380L208 378L207 376L206 374.5L204.5 372L204 370.5L202.5 368L202 366.5L201 364L200.5 362L200.5 360L200 358L199.5 356L199.5 354L200.5 352L201.5 350L202.5 348L203 346L203.5 344L204 342L204.5 340L205 338L205 336L205 334L204.5 332L205 330L205 328L206 326L208 324.5L210 323L211 322L213 320L215.5 318L218 316.5L220 315L222 314.5L224 314L226 314.5L228 314.5L230 314.5L232 314.5L234 314.5L236 314.5L238 314.5L240 314L242 313.5L244 313.5L246 313L248 312L250 311L251.5 310L253.5 308L255 306L256 304L256.5 302L257 300L257.5 298L257.5 296L257.5 294L257.5 292L257 290L256 288L254.5 286L253 284L250.5 282L248 280L246 279L244 278L242 277L240.5 276L238 274.5L236 273.5L234 273L232 272.5L230 272L228 271L226.5 270L224 268L222 267L220 266L218 265L216 263.5L214.5 262L212 260.5L210.5 260L208 259L206 258.5L204 257.5L202 256.5L200 255L198 253.5L196 252L194 250.5L192 249L191 248L188.5 246L186.5 244L184 242L182 240L180 238.5L180 236L182 237L184 239L186 241.5L188 243L190 245L191.5 246L194 248L196 249.5L197.5 250L200 251.5L202 253L204 254L206 255L208 255.5L210 255L210 253L208.5 250L207.5 248L206 246.5L204 244.5L202 242.5L200 240.5L198 238.5L196 237L194 235L192.5 234L190.5 232L188.5 230L186 228L184 226.5L182 225L180 224.5L180 222L180 220L182 220L184 221.5L186 223L187.5 224L190 225.5L192 227L194 228L196 229L197.5 230L200 231L202 232L204 232.5L206 233.5L207.5 234L210 235L212 235.5L214 236.5L216 237L218 237.5L219.5 238L222 238.5L224 239L226 239L228 239L230 238.5L231.5 238L233 236L233 234L232.5 232L232 230L231 228L230 226.5L228.5 224L227 222L225 220L223 218L221 216L220 215L219 214L218 213L216.5 210L215 208L214 206.5L212 205L211 204L208 202L206 201L204 200.5L202 200L200 199.5L198 198.5L196 197.5L194 196.5L192 195.5L190 195L188 194.5L186 194L184 193.5L182 193L180 193L180 190.5L182 190.5L184 190.5L186 191L188 191L190 191.5L191.5 192L194 193L196 194.5L198 196L200 197L202 197.5L203.5 198L206 198.5L208 199L210 200.5L211.5 202L214 204L216 205.5L218 207.5L219.5 210L221.5 212L223.5 214L225.5 216L228 218L230 220L231.5 222L233 224L235.5 226L237.5 228L239 230L240 231.5L242 233.5L243.5 236L244.5 238L245 240L246 241.5L248 244L249.5 246L250.5 248L252 250L253 252L254 253.5L255.5 256L257 258L258 259.5L260 262L261 264L262 266L263 268L264 270L265 272L266 274L267 276L267.5 278L268.5 280L269 282L269.5 284L270 286L271 288L271.5 290L273 292L274 294L275 296L275 298L275.5 300L275 302L275 304L274.5 306L274 308L273.5 310L273 312L272 313.5L270 315.5L268 317L266 318L264 319L262 320L260 321L258 322L256 323L254 324L252 325L250.5 326L248 328L246 329.5L244 331L243 332L240.5 334L238 335.5L236 337L234 338L232 339.5L230 341L228 342L226 343.5L224 345L223 346L221.5 348L220.5 350L219.5 352L219 354L219 356L218.5 358L218 360L217.5 362L217 364L217.5 366L218 368L218.5 370L219 372L220 374L221 376L222 378L223 380L225 382L226 383.5L228 385L230 386L232 386.5L234 386.5L236 385.5L238 384.5L240 382.5L241.5 380L242 378L242.5 376L242.5 374L242.5 372L242.5 370L242.5 368L242 366L241.5 364L241.5 362L241.5 360L241.5 358L241.5 356L241.5 354L242 352L242.5 350L243.5 348L245.5 346L248 344L250 343.5L252 343L254 342.5L255.5 342L258 341.5L260 341L262 340.5L264 339.5L266 338.5L267.5 338L270 336L272 334L273 332L274 330.5L275 328L275.5 326L276.5 324L277 322L278 320L280 318L282 317L284 316L286 315.5L288 314.5L290 313.5L292 312.5L293.5 312L296 310.5L298 309L299 308L301.5 306L303 304L304 303L306 300L307 298L308 296.5L309.5 294L311 292L312 290.5L314 288.5L316 286.5L318 285L319.5 284L322 282.5L324 281L326 280.5L328 279.5L330 279L332 278.5L333.5 278L336 277L338 276.5L340 275.5L342 274.5L344 273L346 271L348 268L348.5 266L349.5 264L349.5 262L349.5 260L349 258L348.5 256L348 254.5L347 252L346 250.5L345 248L344 246L343 244L342.5 242L341.5 240L341.5 238L342 236L344 235L346 232L346 230L346 228L345.5 226L345 224L344.5 222L344 220L343.5 218L343.5 216L343 214L343 212L343 210L342.5 208L342 206L341.5 204L341 202L340 200.5L338.5 198L337 196L336 194.5L334 192L333.5 190L335.5 188L337.5 186L340 184L342 182L342.5 180L343 178L343 176L343 174L342.5 172L342.5 170L343 168L343 166L343.5 164L344.5 162L345.5 160L346 158L347 156L348 154L349 152L350 150L351 148L352 146L353.5 144L355 142L356 140.5L358 138.5L360 136.5L362 134L364 132L366 130L368 128L370 126L371 124L372 122L372 120L372 118L371.5 116L371 114L371 112L371 110L371 108L370.5 106L371 104L371 102L371.5 100L371.5 98L372 96L372.5 94L373 92L373.5 90L374 88.5L375.5 86L376.5 84L377.5 82L378 80L378.5 78L379 76ZM548 136L550 135.5L552 135L554 135L556 135.5L558 136.5L560 137.5L562 139.5L563.5 142L565 144L566 145L568 148L569.5 150L571 152L572 153.5L574 155.5L574 158L574 160L574 162L574 164L574 166L574 168L574 170L573 172L570 174L568 175L566 176L564 176L562 176.5L560 176L558 175.5L556 175L554 174L552 173L550.5 172L548 170L546 168L544.5 166L543.5 164L542.5 162L542 160.5L541 158L540.5 156L540 154L540 152.5L540 150L540 148L540 146L540.5 144L541 142L542 140.5L544 138L546 137L547.5 136ZM548.5 144L547 146L546 148L546 150L546.5 152L547 154L547.5 156L548 157.5L549.5 160L551.5 162L554 163L556 163L558 162.5L560 160.5L561 158L561 156L561 154L560.5 152L559.5 150L558.5 148L557.5 146L556 144.5L554 143.5L552 143L550 143.5L548.5 144ZM182 433.5L184 433.5L185.5 434L188 434.5L190 434.5L192 434L194 434L196 434L198 434L200 434L202 434L204 434L206 434L208 434L210 434.5L212 434.5L214 434.5L216 434.5L218 434.5L220 435L222 435.5L224 436L226 436.5L228 438L230 439.5L231 442L231 444L230.5 446L230 448L229.5 450L229.5 452L229.5 454L229.5 456L229.5 458L229.5 460L229.5 462L229 464L228.5 466L228 468L227 470L226 472L225 474L224 476L223 478L222.5 480L222 482L221.5 484L221.5 486L222 488L222.5 490L223.5 492L225 494L226 495L228 497.5L228 500L227 502L224.5 504L222.5 506L220.5 508L219 510L218 512L217 514L216 516L215 518L214 520L212.5 522L211 524L210 525L208 527L206.5 528L204 530L202 530.5L200 531L198 531.5L196 532L194 532.5L192 532.5L190 533L188 533L186 533.5L184 534L182 534.5L180 535L180 532L180 530L180 528L180 526L180 524L180 522L180 520L180 518L180 516L180 514L180 512L180 510L180 508.5L182 508L184 508L186 507.5L188 507L189.5 506L192 504.5L194 503.5L196 502L198 501L200 500.5L202 500L204 499.5L205.5 498L206.5 496L207 494L207.5 492L207.5 490L207.5 488L207.5 486L208 484L209 482L210 480L211 478L212 477L214 475L216 473L217.5 472L220 470L222 468.5L224 466L225.5 464L226 462.5L226.5 460L226.5 458L226.5 456L226.5 454L226.5 452L227 450L227 448L227.5 446L228 444L228 442L226.5 440L224 439L222 438.5L220 438L218 437.5L216 437.5L214 437L212 437.5L210 437.5L208 438.5L206 439L204.5 440L202 441.5L200 443.5L198 445L197 446L195 448L194 449.5L192 451.5L190 453L188 454L186 454.5L184 455L182 455L180 455L180 452L180 450L180 448L180 446L180 444L180 442L180 440L180 438L180 436L180 434L182 433.5ZM344 469.5L346 469L348 468.5L350 468.5L352 469L354 469L356 470L358 471L359.5 472L361.5 474L362.5 476L363 478L363.5 480L363.5 482L363.5 484L363.5 486L363 488L362 490L360.5 492L358 494L356 494.5L354 494L352 493.5L350 492.5L348 491L346.5 490L344 488L342 486L340.5 484L340 482.5L339 480L338.5 478L338 476L338.5 474L339.5 472L342 470L344 469.5ZM343.5 474L342.5 476L342 478L342 480L343 482L344 483.5L346 485.5L348 487L350 487.5L351.5 488L354 488L356 487L358 484L358.5 482L358.5 480L358 478L357 476L356 475L354 473.5L352 472.5L350 472L348 472L346 472.5L344 474ZM418 492.5L420 492.5L422 493.5L423.5 496L423.5 498L423 500L422 501L420 502L418 501.5L416 500L415.5 498L415.5 496L416.5 494L418 492.5ZM356 509.5L358 508.5L360 508.5L362 509.5L364 511L365 512L366 513L367.5 516L368.5 518L368.5 520L368.5 522L367.5 524L366 525.5L364 526.5L362 527L360 527L358 526.5L356.5 526L354 524L352.5 522L351.5 520L351.5 518L351.5 516L352 514.5L353.5 512L355.5 510Z"/>
<path fill="#ff7500" d="M376 76L378 76L378.5 78L378 80L377.5 82L376.5 84L375.5 86L374 88L373.5 90L373 92L372.5 94L372 96L371.5 98L371.5 100L371 102L371 104L370.5 106L371 108L371 110L371 112L371 114L371.5 116L372 118L372 120L372 122L371 124L370 126L368 128L366 130L364 132L362 134L360 136L358.5 138L356.5 140L355 142L354 143L352 146L351 148L350 150L349 152L348 153.5L347 156L346 158L345.5 160L344.5 162L343.5 164L343 166L343 168L342.5 170L342.5 172L343 174L343 176L343 178L342.5 180L342 181.5L340 184L338 186L336 187.5L334 189.5L334 192L335.5 194L337 196L338 197.5L340 200L341 202L341.5 204L342 205.5L342.5 208L343 210L343 212L343 214L343.5 216L343.5 218L344 220L344.5 222L345 224L345.5 226L346 228L346 229.5L346 232L345 234L342 236L341.5 238L341.5 240L342.5 242L343 244L344 246L345 248L345.5 250L347 252L348 254L348.5 256L349 258L349.5 260L349.5 262L349.5 264L348.5 266L348 267.5L346.5 270L345 272L342.5 274L340 275.5L338 276.5L336 277L334 278L332 278.5L330 279L328 279.5L326 280.5L324 281L322.5 282L320 283.5L318 285L316.5 286L314.5 288L312.5 290L311 292L309.5 294L308 296L307 298L306 300L304.5 302L303 304L302 305L300 307.5L298 309L296.5 310L294 311.5L292 312.5L290 313.5L288 314.5L286 315.5L284.5 316L282 317L280.5 318L278 320L277 322L276.5 324L275.5 326L275 328L274 330L273 332L272 333.5L270 336L268 337.5L266 338.5L264 339.5L262 340.5L260 341L258 341.5L256 342L254 342.5L252 343L250 343.5L248.5 344L246 345.5L244 347.5L242.5 350L242 352L241.5 354L241.5 356L241.5 358L241.5 360L241.5 362L241.5 364L242 365.5L242.5 368L242.5 370L242.5 372L242.5 374L242.5 376L242 378L241.5 380L240.5 382L238.5 384L236 385.5L234 386.5L232 386.5L230 386L228 385L227 384L225 382L223 380L222 378L221 376L220 374L219 372L218.5 370L218 368.5L217.5 366L217 364L217.5 362L218 360.5L218.5 358L219 356L219 354L219.5 352L220.5 350L221.5 348L223 346L224 345L225 344L228 342L230 341L231 340L234 338L236 337L237.5 336L240 334.5L242 333L244 331L245 330L248 328L250 326.5L252 325L254 324L256 323L257.5 322L260 321L262 320L264 319L266 318L268 317L269.5 316L272 314L273 312L273.5 310L274 308L274.5 306L275 304L275 302L275.5 300L275 298L275 296L274 294L273 292L272 290.5L271 288L270 286L269.5 284L269 282L268.5 280L267.5 278L267 276L266 274.5L265 272L264 270.5L263 268L262 266L261 264L260 262.5L258 260L257 258L256 256.5L254.5 254L253 252L252 250.5L250.5 248L249.5 246L248 244L246.5 242L245 240L244.5 238L243.5 236L242.5 234L240.5 232L239 230L238 229L236 226.5L234 224.5L232 223L230 220.5L228 218L226 216.5L224 214.5L222 212.5L220 210.5L218.5 208L216.5 206L214 204L212 202.5L210 200.5L208 199L206 198.5L204 198L202 197.5L200 197L198.5 196L196 194.5L194 193L192 192L190 191.5L188 191L186 191L184 190.5L182 190.5L180 190.5L180 188L180 186L182 185.5L184 186L186 186L188 186.5L190 187L192 188L194 188.5L196 190L198 191L200 192.5L202 193.5L204 194L206 195L208 195.5L210 197L211 198L212 199L214 201L216 202.5L218 204L220 204.5L222 204.5L221 202L219.5 200L218 198.5L217 196L220 196L222 196.5L224 197L226 197L228 197.5L230 198L232 198.5L234 199L236 200L238 201L240 201.5L242 202.5L244 203.5L246 205L247.5 206L248 208L247.5 210L247 212L247.5 214L249.5 216L252 217L254 217.5L255.5 218L258 219.5L260 221.5L262 223L264 224L266 225.5L268 226.5L270 228L272 229.5L274 232L274.5 234L274.5 236L274 237.5L272.5 240L270.5 242L270 244L271 246L273.5 248L275.5 250L277 252L277.5 254L277 256L277 258L277.5 260L279 262L282 264L284 265.5L286 267.5L288 269.5L290 272L291 274L292 276L292.5 278L293.5 280L296 280.5L298 278.5L300 277.5L302 277L304 276.5L306 275.5L308 274.5L310 273.5L312 273L314 272.5L316 272.5L317.5 272L320 270.5L322 269.5L324 268.5L326 267.5L328 266L330 264.5L332 263L333 262L334.5 260L335 258L334.5 256L334 254L333.5 252L334 250L334 248L333.5 246L333 244L332.5 242L332 240L332 238L331.5 236L331.5 234L331.5 232L332 230.5L332.5 228L332 226.5L334 226.5L336 227L338 227.5L340 226L340 224L339.5 222L339 220L338 218L337.5 216L337 214L336.5 212L336.5 210L336 208L335.5 206L335 204L334.5 202L333.5 200L332.5 198L331.5 196L330.5 194L329.5 192L330 190L332 188L334 186.5L336 184.5L338 182L338.5 180L339 178L339 176L339 174L338.5 172L338.5 170L339 168L339 166L339.5 164L340.5 162L341.5 160L342 158.5L343.5 156L344.5 154L345.5 152L346 150.5L347.5 148L348.5 146L349.5 144L351 142L352 141L354 138.5L356 136.5L358 134L360 132L362 130L364 128L365.5 126L367 124L368 122L368.5 120L368.5 118L368.5 116L368.5 114L368.5 112L368 110L368 108L368 106L368 104L368 102L368.5 100L368.5 98L369 96L369.5 94L370 92L370.5 90L370.5 88L371.5 86L372 85L373.5 82L374.5 80L375 78L375.5 76ZM223 206L225 206L223 206ZM550 143.5L552 143L554 143.5L556 144.5L557.5 146L558.5 148L559.5 150L560.5 152L561 154L561 156L561 158L560 160L558.5 162L556 163L554 163L552 162L550 160.5L548.5 158L547.5 156L547 154L546.5 152L546 150L546 148L547 146L548 144.5L550 143.5ZM182 225L183 226L186 228L188 229.5L190 231.5L192 233.5L194 235L195 236L197.5 238L199.5 240L201.5 242L203.5 244L206 246L207.5 248L208.5 250L209.5 252L210.5 254L208 255.5L206 255L204 254L202 253L200 251.5L198 250.5L196 249.5L194 248L192 246.5L190 245L188 243L186.5 242L184.5 240L183 238L180 236L180 234L182 234L184 236L185.5 238L187 240L189.5 242L192 244L194 245.5L195.5 246L198 247L199.5 246L198.5 244L196.5 242L194.5 240L192.5 238L190 236.5L188 235L186.5 234L184 232L182 230L180 229L180 226L180 224.5L182 225ZM210 437.5L212 437.5L214 437L216 437.5L218 437.5L220 438L222 438.5L224 439L226 440L228 442L228 444L227.5 446L227 448L227 450L226.5 452L226.5 454L226.5 456L226.5 458L226.5 460L226 462L225.5 464L224 466L222.5 468L220 470L218 471.5L216 473L214 475L212.5 476L211 478L210 479.5L209 482L208 484L207.5 486L207.5 488L207.5 490L207.5 492L207 494L206.5 496L205.5 498L204 499.5L202.5 500L200 500.5L198 501L196 502L194 503.5L192 504.5L190 506L188 507L186 507.5L184 508L182 508L180 508.5L180 506L180 504L180 502L180 500L180 498L180 496L180 494L180 492L180 490L182 488L184 487L185 486L187 484L186.5 482L185 480L182 478.5L180 477.5L180 476L180 474L180 472L180 470L180 468L180 466L180 464L180 462L180 460L180 458L180 456L182 455L184 455L186 454.5L188 454L190 453L191.5 452L193.5 450L195 448L196 447L198 445L199 444L201.5 442L204 440.5L206 439L208 438.5L210 437.5ZM212.5 444L211 446L211 448L211 450L211 452L211.5 454L211.5 456L212.5 458L214 459.5L216 460.5L218 460.5L219.5 460L221.5 458L222 456.5L222.5 454L223 452L223.5 450L223.5 448L223.5 446L222.5 444L220 443L218 442.5L216 442.5L214 442.5L212.5 444ZM344 474L346 472.5L348 472L350 472L352 472.5L354 473.5L356 475L357 476L358 478L358.5 480L358.5 482L358 484L357 486L354 488L352 488L350 487.5L348 487L346.5 486L344 484L343 482L342 480L342 478.5L342.5 476L343.5 474ZM346 478L346 480L347.5 482L350 483L352 482.5L353 480L352.5 478L350 476.5L348 476.5L346 478Z"/>
<path fill="#ff6e04" d="M372 76L374 76L375.5 76L375 78L374.5 80L374 81.5L372.5 84L371.5 86L370.5 88L370.5 90L370 92L369.5 94L369 96L368.5 98L368.5 100L368 102L368 104L368 106L368 108L368 110L368.5 112L368.5 114L368.5 116L368.5 118L368.5 120L368 121.5L367 124L366 125.5L364 128L362 130L360 132L358 134L356.5 136L354.5 138L352.5 140L351 142L350 143.5L348.5 146L347.5 148L346.5 150L345.5 152L344.5 154L343.5 156L342 158L341.5 160L340.5 162L339.5 164L339 166L339 168L338.5 170L338.5 172L339 174L339 176L339 178L338.5 180L338 182L336.5 184L334.5 186L332 188L330 190L329.5 192L330.5 194L331.5 196L332.5 198L333.5 200L334.5 202L335 204L335.5 206L336 207.5L336.5 210L336.5 212L337 214L337.5 216L338 217.5L339 220L339.5 222L340 224L340 226L338 227.5L336 227L334 226.5L332.5 226L332.5 228L332 230L331.5 232L331.5 234L331.5 236L332 238L332 240L332.5 242L333 244L333.5 246L334 248L334 250L333.5 252L334 254L334.5 256L335 258L334.5 260L333 262L332 263L330 264.5L328 266L326 267.5L324 268.5L322 269.5L320 270.5L318 272L316 272.5L314 272.5L312 273L310 273.5L308 274.5L306 275.5L304 276.5L302 277L300 277.5L298.5 278L296.5 280L294 281L292.5 278L292 276L291 274L290 272L288.5 270L286.5 268L284.5 266L282 264L280 262.5L278 260.5L277 258L277 256L277.5 254L277 252L276 250.5L274 248.5L272 246.5L270 244L270.5 242L272 240.5L274 238L274.5 236L274.5 234L274 232.5L272.5 230L270 228L268 226.5L266 225.5L264 224L262 223L260 221.5L258.5 220L256 218L254 217.5L252 217L250 216L248 214.5L247 212L247.5 210L248 208L247.5 206L246 205L244 203.5L242 202.5L240 201.5L238 201L236 200L234 199L232 198.5L230 198L228 197.5L226 197L224 197L222 196.5L220 196L218 195.5L217.5 198L219.5 200L221 202L222 204L220 204.5L218 204L216 202.5L214 201L212.5 200L211 198L210 197L208.5 196L206 195L204 194L202 193.5L200 192.5L198 191L196.5 190L194 188.5L192.5 188L190 187L188 186.5L186.5 186L184 186L182 185.5L180 185.5L180 184L182 183L184 183L186 183L188 183.5L189.5 184L192 185L194 185.5L195.5 186L198 187L199.5 188L202 189.5L204 191L206 191L208 191.5L210 191L212 191L214 191.5L216 191.5L218 191.5L219.5 192L222 193L224 193.5L226 194L228 194L230 194.5L232 194.5L234 195L236 195.5L238 196.5L240 197L242 197L244 196.5L246 196L248 196.5L250 196.5L252 196.5L254 195.5L256 195L258 195L260 196L262 197.5L264 199.5L266 201.5L268 203.5L270 204.5L272 206L274 207.5L275.5 210L276 212L274.5 214L272 215L270 216L270 218L272 219L273.5 220L276 221L278 221.5L280 222.5L282 223.5L284 225L285.5 226L288 227.5L290 229L292 230L294 231.5L296 234L297 236L297.5 238L298.5 240L300 242L301 244L302 245.5L304 248L306 249.5L308 250L310 249.5L311 248L312 246.5L312.5 244L311.5 242L310.5 240L310 238L310 236L310.5 234L311.5 232L312 230.5L312.5 228L311.5 226L310.5 224L308.5 222L306.5 220L304 218.5L302 217L300 216L298 215L296.5 214L294 212.5L292 211.5L290 210.5L288 208.5L286.5 206L287 204L287.5 202L286 200.5L284 199.5L282 198L284 197L286 197.5L288 197L290 195.5L292 194.5L294 194L296 194.5L298 195L300 197.5L301.5 200L303.5 202L305.5 204L308 206L310 207L312 208L314 208.5L316 209.5L318 211L319.5 212L322 213.5L324 214.5L326 214.5L328 215L330 214.5L330 212L330 210L329.5 208L329.5 206L329 204L328 202L327.5 200L326.5 198L326 196L325.5 194L324.5 192L325.5 190L328 188L330 186.5L332 185L333 184L334 182.5L334.5 180L335 178L335 176L334.5 174L334.5 172L334.5 170L334.5 168L335 166L335.5 164L336.5 162L337 160L338 158.5L339.5 156L341 154L342 152L343 150L343.5 148L345 146L346 144L347 142L348 140.5L350 138.5L352 136L354 134L355.5 132L357.5 130L359 128L361 126L362 124.5L363.5 122L364.5 120L365 118L365 116L365 114L365 112L365 110L365.5 108L365 106L365 104L365 102L365 100L365.5 98L366 96L366.5 94L366.5 92L367 90L367 88L367.5 86L368 84L369 82L370 80.5L371.5 78L371.5 76ZM182 230L184 232L186 233.5L188 235L190 236.5L192 237.5L194 239.5L196 241.5L198 243.5L199.5 246L198 247L196 246.5L194 245.5L192 244L190 242.5L188 241L186 238.5L184 236L182 234L180 233.5L180 230L182 230ZM214 442.5L216 442.5L218 442.5L220 443L222 443.5L223.5 446L223.5 448L223.5 450L223 452L222.5 454L222 456L221.5 458L220 459.5L218 460.5L216 460.5L214 459.5L212.5 458L212 456.5L211.5 454L211 452L211 450L211 448L211 446L212 444.5L214 442.5ZM181 478L184 479.5L186 481L187 484L186 485L184 487L182.5 488L180 489L180 486L180 484L180 482L180 480L180 478ZM348 476.5L350 476.5L352 477.5L353 480L352.5 482L350 483L348 482.5L346 480L346 478L348 476.5Z"/>
<path fill="#ff690d" d="M366 76L368 76L370 76L371.5 76L371.5 78L370.5 80L369 82L368 83.5L367.5 86L367 88L367 90L366.5 92L366.5 94L366 96L365.5 98L365 100L365 102L365 104L365 106L365.5 108L365 110L365 112L365 114L365 116L365 118L364.5 120L363.5 122L362.5 124L361 126L360 127L358 129.5L356 131.5L354 134L352 136L350.5 138L348.5 140L347 142L346 144L345 146L344 147.5L343 150L342 152L341 154L340 155.5L338.5 158L337 160L336.5 162L335.5 164L335 166L334.5 168L334.5 170L334.5 172L334.5 174L335 176L335 178L334.5 180L334 182L333 184L332 185L331 186L328 188L326 189.5L324.5 192L325.5 194L326 195.5L326.5 198L327.5 200L328 201.5L329 204L329.5 206L329.5 208L330 210L330 211.5L330 214L328 215L326 214.5L324 214.5L322 213.5L320 212.5L318 211L316.5 210L314 208.5L312 208L310 207L308 206L306 204.5L304 202.5L302 200.5L300 198L299 196L296 194.5L294 194L292 194.5L290 195.5L288 197L286 197.5L284 197L282 198L284 199.5L286 200.5L287.5 202L287 204L286.5 206L287 208L289.5 210L292 211.5L294 212.5L296 213.5L298 215L300 216L302 217L303.5 218L306 219.5L308 221.5L310 223.5L311.5 226L312.5 228L312 230L311.5 232L310.5 234L310 236L310 238L310.5 240L311.5 242L312.5 244L312 246L311 248L310 249.5L308 250L306 249.5L304 248L302.5 246L301 244L300 242.5L298.5 240L297.5 238L297 236L296 234L294.5 232L292 230L290 229L288.5 228L286 226.5L284 225L282.5 224L280 222.5L278 221.5L276 221L274 220L272 219L270 218L269 216L272 215L274 214.5L276 212L275.5 210L274.5 208L272.5 206L270 204.5L268 203.5L266.5 202L264.5 200L262.5 198L260 196L258 195L256 195L254 195.5L252.5 196L250 196.5L248 196.5L246 196L244 196.5L242 197L240 197L238 196.5L236.5 196L234 195L232 194.5L230 194.5L228 194L226 194L224 193.5L222 193L220 192L218 191.5L216 191.5L214 191.5L212 191L210 191L208 191.5L206 191L204 191L202.5 190L200 188.5L198 187L196 186.5L194 185.5L192 185L190 184L188 183.5L186 183L184 183L182 183L180 183L180 180L182 178.5L184 178.5L186 178.5L188 179L190 180L192 180.5L194 181L196 181.5L198 182.5L200 183L202 184L204 184.5L206 185L208 185.5L210 185.5L212 186L214 186.5L216 186.5L218 187L220 187.5L222 188L224 188.5L226 189L228 189.5L230 189.5L232 189.5L234 189.5L236 190L238 190.5L240 191L242 190.5L244 190L246 189.5L248 190L250 190L252 190L254 189.5L256 189.5L258 189.5L260 190L262 190.5L264 190.5L266 191L268 191L270 190.5L272 190.5L274 191L276 191L278 190.5L280 190L282 189.5L284 189.5L286 190L288 190L290 189.5L292 189L294 189L296 189L298 189.5L300 190.5L301.5 192L303.5 194L305 196L306 197.5L308 199.5L310 201L312 201.5L314 202L316 203L318 204L320 205L320 202L319.5 200L318.5 198L318.5 196L318.5 194L318.5 192L318.5 190L319.5 188L322 186L324 185L326 184L328 182.5L328.5 180L328.5 178L328.5 176L328.5 174L328.5 172L328.5 170L328.5 168L329 166L329.5 164L330 162.5L330.5 160L332 158L333 156L335 154L336 152.5L337 150L338 148L338.5 146L340 144L341 142L342 140L343 138L344.5 136L346 134.5L348 132.5L350 130.5L352 128L354 126L355.5 124L356.5 122L358 120L358.5 118L359 116L359.5 114L360 112L360 110L360 108L360.5 106L360 104L360 102L360 100L360 98L360 96L360.5 94L361 92L361.5 90L361.5 88L361.5 86L361.5 84L362 82L362.5 80L364 78L365.5 76ZM288.5 220L290 221.5L292 222L292.5 220L290 219.5L288.5 220Z"/>
<path fill="#ff6413" d="M182 76L184 76L186 76L188 76L190 76L192 76L194 76L196 76L198 76L200 76L202 76L204 76L206 76L208 76L210 76L212 76L214 76L216 76L218 76L220 76L222 76L224 76L226 76L228 76L230 76L232 76L234 76L236 76L238 76L240 76L242 76L244 76L246 76L248 76L250 76L252 76L254 76L256 76L258 76L260 76L262 76L264 76L266 76L268 76L270 76L272 76L274 76L276 76L278 76L280 76L282 76L284 76L286 76L288 76L290 76L292 76L294 76L296 76L298 76L300 76L302 76L304 76L306 76L308 76L310 76L312 76L314 76L316 76L318 76L320 76L322 76L324 76L326 76L328 76L330 76L332 76L334 76L336 76L338 76L340 76L342 76L344 76L346 76L348 76L350 76L352 76L354 76L356 76L358 76L360 76L362 76L364 76L364 78L362.5 80L362 82L361.5 84L361.5 86L361.5 88L361.5 90L361 92L360.5 94L360 96L360 98L360 100L360 102L360 104L360.5 106L360 108L360 110L360 112L359.5 114L359 116L358.5 118L358 120L356.5 122L356 123L354 126L352 128L350.5 130L348.5 132L346.5 134L344.5 136L343 138L342 140L341 142L340 144L338.5 146L338 148L337 150L336.5 152L335 154L333 156L332 158L330.5 160L330 162L329.5 164L329 166L328.5 168L328.5 170L328.5 172L328.5 174L328.5 176L328.5 178L328.5 180L328 182L326.5 184L324 185L322 186L320 187.5L318.5 190L318.5 192L318.5 194L318.5 196L318.5 198L319.5 200L320 201.5L320.5 204L318 204L316 203L314 202L312 201.5L310 201L308.5 200L306.5 198L305 196L304 195L302 192L300 190.5L298.5 190L296 189L294 189L292 189L290 189.5L288 190L286 190L284 189.5L282 189.5L280 190L278 190.5L276 191L274 191L272 190.5L270 190.5L268 191L266 191L264 190.5L262 190.5L260 190L258 189.5L256 189.5L254 189.5L252 190L250 190L248 190L246 189.5L244.5 190L242 190.5L240 191L238 190.5L236 190L234 189.5L232 189.5L230 189.5L228 189.5L226 189L224 188.5L222 188L220 187.5L218 187L216 186.5L214 186.5L212.5 186L210 185.5L208 185.5L206 185L204 184.5L202 184L200 183L198 182.5L196 181.5L194 181L192 180.5L190 180L188 179L186 178.5L184 178.5L182 178.5L180 178.5L180 176L180 174L180 172L180 170L180 168L180 166L180 164L180 162L180 160L180 158L180 156L180 154L180 152L180 150L180 148L180 146L180 144L180 142L180 140L180 138L180 136L180 134L180 132L180 130L180 128L180 126L180 124L180 122L180 120L180 118L180 116L180 114L180 112L180 110L180 108L180 106L180 104L180 102L180 100L180 98L180 96L180 94L180 92L180 90L180 88L180 86L180 84L180 82L180 80L180 78L180 76L182 76ZM290 219.5L292 219.5L293 222L290.5 222L288.5 220L290 219.5Z"/>
</g>
<g fill="none" stroke="#000" stroke-width="1" stroke-linejoin="round" stroke-linecap="butt" shape-rendering="crispEdges">
<path d="M397.0 104.1 C397.8 104.0 399.9 103.4 402.0 103.4 C404.1 103.4 407.5 103.6 409.5 104.1 C411.5 104.6 412.1 105.3 414.0 106.4 C415.9 107.5 418.9 110.6 420.9 110.9 C422.9 111.2 424.9 109.0 426.0 108.0 C427.1 107.0 427.2 107.0 427.7 105.2 C428.2 103.4 428.6 99.5 429.0 97.0 C429.4 94.5 429.6 92.7 430.0 90.5 C430.4 88.3 431.0 86.3 431.6 84.0 C432.2 81.7 433.1 78.0 433.4 76.8"/>
<path d="M449.3 76.8 C449.0 77.7 447.9 80.5 447.5 82.0 C447.1 83.5 447.3 83.9 447.0 85.9 C446.7 87.9 445.8 92.1 445.9 93.9 C446.0 95.7 446.7 95.9 447.5 96.5 C448.3 97.1 450.0 97.2 450.5 97.3"/>
<path d="M393.0 119.0 C393.0 119.8 393.4 121.5 393.1 124.1 C392.8 126.7 392.0 131.6 391.3 134.4 C390.6 137.2 389.9 139.0 389.1 141.0 C388.3 143.0 387.1 144.5 386.5 146.4 C385.9 148.3 385.4 151.2 385.6 152.7 C385.9 154.2 386.9 154.6 388.0 155.5 C389.1 156.4 390.4 157.1 392.0 158.0 C393.6 158.9 396.4 160.7 397.3 161.2"/>
<path d="M403.7 176.1 C402.8 176.8 399.8 178.9 398.4 180.3 C397.0 181.7 395.6 182.8 395.2 184.6 C394.8 186.4 395.3 188.9 396.2 191.0 C397.1 193.1 398.9 195.4 400.5 197.3 C402.1 199.2 404.9 201.7 405.8 202.6"/>
<path d="M406.8 203.7 C407.5 205.5 410.0 210.8 411.1 214.3 C412.2 217.8 413.0 220.7 413.2 224.9 C413.4 229.2 412.9 235.6 412.2 239.8 C411.5 244.1 410.4 246.7 409.0 250.4 C407.6 254.1 405.3 259.3 403.7 262.1 C402.1 264.9 400.8 266.3 399.4 267.4 C398.0 268.5 396.5 269.0 395.2 268.5 C393.9 268.0 392.0 265.6 391.6 264.2 C391.2 262.8 391.9 261.9 393.0 260.0 C394.1 258.1 396.8 255.2 398.4 252.5 C400.0 249.8 401.6 246.7 402.6 244.0 C403.6 241.3 404.3 238.9 404.3 236.6 C404.3 234.3 403.8 232.1 402.6 230.2 C401.4 228.2 398.7 226.7 397.3 224.9 C395.9 223.1 394.3 221.2 394.5 219.6 C394.7 218.0 397.8 216.1 398.4 215.4"/>
<path d="M406.8 203.2 L411.5 199.0"/>
<path d="M418.4 183.0 C418.4 180.1 417.6 169.8 418.5 165.5 C419.4 161.2 421.2 160.2 423.8 157.0 C426.4 153.8 431.7 149.2 434.4 146.4 C437.1 143.6 438.1 142.9 439.8 140.0 C441.5 137.1 443.4 132.6 444.8 129.1 C446.2 125.6 446.1 123.1 448.2 118.9 C450.3 114.7 455.0 108.6 457.3 104.1 C459.6 99.6 459.7 94.8 462.0 92.0 C464.3 89.2 467.9 87.8 470.9 87.0 C473.9 86.2 477.4 87.9 480.0 87.0 C482.6 86.1 485.0 83.1 486.8 81.4 C488.6 79.7 490.1 77.6 490.7 76.8"/>
<path d="M371.0 177.6 C371.7 178.1 372.9 178.4 375.0 180.3 C377.1 182.2 381.2 186.4 383.5 188.8 C385.8 191.2 387.8 193.2 389.0 195.0 C390.2 196.8 390.9 196.9 391.0 199.4 C391.1 201.9 390.7 207.4 389.9 210.0 C389.1 212.6 387.4 213.6 386.0 215.0 C384.6 216.4 382.3 216.5 381.4 218.5 C380.4 220.5 380.0 224.9 380.3 227.0 C380.6 229.1 381.8 229.6 383.0 231.0 C384.2 232.4 386.4 233.3 387.7 235.5 C389.0 237.7 390.9 242.0 391.0 244.0 C391.1 246.0 389.2 246.6 388.0 247.5 C386.8 248.4 385.7 248.6 383.5 249.3 C381.3 250.0 376.7 250.8 375.0 251.5 C373.3 252.2 373.3 251.4 373.4 253.2 C373.5 255.0 374.4 259.3 375.7 262.3 C377.0 265.3 379.7 268.0 381.4 271.4 C383.1 274.8 384.6 278.5 385.9 282.7 C387.2 286.9 389.3 293.3 389.3 296.4 C389.3 299.4 386.9 299.9 386.0 301.0 C385.1 302.1 385.1 302.1 383.6 303.2 C382.1 304.3 378.4 306.0 376.8 307.7 C375.2 309.4 374.4 312.6 373.9 313.6"/>
<path d="M380.5 313.5 C380.9 313.0 381.5 311.4 383.0 310.3 C384.5 309.2 387.1 307.8 389.4 306.7 C391.7 305.6 395.7 304.1 397.0 303.6"/>
<path d="M409.8 289.5 C410.2 289.2 411.6 288.2 412.5 288.0 C413.4 287.8 414.8 287.7 415.5 288.4 C416.2 289.1 416.6 290.7 417.0 292.0 C417.4 293.3 417.4 293.4 417.7 296.4 C418.0 299.4 418.3 306.2 418.9 310.0 C419.4 313.8 419.8 316.7 421.0 319.0 C422.2 321.3 424.3 322.5 426.0 324.0 C427.7 325.5 429.6 326.0 431.4 328.2 C433.2 330.4 435.9 334.3 437.0 337.3 C438.1 340.3 437.6 344.3 438.2 346.4 C438.8 348.5 439.6 348.3 440.5 350.0 C441.4 351.7 442.4 355.1 443.9 356.8 C445.4 358.5 447.9 359.9 449.5 360.2 C451.1 360.5 452.4 359.2 453.5 358.5 C454.6 357.8 455.8 355.6 456.4 355.7 C456.9 355.8 457.0 357.9 456.8 359.0 C456.6 360.1 455.5 361.9 455.2 362.5"/>
<path d="M442.7 378.4 C441.6 379.0 438.5 380.9 435.9 381.8 C433.2 382.8 429.4 384.3 426.8 384.1 C424.2 383.9 421.6 382.2 420.0 380.7 C418.4 379.2 417.8 376.3 417.0 375.0 C416.2 373.7 417.3 374.0 415.5 372.7 C413.7 371.4 409.6 369.3 406.4 367.0 C403.2 364.7 398.3 361.9 396.1 359.1 C393.9 356.3 395.2 353.0 393.2 350.0 C391.2 347.0 386.1 344.6 384.0 341.0 C381.9 337.4 381.2 330.5 380.7 328.4"/>
<path d="M429.0 307.7 C428.8 305.8 427.2 299.8 428.0 296.4 C428.8 293.0 430.8 289.9 433.6 287.3 C436.4 284.7 441.4 282.3 445.0 280.5 C448.6 278.7 452.2 276.8 455.2 276.6 C458.2 276.4 460.9 277.2 463.2 279.3 C465.5 281.4 466.8 285.9 468.9 289.5 C471.0 293.1 474.4 297.1 475.7 300.9 C477.0 304.7 477.4 308.5 476.8 312.3 C476.2 316.1 474.6 321.0 472.3 323.6 C470.0 326.2 466.6 327.5 463.2 327.7 C459.8 327.9 455.2 325.8 451.8 324.8 C448.4 323.8 444.2 322.3 442.7 321.8"/>
<path d="M559.5 76.8 C558.9 77.6 558.0 79.9 556.1 81.4 C554.2 82.9 551.4 84.8 548.2 85.9 C545.0 87.0 540.6 88.0 536.8 88.2 C533.0 88.4 529.1 87.8 525.5 87.0 C521.9 86.2 518.2 83.6 515.2 83.6 C512.2 83.6 509.0 86.0 507.3 87.0 C505.6 88.0 505.4 88.9 505.0 89.3"/>
<path d="M489.0 99.5 C488.1 100.8 484.5 104.5 483.4 107.5 C482.3 110.5 481.9 114.5 482.3 117.7 C482.7 120.9 484.2 124.3 485.7 126.8 C487.2 129.3 488.9 131.2 491.4 132.5 C493.9 133.8 497.5 134.6 500.5 134.8 C503.5 135.0 506.9 133.0 509.5 133.6 C512.1 134.2 514.9 135.5 516.4 138.2 C517.9 140.8 518.4 145.7 518.6 149.5 C518.8 153.3 517.5 156.0 517.5 160.9 C517.5 165.8 517.9 173.8 518.6 179.1 C519.4 184.4 521.2 188.1 522.0 192.7 C522.8 197.2 523.4 201.8 523.2 206.4 C523.0 211.0 522.0 217.1 521.0 220.0 C520.0 222.9 518.3 221.1 517.5 223.6 C516.7 226.1 516.6 231.6 516.4 235.0 C516.2 238.4 517.0 241.6 516.4 244.1 C515.8 246.6 514.9 248.5 513.0 249.8 C511.1 251.1 507.5 250.7 505.0 252.0 C502.5 253.3 500.1 255.8 498.2 257.7 C496.3 259.6 495.3 262.1 493.6 263.4 C491.9 264.7 489.1 264.8 488.0 265.7 C486.9 266.6 487.0 268.0 487.0 269.1 C487.0 270.2 486.9 271.2 488.0 272.5 C489.1 273.8 490.8 275.1 493.6 277.0 C496.4 278.9 501.6 281.8 505.0 283.9 C508.4 286.0 511.5 287.1 514.1 289.5 C516.8 291.9 518.6 295.2 520.9 298.6 C523.2 302.0 525.8 306.2 527.7 310.0 C529.6 313.8 531.5 319.5 532.3 321.4"/>
<path d="M530.0 346.4 C529.6 347.0 528.5 348.3 527.7 350.0 C527.0 351.7 526.6 354.2 525.5 356.8 C524.4 359.4 523.9 363.6 520.9 365.9 C517.9 368.2 512.2 369.1 507.3 370.5 C502.4 371.9 494.6 373.2 491.4 374.3 C488.2 375.4 489.1 375.7 488.2 377.3 C487.3 378.9 486.5 381.1 485.9 384.1 C485.3 387.1 485.6 392.1 484.8 395.5 C484.1 398.9 483.5 402.1 481.4 404.5 C479.3 406.9 474.9 408.3 472.3 410.2 C469.7 412.1 466.6 414.9 465.5 415.9"/>
<path d="M447.3 410.2 C445.4 410.0 439.7 409.4 435.9 409.1 C432.1 408.8 428.3 408.2 424.5 408.6 C420.7 409.0 415.1 410.9 413.2 411.4"/>
<path d="M393.2 412.5 C392.6 413.2 390.6 415.9 389.8 417.0 C389.0 418.1 389.5 418.4 388.2 419.3 C386.9 420.2 384.8 421.8 381.8 422.7 C378.8 423.6 372.3 424.5 370.0 425.0 C367.7 425.5 369.6 425.0 368.2 425.7 C366.8 426.4 362.7 427.4 361.4 429.1 C360.1 430.8 361.3 433.6 360.2 435.9 C359.1 438.2 357.7 441.4 354.5 442.7 C351.3 444.0 345.1 443.1 340.9 443.9 C336.7 444.7 332.9 445.6 329.5 447.3 C326.1 449.0 323.5 451.8 320.5 454.1 C317.5 456.4 314.8 459.5 311.4 461.0 C308.0 462.5 302.6 462.6 300.0 463.2 C297.4 463.8 298.5 464.0 295.5 464.5 C292.5 465.0 285.6 465.2 281.8 466.4 C278.0 467.5 275.4 469.2 272.7 471.4 C270.0 473.5 268.0 477.3 265.9 479.3 C263.8 481.3 262.1 483.6 260.2 483.2 C258.3 482.8 255.9 479.7 254.5 477.0 C253.1 474.3 251.8 469.8 251.8 466.8 C251.8 463.8 254.2 461.4 254.5 458.9 C254.8 456.4 253.0 454.1 253.4 452.0 C253.8 449.9 254.7 448.0 256.8 446.4 C258.9 444.8 262.5 442.7 265.9 442.3 C269.3 441.9 273.5 443.4 277.3 444.1 C281.1 444.8 284.8 446.2 288.6 446.4 C292.4 446.6 297.5 446.3 300.0 445.2 C302.5 444.1 302.8 440.4 303.4 439.5"/>
<path d="M295.5 420.9 C294.7 420.2 292.1 417.9 290.9 416.8 C289.7 415.7 288.8 415.5 288.4 414.1 C288.0 412.7 287.1 409.9 288.4 408.4 C289.7 406.9 293.2 405.9 296.4 405.0 C299.6 404.1 303.9 403.4 307.7 402.7 C311.5 401.9 316.8 402.0 319.1 400.5 C321.4 399.0 321.6 396.3 321.4 393.6 C321.2 390.9 318.6 387.5 318.0 384.5 C317.4 381.5 316.7 377.8 318.0 375.5 C319.3 373.2 322.7 372.0 325.9 370.9 C329.1 369.8 334.3 369.7 337.3 368.6 C340.3 367.5 343.0 367.1 344.1 364.1 C345.2 361.1 343.7 353.7 344.1 350.5 C344.5 347.3 344.7 345.6 346.4 344.8 C348.1 344.0 353.1 345.4 354.5 345.5"/>
<path d="M370.5 334.1 L373.9 326.1"/>
<path d="M572.7 110.5 C571.3 111.3 567.4 113.7 564.1 115.5 C560.8 117.3 556.9 119.6 552.7 121.1 C548.5 122.6 542.5 123.0 539.1 124.5 C535.7 126.0 534.2 127.2 532.3 130.2 C530.4 133.2 528.3 138.0 527.7 142.7 C527.1 147.4 527.8 153.7 528.9 158.6 C530.0 163.5 532.0 168.1 534.5 172.3 C537.0 176.5 540.9 179.8 543.6 183.6 C546.3 187.4 549.0 191.2 550.5 195.0 C552.0 198.8 552.5 202.4 552.7 206.4 C552.9 210.4 551.6 215.8 551.6 219.1 C551.6 222.4 552.5 224.8 552.7 226.0"/>
<path d="M573.0 302.0 C572.5 301.8 570.9 302.2 569.8 300.9 C568.7 299.6 567.0 295.1 566.4 294.0"/>
<path d="M561.0 274.0 C560.8 273.2 560.9 271.6 559.5 269.1 C558.1 266.6 555.0 261.0 552.7 258.9 C550.4 256.8 547.8 256.0 545.9 256.6 C544.0 257.2 541.8 259.5 541.4 262.3 C541.0 265.1 542.9 270.2 543.6 273.6 C544.4 277.0 546.1 279.3 545.9 282.7 C545.7 286.1 543.1 290.3 542.5 294.1 C541.9 297.9 541.5 302.5 542.5 305.5 C543.5 308.5 545.7 311.7 548.2 312.3 C550.7 312.9 554.7 309.8 557.3 308.9 C559.9 307.9 562.3 306.0 564.0 306.6 C565.7 307.2 566.7 309.5 567.5 312.3 C568.3 315.1 567.9 320.6 568.6 323.6 C569.4 326.6 571.4 329.4 572.0 330.5"/>
<path d="M332.2 302.8 C331.2 303.5 327.4 305.3 326.0 306.8 C324.6 308.3 324.7 310.3 324.0 312.0 C323.3 313.7 323.2 315.1 322.0 317.0 C320.8 318.9 318.5 321.1 316.8 323.2 C315.1 325.3 313.6 327.1 311.7 329.4 C309.8 331.7 307.7 333.3 305.5 336.8 C303.3 340.3 300.9 347.1 298.6 350.5 C296.3 353.9 294.8 356.0 291.8 357.3 C288.8 358.6 284.3 358.0 280.5 358.4 C276.7 358.8 272.1 358.4 269.1 359.5 C266.1 360.6 263.2 362.9 262.3 365.2 C261.4 367.5 261.9 370.7 263.4 373.2 C264.9 375.7 268.8 377.9 271.4 380.0 C274.0 382.1 277.8 383.8 279.3 385.7 C280.8 387.6 281.8 389.7 280.5 391.4 C279.2 393.1 274.2 394.4 271.4 395.9 C268.5 397.4 265.5 398.2 263.4 400.5 C261.3 402.8 261.0 407.2 258.9 409.5 C256.8 411.8 254.9 413.0 250.9 414.1 C246.9 415.2 239.6 415.6 235.0 416.4 C230.4 417.1 226.4 417.7 223.6 418.6 C220.8 419.5 219.4 420.9 218.0 422.0 C216.6 423.1 215.5 424.4 215.2 425.5 C214.9 426.6 214.8 427.7 216.0 428.5 C217.2 429.3 219.1 429.8 222.7 430.5 C226.3 431.2 235.0 432.3 237.5 432.7"/>
<path d="M236.4 454.3 C236.6 457.1 237.7 466.3 237.5 471.4 C237.3 476.5 234.8 481.6 235.2 485.0 C235.6 488.4 238.5 489.3 239.8 491.8 C241.1 494.3 243.8 496.8 243.2 499.8 C242.6 502.8 237.0 506.0 236.4 510.0 C235.8 514.0 239.1 519.1 239.8 523.6 C240.6 528.1 240.6 534.1 240.9 537.3 C241.2 540.5 241.5 542.0 241.6 543.0"/>
<path d="M214.0 442.3 C214.6 442.2 215.9 441.6 217.6 441.8 C219.2 442.0 222.8 442.1 223.9 443.6 C225.0 445.1 224.8 448.5 224.4 450.9 C224.0 453.2 222.7 456.0 221.6 457.7 C220.5 459.4 218.3 460.7 217.6 461.3"/>
<path d="M326.1 467.7 C327.4 466.4 330.9 461.1 334.1 459.8 C337.3 458.5 342.1 459.3 345.5 459.8 C348.9 460.3 351.5 462.3 354.5 462.7 C357.5 463.1 360.6 461.4 363.6 462.0 C366.6 462.6 371.2 465.8 372.7 466.6"/>
<path d="M375.0 484.8 C375.0 487.2 374.6 495.5 375.0 499.5 C375.4 503.5 376.7 506.9 377.3 508.8 C377.9 510.7 377.3 509.3 378.4 510.9 C379.5 512.5 382.8 516.4 383.9 518.6 C385.0 520.8 385.0 522.4 385.2 524.0 C385.4 525.6 386.3 526.5 385.0 528.0 C383.7 529.5 380.1 531.4 377.3 533.3 C374.5 535.2 371.3 538.2 368.3 539.4 C365.3 540.6 362.2 541.1 359.1 540.5 C356.1 539.9 352.9 537.8 350.0 535.9 C347.1 534.0 344.3 531.4 342.0 529.1 C339.7 526.8 337.3 523.4 336.2 521.9 C335.1 520.4 335.2 521.5 335.2 520.0 C335.2 518.5 335.6 514.7 336.2 513.2 C336.8 511.7 337.7 512.4 338.6 510.9 C339.5 509.4 340.9 505.9 341.7 504.4 C342.5 502.9 343.1 503.8 343.2 501.8 C343.2 499.9 343.5 495.2 342.0 492.7 C340.5 490.2 337.1 488.4 334.1 487.0 C331.1 485.6 325.6 484.6 323.9 484.1"/>
<path d="M461.8 598.6 C461.6 596.3 461.4 589.2 460.7 585.0 C459.9 580.8 457.9 577.0 457.3 573.6 C456.7 570.2 456.7 567.1 457.3 564.5 C457.9 561.9 460.3 560.2 460.7 557.7 C461.1 555.2 459.7 551.1 459.5 549.8"/>
<path d="M443.6 533.9 C443.0 533.1 441.7 531.8 440.2 529.3 C438.7 526.8 435.2 522.5 434.5 519.1 C433.8 515.7 434.8 511.4 435.7 508.9 C436.6 506.4 438.3 504.3 440.2 504.3 C442.1 504.3 444.7 509.1 447.0 508.9 C449.3 508.7 452.9 505.3 453.9 503.2 C454.8 501.1 454.2 498.7 452.7 496.4 C451.2 494.1 447.5 491.2 444.8 489.5 C442.1 487.8 437.9 487.0 436.4 485.9 C434.9 484.8 435.8 485.1 435.7 482.7 C435.6 480.3 435.2 475.0 435.7 471.4 C436.2 467.8 438.1 462.6 438.6 460.9"/>
<path d="M422.7 451.8 C421.2 452.9 416.6 456.1 413.6 458.6 C410.6 461.1 406.8 463.6 404.5 466.6 C402.2 469.6 400.9 473.2 400.0 476.8 C399.1 480.4 398.8 484.3 398.9 488.2 C398.9 492.1 399.9 495.1 400.3 500.0 C400.7 504.9 401.9 512.9 401.4 517.5 C400.9 522.1 397.3 524.5 397.5 527.4 C397.7 530.3 400.8 533.7 402.5 535.0 C404.2 536.3 406.4 536.1 408.0 535.0 C409.6 533.9 410.8 529.2 412.4 528.5 C414.0 527.8 416.3 528.9 417.9 530.7 C419.5 532.5 421.4 536.8 421.8 539.5 C422.2 542.2 421.0 545.5 420.0 547.0 C419.0 548.5 417.7 548.9 415.7 548.2 C413.7 547.5 410.4 544.1 408.0 542.8 C405.6 541.5 404.0 540.4 401.4 540.6 C398.8 540.8 395.5 541.9 392.6 543.9 C389.7 545.9 386.8 549.9 383.9 552.6 C381.0 555.3 378.0 557.9 375.1 560.3 C372.2 562.7 369.6 565.3 366.3 566.9 C363.0 568.5 357.2 569.2 355.4 569.7"/>
<path d="M338.4 557.5 C337.1 557.0 332.9 554.3 330.7 554.8 C328.5 555.3 326.5 558.1 325.3 560.3 C324.1 562.5 323.1 565.2 323.5 568.0 C323.9 570.8 325.9 574.1 327.5 576.8 C329.1 579.5 331.7 581.8 332.9 584.4 C334.1 587.0 334.5 589.7 334.5 592.1 C334.5 594.5 333.2 597.6 332.9 598.7"/>
<path d="M438.2 435.2 C438.9 435.8 440.6 437.7 442.7 438.6 C444.8 439.6 448.6 441.1 450.7 440.9 C452.8 440.7 454.8 439.0 455.2 437.5 C455.6 436.0 454.7 433.3 453.0 431.8 C451.3 430.3 446.9 429.9 445.0 428.4 C443.1 426.9 443.5 424.2 441.6 422.7 C439.7 421.2 436.8 420.2 433.6 419.3 C430.4 418.4 426.1 417.2 422.3 417.0 C418.5 416.8 413.5 417.2 410.9 418.2 C408.2 419.1 407.0 421.2 406.4 422.7 C405.8 424.2 405.8 426.0 407.5 427.3 C409.2 428.6 415.1 430.1 416.6 430.7"/>
<path d="M281.4 553.7 C282.5 554.8 285.4 558.6 288.0 560.3 C290.6 561.9 294.2 563.8 296.8 563.6 C299.4 563.4 302.0 561.4 303.3 559.2 C304.6 557.0 303.3 553.3 304.4 550.4 C305.5 547.5 307.6 544.5 309.9 541.7 C312.2 538.9 317.2 535.6 318.2 533.5 C319.2 531.4 318.2 530.9 315.9 529.3 C313.6 527.6 308.7 525.3 304.5 523.6 C300.3 521.9 295.1 520.8 290.9 519.1 C286.7 517.4 282.5 515.5 279.5 513.4 C276.5 511.3 275.0 508.3 272.7 506.6 C270.4 504.9 268.3 503.5 265.9 503.2 C263.4 502.9 260.2 503.7 258.0 505.0 C255.8 506.3 253.6 508.4 252.9 511.0 C252.2 513.6 254.0 517.5 254.0 520.8 C254.0 524.1 252.5 527.6 252.9 530.7 C253.3 533.8 254.4 537.3 256.2 539.5 C258.0 541.7 262.6 543.2 263.9 543.9"/>
<path d="M295.7 589.5 C296.8 589.6 300.4 589.1 302.2 589.9 C304.0 590.7 305.5 592.8 306.6 594.3 C307.7 595.8 308.4 598.0 308.8 598.7"/>
<path d="M545.9 483.0 C547.0 482.4 550.8 479.5 552.7 479.1 C554.6 478.7 556.9 479.5 557.3 480.7 C557.7 481.9 556.3 484.5 555.0 486.4 C553.7 488.3 550.8 490.7 549.3 492.0 C547.8 493.3 546.5 493.9 545.9 494.3"/>
<path d="M463.6 519.5 C463.7 521.0 462.9 525.6 464.1 528.2 C465.3 530.8 468.2 533.4 470.9 535.0 C473.5 536.6 477.5 537.8 480.0 538.0 C482.5 538.2 484.9 537.4 485.7 536.1 C486.4 534.9 485.3 532.2 484.5 530.5 C483.7 528.8 481.7 526.7 481.1 525.9"/>
<path d="M528.9 522.5 C529.1 521.4 529.1 517.2 530.0 515.7 C530.9 514.2 533.0 513.4 534.5 513.4 C536.0 513.4 538.3 515.3 539.1 515.7"/>
<path d="M564.1 504.3 C564.9 503.9 567.1 502.2 568.6 502.0 C570.1 501.8 572.3 502.8 573.0 503.0"/>
<path d="M559.5 447.7 C558.9 448.6 556.5 451.9 556.1 453.4 C555.7 454.9 556.0 455.7 557.3 456.8 C558.6 457.9 561.5 459.1 564.1 460.2 C566.8 461.3 571.7 463.0 573.2 463.6"/>
<path d="M295.9 281.8 L316.8 301.7"/>
<path d="M198.8 399.5 L207.9 399.5"/>
<path d="M445.7 314.0 C446.6 313.9 449.1 313.6 451.0 313.2 C452.9 312.8 456.0 311.9 457.0 311.6"/>
</g>
<g font-family="'Liberation Sans',Arial,sans-serif" font-size="11.3" font-weight="bold" font-style="italic" fill="#000" stroke="#000" stroke-width="0.2" text-anchor="middle">
<text transform="translate(456.1 88.2) rotate(-70)" y="4.0">20</text>
<text transform="translate(499.3 93.9) rotate(-30)" y="4.0">22</text>
<text transform="translate(402.5 164.5) rotate(85)" y="4.0">21</text>
<text transform="translate(415.8 192.4) rotate(-55)" y="4.0">21</text>
<text transform="translate(402.5 208.3) rotate(-50)" y="4.0">21</text>
<text transform="translate(563.0 227.0) rotate(0)" y="4.0">23</text>
<text transform="translate(563.0 283.9) rotate(95)" y="4.0">23</text>
<text transform="translate(404.0 298.6) rotate(-55)" y="4.0">21</text>
<text transform="translate(433.6 319.0) rotate(60)" y="4.0">22</text>
<text transform="translate(451.2 308.3) rotate(-8)" y="4.0">23</text>
<text transform="translate(491.4 332.7) rotate(90)" y="4.0">22</text>
<text transform="translate(534.5 335.0) rotate(-90)" y="4.0">22</text>
<text transform="translate(451.8 371.6) rotate(-60)" y="4.0">21</text>
<text transform="translate(403.4 409.5) rotate(0)" y="4.0">22</text>
<text transform="translate(455.4 417.4) rotate(20)" y="4.0">22</text>
<text transform="translate(429.1 431.8) rotate(5)" y="4.0">22</text>
<text transform="translate(433.0 452.3) rotate(15)" y="4.0">23</text>
<text transform="translate(566.7 413.2) rotate(-90)" y="4.0">22</text>
<text transform="translate(565.9 451.6) rotate(60)" y="4.0">22</text>
<text transform="translate(542.0 488.0) rotate(50)" y="4.0">23</text>
<text transform="translate(474.3 518.6) rotate(15)" y="4.0">23</text>
<text transform="translate(536.8 524.1) rotate(-25)" y="4.0">23</text>
<text transform="translate(568.2 511.0) rotate(0)" y="4.0">23</text>
<text transform="translate(449.3 543.6) rotate(35)" y="4.0">23</text>
<text transform="translate(364.8 342.0) rotate(-35)" y="4.0">22</text>
<text transform="translate(325.5 294.0) rotate(-55)" y="4.0">23</text>
<text transform="translate(243.0 297.0) rotate(20)" y="4.0">23</text>
<text transform="translate(210.0 405.0) rotate(-25)" y="4.0">23</text>
<text transform="translate(240.0 444.1) rotate(-85)" y="4.0">23</text>
<text transform="translate(211.4 452.7) rotate(95)" y="4.0">24</text>
<text transform="translate(299.3 430.0) rotate(100)" y="4.0">22</text>
<text transform="translate(322.3 474.5) rotate(-80)" y="4.0">23</text>
<text transform="translate(377.3 473.4) rotate(90)" y="4.0">23</text>
<text transform="translate(385.9 471.1) rotate(0)" y="4.0">23</text>
<text transform="translate(354.0 484.0) rotate(-70)" y="4.0">24</text>
<text transform="translate(346.1 562.5) rotate(30)" y="4.0">23</text>
<text transform="translate(237.5 550.5) rotate(-35)" y="4.0">23</text>
<text transform="translate(273.3 548.7) rotate(30)" y="4.0">22</text>
<text transform="translate(289.0 593.9) rotate(-25)" y="4.0">22</text>
<text transform="translate(383.8 127.5) rotate(-60)" y="4.0">22</text>
</g>
<g fill="#fff">
<path d="M376.8 317.0 L381.0 317.0 L381.0 328.4 L376.8 328.4Z"/>
<path d="M376.4 110.4 L377.9 107.4 L379.0 111.0 L377.6 113.0Z"/>
<path d="M391.0 112.5 L393.5 114.5 L393.0 116.0 L390.6 114.2Z"/>
<path d="M358.5 177.5 L360.2 175.8 L363.5 177.6 L362.5 179.3 L359.0 179.4Z"/>
<path d="M343.2 269.4 L348.0 269.0 L348.0 270.8 L344.0 271.3Z"/>
<path d="M338.4 293.6 L341.0 293.4 L340.4 295.4 L338.4 295.4Z"/>
<path d="M240.0 290.2 L242.4 290.6 L242.0 292.4 L239.4 292.4Z"/>
<path d="M313.6 281.2 L315.6 281.0 L316.4 283.4 L314.4 283.2Z"/>
<path d="M327.0 285.0 L329.2 286.2 L328.2 287.4 L326.6 286.6Z"/>
<path d="M345.6 283.0 L348.0 283.4 L347.6 285.0 L345.4 284.8Z"/>
<path d="M342.6 304.6 L344.6 305.0 L344.6 307.0 L343.2 306.4Z"/>
<path d="M225.0 310.6 L227.0 311.6 L228.6 314.6 L226.4 313.6Z"/>
<path d="M221.4 329.0 L223.6 328.4 L223.4 330.0 L221.6 330.6Z"/>
<path d="M352.5 246.0 L356.5 246.0 L356.5 252.5 L352.5 252.5Z"/>
<path d="M349.0 243.0 L351.0 244.0 L352.5 247.0 L351.0 247.5Z"/>
</g>
<path fill="none" stroke="#fff" stroke-width="1.6" d="M389.6 77.0 L391.2 85.2 L392.7 95.8 L393.4 101.8"/>
<path fill="none" stroke="#fff" stroke-width="1.4" d="M365.9 240.0 L366.4 246.0 L365.0 250.0"/>
<path fill="none" stroke="#fff" stroke-width="1.4" d="M362.4 300.6 L363.9 306.7 L364.4 312.0"/>
<path fill="none" stroke="#fff" stroke-width="1.2" d="M195.6 407.0 L195.2 412.0"/>
<g fill="#666" stroke="#000" stroke-width="1" stroke-linejoin="round" shape-rendering="crispEdges">
<path d="M79.0 75.0 L389.2 75.0 L389.2 76.0 L390.8 85.2 L392.3 95.8 L393.0 101.8 L396.0 106.4 L398.3 113.9 L400.6 121.5 L398.3 120.8 L396.0 117.0 L393.0 114.7 L390.8 113.2 L387.0 114.0 L384.0 115.5 L381.0 113.2 L377.9 107.9 L376.4 110.2 L377.9 115.5 L377.9 124.5 L380.2 130.6 L382.4 133.6 L377.9 135.9 L373.3 139.7 L368.8 141.2 L364.2 147.3 L361.2 151.8 L361.2 157.9 L363.5 162.4 L367.0 164.5 L372.3 169.1 L370.8 173.6 L370.0 177.4 L364.0 179.0 L360.2 176.7 L358.6 179.7 L355.6 183.5 L351.8 184.2 L349.5 186.5 L346.5 187.3 L344.2 189.5 L340.5 188.8 L340.5 194.8 L339.0 197.9 L342.7 200.2 L348.8 198.6 L354.8 200.2 L360.2 201.7 L362.4 204.7 L361.0 211.5 L355.6 215.3 L351.8 218.3 L348.0 221.4 L344.2 224.4 L348.0 230.5 L352.6 234.2 L354.0 238.0 L357.9 237.3 L362.4 236.5 L365.5 240.3 L365.9 246.0 L363.6 251.4 L358.3 250.6 L354.5 252.1 L353.8 256.7 L353.0 261.2 L353.8 268.8 L348.5 269.5 L344.0 270.3 L345.5 274.8 L346.2 284.0 L350.0 284.7 L353.8 281.0 L356.0 281.7 L356.8 285.5 L360.6 284.7 L362.9 285.5 L361.4 288.5 L356.8 289.2 L353.8 290.8 L353.0 294.5 L356.8 296.0 L360.6 300.6 L362.9 306.7 L363.6 314.2 L362.9 321.8 L360.6 327.1 L358.3 324.8 L356.0 320.3 L353.0 317.3 L348.5 315.8 L347.6 315.5 L344.0 315.0 L342.4 312.0 L344.5 308.9 L342.4 304.8 L335.3 304.3 L332.2 302.8 L333.2 300.7 L337.3 296.6 L340.4 294.0 L335.3 291.5 L333.2 286.9 L330.2 286.9 L327.1 285.4 L323.0 290.0 L319.9 288.9 L317.9 285.4 L314.8 280.7 L310.7 279.2 L304.5 279.2 L297.4 279.2 L291.8 281.0 L288.2 281.8 L282.7 283.5 L275.2 286.5 L269.1 290.3 L263.0 294.8 L260.0 298.6 L255.5 298.6 L253.9 296.4 L252.4 291.8 L247.9 291.8 L246.4 294.8 L243.3 292.6 L241.0 291.0 L238.0 292.6 L235.8 296.4 L232.7 300.2 L228.2 303.2 L228.9 307.7 L225.2 311.5 L229.7 316.0 L237.3 313.8 L236.5 320.6 L232.7 325.2 L226.7 327.4 L222.1 329.7 L219.8 335.8 L216.0 341.8 L213.0 349.4 L210.9 350.6 L205.6 361.2 L202.6 370.3 L200.3 380.9 L198.0 391.5 L196.5 400.6 L195.8 409.7 L194.2 418.8 L193.5 424.8 L192.7 432.4 L194.2 439.1 L195.8 451.2 L198.0 461.8 L201.8 470.9 L206.4 478.5 L212.4 485.3 L214.7 490.6 L215.5 499.7 L217.7 505.8 L219.2 511.8 L220.0 520.9 L221.7 527.1 L223.2 539.2 L224.7 551.4 L225.5 568.0 L225.5 580.2 L224.7 583.2 L228.5 589.2 L230.0 593.0 L228.5 599.5 L228.5 601.0 L79.0 601.0Z"/>
<path d="M399.0 73.0 L400.6 80.6 L405.2 85.2 L407.4 93.5 L410.5 95.0 L415.0 91.2 L414.2 86.7 L410.5 85.2 L410.5 82.1 L414.2 80.6 L415.0 78.6 L420.3 78.2 L420.6 73.0Z"/>
<path d="M384.0 120.0 L388.0 118.0 L391.5 118.5 L391.8 125.0 L391.5 130.6 L387.0 132.0 L384.0 127.6Z"/>
<path d="M257.0 303.2 L260.0 301.0 L265.3 309.2 L261.5 311.5Z"/>
<path d="M344.0 326.0 L347.0 325.5 L352.0 334.5 L350.0 337.0 L346.5 335.0 L344.5 330.0Z"/>
<ellipse cx="373.3" cy="320.5" rx="4.0" ry="5.8" transform="rotate(0 373.3 320.5)"/>
<ellipse cx="361.4" cy="267.3" rx="1.9" ry="3.7" transform="rotate(-15 361.4 267.3)"/>
<ellipse cx="330.6" cy="320.3" rx="1.5" ry="4.2" transform="rotate(5 330.6 320.3)"/>
</g>
<g fill="#fff">
<path d="M352.2 245.5 L356.8 245.5 L356.8 249.0 L355.2 249.0 L355.2 252.6 L352.2 252.6Z"/>
<path d="M349.0 243.0 L351.0 244.0 L352.2 247.0 L350.6 247.2Z"/>
</g>
<rect x="379" y="275" width="2" height="2" fill="#000" shape-rendering="crispEdges"/>
<rect x="382" y="288" width="2" height="2" fill="#000" shape-rendering="crispEdges"/>
<g fill="#000" shape-rendering="crispEdges">
<rect x="217" y="77" width="1" height="522"/>
<rect x="354" y="77" width="1" height="522"/>
<rect x="491" y="77" width="1" height="522"/>
<rect x="81" y="250" width="492" height="1"/>
<rect x="81" y="424" width="492" height="1"/>
</g>
<text x="83" y="592.7" font-family="'Liberation Sans',Arial,sans-serif" font-size="20.3" font-weight="bold" font-style="italic" fill="#fff" textLength="85.5" lengthAdjust="spacingAndGlyphs">20160711</text>
</g>
<g shape-rendering="crispEdges">
<path fill="#000" fill-rule="evenodd" d="M78 73H576V602H78Z M81 77H573V599H81Z"/>
<rect x="81" y="74" width="66.5" height="1" fill="#fff"/>
<rect x="81" y="600" width="66.5" height="1" fill="#fff"/>
<rect x="218" y="74" width="66" height="1" fill="#fff"/>
<rect x="218" y="600" width="66" height="1" fill="#fff"/>
<rect x="355" y="74" width="66" height="1" fill="#fff"/>
<rect x="355" y="600" width="66" height="1" fill="#fff"/>
<rect x="492" y="74" width="66" height="1" fill="#fff"/>
<rect x="492" y="600" width="66" height="1" fill="#fff"/>
<rect x="79" y="164" width="1" height="85" fill="#fff"/>
<rect x="574" y="164" width="1" height="85" fill="#fff"/>
<rect x="79" y="338" width="1" height="85" fill="#fff"/>
<rect x="574" y="338" width="1" height="85" fill="#fff"/>
<rect x="79" y="512" width="1" height="87" fill="#fff"/>
<rect x="574" y="512" width="1" height="87" fill="#fff"/>
<rect x="79" y="74" width="1" height="1" fill="#fff"/><rect x="79" y="600" width="1" height="1" fill="#fff"/><rect x="574" y="74" width="1" height="1" fill="#fff"/><rect x="574" y="600" width="1" height="1" fill="#fff"/>
</g>
<g shape-rendering="crispEdges">
<rect x="592" y="594.53" width="14" height="5.27" fill="#facbfb"/>
<rect x="592" y="589.55" width="14" height="5.27" fill="#f7c2fa"/>
<rect x="592" y="584.58" width="14" height="5.27" fill="#f3b9f9"/>
<rect x="592" y="579.60" width="14" height="5.27" fill="#f0b0f8"/>
<rect x="592" y="574.63" width="14" height="5.27" fill="#eba7f8"/>
<rect x="592" y="569.65" width="14" height="5.27" fill="#e79ef8"/>
<rect x="592" y="564.68" width="14" height="5.27" fill="#e295f8"/>
<rect x="592" y="559.71" width="14" height="5.27" fill="#dd8df8"/>
<rect x="592" y="554.73" width="14" height="5.27" fill="#d686f8"/>
<rect x="592" y="549.76" width="14" height="5.27" fill="#cf7ff8"/>
<rect x="592" y="544.78" width="14" height="5.27" fill="#c878f8"/>
<rect x="592" y="539.81" width="14" height="5.27" fill="#bf73f8"/>
<rect x="592" y="534.83" width="14" height="5.27" fill="#b66ff8"/>
<rect x="592" y="529.86" width="14" height="5.27" fill="#ad6af8"/>
<rect x="592" y="524.89" width="14" height="5.27" fill="#a368f8"/>
<rect x="592" y="519.91" width="14" height="5.27" fill="#9a68f8"/>
<rect x="592" y="514.94" width="14" height="5.27" fill="#9168f8"/>
<rect x="592" y="509.96" width="14" height="5.27" fill="#8868f8"/>
<rect x="592" y="504.99" width="14" height="5.27" fill="#7f66f8"/>
<rect x="592" y="500.01" width="14" height="5.27" fill="#7663f8"/>
<rect x="592" y="495.04" width="14" height="5.27" fill="#6d61f8"/>
<rect x="592" y="490.07" width="14" height="5.27" fill="#6261f7"/>
<rect x="592" y="485.09" width="14" height="5.27" fill="#5763f5"/>
<rect x="592" y="480.12" width="14" height="5.27" fill="#4b66f2"/>
<rect x="592" y="475.14" width="14" height="5.27" fill="#4068f0"/>
<rect x="592" y="470.17" width="14" height="5.27" fill="#396dee"/>
<rect x="592" y="465.19" width="14" height="5.27" fill="#3271eb"/>
<rect x="592" y="460.22" width="14" height="5.27" fill="#2b76e9"/>
<rect x="592" y="455.25" width="14" height="5.27" fill="#257ae6"/>
<rect x="592" y="450.27" width="14" height="5.27" fill="#1e7fe1"/>
<rect x="592" y="445.30" width="14" height="5.27" fill="#1783dd"/>
<rect x="592" y="440.32" width="14" height="5.27" fill="#1088d8"/>
<rect x="592" y="435.35" width="14" height="5.27" fill="#0e8dd3"/>
<rect x="592" y="430.37" width="14" height="5.27" fill="#0b91cf"/>
<rect x="592" y="425.40" width="14" height="5.27" fill="#0996ca"/>
<rect x="592" y="420.43" width="14" height="5.27" fill="#089ac6"/>
<rect x="592" y="415.45" width="14" height="5.27" fill="#089fc1"/>
<rect x="592" y="410.48" width="14" height="5.27" fill="#08a3bd"/>
<rect x="592" y="405.50" width="14" height="5.27" fill="#08a8b8"/>
<rect x="592" y="400.53" width="14" height="5.27" fill="#0ab1b1"/>
<rect x="592" y="395.55" width="14" height="5.27" fill="#0dbaaa"/>
<rect x="592" y="390.58" width="14" height="5.27" fill="#0fc3a3"/>
<rect x="592" y="385.61" width="14" height="5.27" fill="#12cb9e"/>
<rect x="592" y="380.63" width="14" height="5.27" fill="#17d299"/>
<rect x="592" y="375.66" width="14" height="5.27" fill="#1bd995"/>
<rect x="592" y="370.68" width="14" height="5.27" fill="#20e090"/>
<rect x="592" y="365.71" width="14" height="5.27" fill="#29e587"/>
<rect x="592" y="360.73" width="14" height="5.27" fill="#32e97e"/>
<rect x="592" y="355.76" width="14" height="5.27" fill="#3bee75"/>
<rect x="592" y="350.79" width="14" height="5.27" fill="#45f16b"/>
<rect x="592" y="345.81" width="14" height="5.27" fill="#4ef362"/>
<rect x="592" y="340.84" width="14" height="5.27" fill="#57f659"/>
<rect x="592" y="335.86" width="14" height="5.27" fill="#60f850"/>
<rect x="592" y="330.89" width="14" height="5.27" fill="#65f64e"/>
<rect x="592" y="325.91" width="14" height="5.27" fill="#69f34b"/>
<rect x="592" y="320.94" width="14" height="5.27" fill="#6ef149"/>
<rect x="592" y="315.97" width="14" height="5.27" fill="#76f045"/>
<rect x="592" y="310.99" width="14" height="5.27" fill="#81f03e"/>
<rect x="592" y="306.02" width="14" height="5.27" fill="#8df037"/>
<rect x="592" y="301.04" width="14" height="5.27" fill="#98f030"/>
<rect x="592" y="296.07" width="14" height="5.27" fill="#a3ef2b"/>
<rect x="592" y="291.09" width="14" height="5.27" fill="#afee27"/>
<rect x="592" y="286.12" width="14" height="5.27" fill="#baed22"/>
<rect x="592" y="281.15" width="14" height="5.27" fill="#c3eb1f"/>
<rect x="592" y="276.17" width="14" height="5.27" fill="#cae91c"/>
<rect x="592" y="271.20" width="14" height="5.27" fill="#d0e719"/>
<rect x="592" y="266.22" width="14" height="5.27" fill="#d6e316"/>
<rect x="592" y="261.25" width="14" height="5.27" fill="#dddf14"/>
<rect x="592" y="256.27" width="14" height="5.27" fill="#e3d910"/>
<rect x="592" y="251.30" width="14" height="5.27" fill="#e9d30b"/>
<rect x="592" y="246.33" width="14" height="5.27" fill="#eecd05"/>
<rect x="592" y="241.35" width="14" height="5.27" fill="#f4c600"/>
<rect x="592" y="236.38" width="14" height="5.27" fill="#fbbf00"/>
<rect x="592" y="231.40" width="14" height="5.27" fill="#ffb800"/>
<rect x="592" y="226.43" width="14" height="5.27" fill="#ffb200"/>
<rect x="592" y="221.45" width="14" height="5.27" fill="#ffa800"/>
<rect x="592" y="216.48" width="14" height="5.27" fill="#ff9e00"/>
<rect x="592" y="211.51" width="14" height="5.27" fill="#ff9800"/>
<rect x="592" y="206.53" width="14" height="5.27" fill="#ff9000"/>
<rect x="592" y="201.56" width="14" height="5.27" fill="#ff8a00"/>
<rect x="592" y="196.58" width="14" height="5.27" fill="#ff8600"/>
<rect x="592" y="191.61" width="14" height="5.27" fill="#ff8100"/>
<rect x="592" y="186.63" width="14" height="5.27" fill="#ff7b00"/>
<rect x="592" y="181.66" width="14" height="5.27" fill="#ff7400"/>
<rect x="592" y="176.69" width="14" height="5.27" fill="#ff6e04"/>
<rect x="592" y="171.71" width="14" height="5.27" fill="#ff690d"/>
<rect x="592" y="166.74" width="14" height="5.27" fill="#ff6413"/>
<rect x="592" y="161.76" width="14" height="5.27" fill="#ff6018"/>
<rect x="592" y="156.79" width="14" height="5.27" fill="#ff5e1d"/>
<rect x="592" y="151.81" width="14" height="5.27" fill="#ff5c21"/>
<rect x="592" y="146.84" width="14" height="5.27" fill="#ff5b26"/>
<rect x="592" y="141.87" width="14" height="5.27" fill="#ff5a2a"/>
<rect x="592" y="136.89" width="14" height="5.27" fill="#ff5a2f"/>
<rect x="592" y="131.92" width="14" height="5.27" fill="#fe5b35"/>
<rect x="592" y="126.94" width="14" height="5.27" fill="#fd5c3c"/>
<rect x="592" y="121.97" width="14" height="5.27" fill="#fb6143"/>
<rect x="592" y="116.99" width="14" height="5.27" fill="#fa664b"/>
<rect x="592" y="112.02" width="14" height="5.27" fill="#f96d59"/>
<rect x="592" y="107.05" width="14" height="5.27" fill="#f77565"/>
<rect x="592" y="102.07" width="14" height="5.27" fill="#f57e6e"/>
<rect x="592" y="97.10" width="14" height="5.27" fill="#f58773"/>
<rect x="592" y="92.12" width="14" height="5.27" fill="#f59078"/>
<rect x="592" y="87.15" width="14" height="5.27" fill="#f59e81"/>
<rect x="592" y="82.17" width="14" height="5.27" fill="#f5ad8b"/>
<rect x="592" y="77.20" width="14" height="5.27" fill="#f5bf99"/>
</g>
<path d="M592 77.2 L599.0 70.2 L606 77.2 Z" fill="#f5d2ad"/>
<path d="M592 599.5 L599.0 607 L606 599.5 Z" fill="#ffe2ff"/>
<path d="M592.5 77.2 L599.0 70.2 L605.5 77.2 L605.5 599.5 L599.0 607 L592.5 599.5Z" fill="none" stroke="#000" stroke-width="1" stroke-linejoin="miter"/>
<g font-family="'Liberation Sans',Arial,sans-serif" font-weight="bold" font-style="italic" fill="#000" font-size="14">
<text x="610" y="604.7" textLength="7.2" lengthAdjust="spacingAndGlyphs">0</text>
<text x="610" y="517.7" textLength="7.2" lengthAdjust="spacingAndGlyphs">5</text>
<text x="610" y="430.6" textLength="14" lengthAdjust="spacingAndGlyphs">10</text>
<text x="610" y="343.6" textLength="14" lengthAdjust="spacingAndGlyphs">15</text>
<text x="610" y="256.5" textLength="14" lengthAdjust="spacingAndGlyphs">20</text>
<text x="610" y="169.4" textLength="14" lengthAdjust="spacingAndGlyphs">25</text>
<text x="610" y="82.4" textLength="14" lengthAdjust="spacingAndGlyphs">30</text>
<text x="45.8" y="81.8" textLength="27.7" lengthAdjust="spacingAndGlyphs">39°N</text>
<text x="35.0" y="255.5" textLength="38.5" lengthAdjust="spacingAndGlyphs">38.5°N</text>
<text x="45.8" y="429.5" textLength="27.7" lengthAdjust="spacingAndGlyphs">38°N</text>
<text x="35.0" y="603.3" textLength="38.5" lengthAdjust="spacingAndGlyphs">37.5°N</text>
<text x="59.0" y="620" textLength="43.5" lengthAdjust="spacingAndGlyphs">140.5°E</text>
<text x="201.4" y="620" textLength="32.5" lengthAdjust="spacingAndGlyphs">141°E</text>
<text x="332.8" y="620" textLength="43.5" lengthAdjust="spacingAndGlyphs">141.5°E</text>
<text x="475.2" y="620" textLength="32.5" lengthAdjust="spacingAndGlyphs">142°E</text>
</g>
<text font-family="'Liberation Sans',Arial,sans-serif" font-weight="bold" font-style="italic" fill="#000" font-size="20" x="172.6" y="54.9" textLength="310" lengthAdjust="spacingAndGlyphs">Temperture[-C] @ Depth[m]=Top</text>
<text font-family="'Liberation Sans',Arial,sans-serif" font-weight="bold" font-style="italic" fill="#000" font-size="10" transform="translate(587.4 597.8) rotate(-90)" textLength="84.5" lengthAdjust="spacingAndGlyphs">Ocean Data View</text>
</svg>
</body></html>
